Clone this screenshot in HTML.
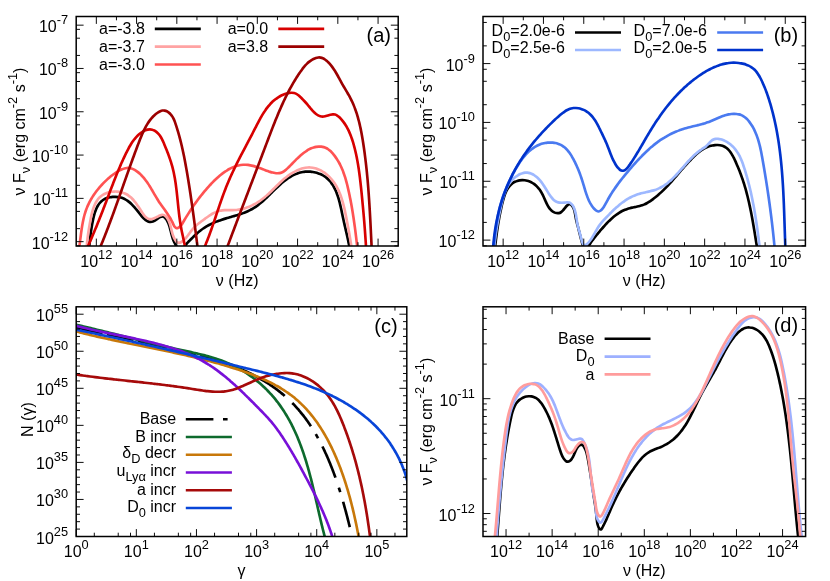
<!DOCTYPE html>
<html><head><meta charset="utf-8"><title>SED parameter study</title>
<style>html,body{margin:0;padding:0;background:#fff}svg{display:block;will-change:transform}</style></head>
<body>
<svg width="830" height="581" viewBox="0 0 830 581" font-family='"Liberation Sans", sans-serif' font-size="16.0" fill="#000">
<rect width="830" height="581" fill="#fff"/>
<g id="panel-a">
<clipPath id="clip-a"><rect x="76.2" y="16.5" width="322" height="229.5"/></clipPath>
<g clip-path="url(#clip-a)" fill="none" stroke-width="2.65" stroke-linejoin="round">
<path d="M88.78 252.35C88.81 251.91 88.91 250.59 88.99 249.72C89.06 248.84 89.13 247.98 89.2 247.13C89.28 246.27 89.35 245.42 89.43 244.58C89.51 243.74 89.59 242.9 89.68 242.07C89.76 241.24 89.85 240.41 89.94 239.59C90.03 238.77 90.12 237.95 90.22 237.13C90.32 236.31 90.42 235.49 90.53 234.68C90.64 233.86 90.75 233.05 90.86 232.23C90.98 231.41 91.1 230.6 91.23 229.78C91.36 228.96 91.49 228.14 91.63 227.31C91.77 226.49 91.91 225.66 92.06 224.83C92.21 224 92.37 223.16 92.54 222.32C92.7 221.48 92.87 220.63 93.05 219.77C93.24 218.92 93.42 218.06 93.63 217.21C93.83 216.35 94.05 215.5 94.28 214.65C94.52 213.81 94.77 212.97 95.04 212.15C95.31 211.32 95.6 210.51 95.92 209.72C96.24 208.93 96.58 208.16 96.96 207.41C97.33 206.67 97.73 205.94 98.16 205.25C98.6 204.56 99.06 203.9 99.56 203.28C100.07 202.65 100.61 202.06 101.19 201.52C101.77 200.98 102.39 200.47 103.05 200.02C103.72 199.56 104.43 199.16 105.18 198.8C105.93 198.45 106.72 198.14 107.54 197.88C108.35 197.62 109.2 197.41 110.06 197.25C110.92 197.09 111.81 196.98 112.69 196.91C113.58 196.85 114.48 196.83 115.36 196.86C116.25 196.89 117.15 196.96 118.01 197.08C118.88 197.21 119.75 197.37 120.58 197.59C121.41 197.8 122.22 198.06 123 198.36C123.78 198.66 124.52 199.01 125.24 199.39C125.97 199.78 126.66 200.2 127.33 200.66C128.01 201.11 128.66 201.6 129.29 202.12C129.93 202.64 130.54 203.18 131.14 203.75C131.74 204.32 132.33 204.92 132.9 205.53C133.48 206.14 134.04 206.78 134.6 207.42C135.16 208.06 135.71 208.73 136.26 209.39C136.81 210.06 137.35 210.74 137.9 211.42C138.44 212.1 138.99 212.79 139.54 213.48C140.09 214.16 140.65 214.86 141.21 215.53C141.78 216.2 142.35 216.87 142.93 217.5C143.51 218.12 144.11 218.73 144.72 219.26C145.32 219.79 145.95 220.29 146.59 220.68C147.23 221.07 147.88 221.41 148.56 221.62C149.24 221.83 149.94 221.96 150.66 221.94C151.38 221.93 152.12 221.8 152.89 221.52C153.67 221.24 154.47 220.76 155.28 220.26C156.09 219.76 156.93 219.08 157.74 218.55C158.56 218.01 159.38 217.4 160.16 217.05C160.94 216.69 161.7 216.39 162.4 216.42C163.1 216.45 163.76 216.81 164.36 217.24C164.96 217.68 165.49 218.4 165.98 219.04C166.47 219.69 166.9 220.39 167.3 221.1C167.69 221.82 168.04 222.56 168.36 223.33C168.68 224.09 168.96 224.89 169.23 225.69C169.5 226.49 169.73 227.32 169.96 228.15C170.19 228.98 170.4 229.83 170.62 230.67C170.83 231.52 171.03 232.37 171.25 233.22C171.46 234.07 171.67 234.92 171.91 235.76C172.15 236.6 172.39 237.44 172.67 238.26C172.94 239.07 173.24 239.88 173.57 240.67C173.91 241.46 174.28 242.21 174.67 242.99C175.06 243.76 175.49 244.52 175.92 245.32C176.35 246.12 176.8 247.01 177.25 247.79C177.7 248.56 178.16 249.41 178.63 249.95C179.1 250.49 179.58 250.95 180.07 251.03C180.56 251.11 181.06 250.84 181.56 250.42C182.07 250.01 182.59 249.26 183.11 248.56C183.64 247.86 184.18 246.97 184.72 246.22C185.27 245.47 185.82 244.74 186.39 244.05C186.95 243.37 187.53 242.74 188.11 242.12C188.69 241.49 189.28 240.91 189.87 240.31C190.46 239.71 191.06 239.13 191.67 238.53C192.27 237.93 192.88 237.32 193.49 236.72C194.11 236.12 194.73 235.51 195.36 234.92C195.99 234.33 196.62 233.74 197.26 233.17C197.91 232.6 198.56 232.05 199.21 231.51C199.87 230.98 200.54 230.46 201.21 229.96C201.89 229.46 202.57 228.97 203.26 228.51C203.95 228.04 204.65 227.59 205.36 227.15C206.06 226.72 206.77 226.29 207.49 225.89C208.21 225.48 208.94 225.09 209.68 224.71C210.41 224.33 211.15 223.97 211.9 223.61C212.65 223.26 213.4 222.92 214.17 222.59C214.93 222.26 215.7 221.94 216.47 221.64C217.25 221.33 218.03 221.03 218.81 220.75C219.6 220.46 220.4 220.18 221.2 219.91C222 219.65 222.8 219.39 223.61 219.13C224.42 218.88 225.23 218.63 226.05 218.38C226.87 218.14 227.69 217.9 228.51 217.66C229.33 217.42 230.15 217.19 230.97 216.95C231.79 216.71 232.61 216.48 233.43 216.24C234.25 216 235.08 215.76 235.89 215.51C236.71 215.27 237.52 215.02 238.33 214.76C239.14 214.5 239.95 214.24 240.75 213.97C241.55 213.7 242.35 213.42 243.14 213.13C243.93 212.84 244.71 212.54 245.48 212.22C246.26 211.91 247.02 211.59 247.78 211.24C248.54 210.9 249.29 210.55 250.02 210.18C250.76 209.8 251.49 209.41 252.2 209.01C252.92 208.6 253.62 208.17 254.31 207.73C255 207.28 255.68 206.82 256.35 206.35C257.03 205.87 257.69 205.38 258.34 204.87C259 204.37 259.65 203.85 260.29 203.32C260.93 202.79 261.56 202.25 262.19 201.7C262.82 201.15 263.44 200.59 264.06 200.02C264.68 199.45 265.29 198.87 265.91 198.29C266.52 197.71 267.13 197.12 267.74 196.52C268.35 195.93 268.95 195.33 269.56 194.73C270.17 194.13 270.78 193.52 271.39 192.92C272 192.31 272.6 191.7 273.22 191.1C273.83 190.49 274.45 189.89 275.07 189.28C275.69 188.68 276.31 188.08 276.94 187.49C277.57 186.89 278.2 186.3 278.84 185.71C279.48 185.13 280.13 184.54 280.79 183.97C281.44 183.4 282.1 182.84 282.77 182.29C283.44 181.74 284.12 181.2 284.8 180.67C285.49 180.14 286.18 179.63 286.88 179.13C287.58 178.64 288.28 178.15 289 177.69C289.71 177.23 290.44 176.79 291.17 176.37C291.9 175.95 292.64 175.54 293.39 175.17C294.14 174.79 294.89 174.44 295.66 174.12C296.42 173.79 297.2 173.49 297.98 173.22C298.76 172.96 299.56 172.71 300.36 172.51C301.16 172.3 301.97 172.12 302.79 171.98C303.61 171.84 304.44 171.73 305.28 171.66C306.12 171.59 306.97 171.56 307.81 171.56C308.66 171.56 309.52 171.59 310.37 171.66C311.22 171.73 312.08 171.84 312.92 171.98C313.77 172.11 314.61 172.28 315.44 172.49C316.27 172.69 317.09 172.93 317.89 173.2C318.7 173.46 319.49 173.76 320.26 174.09C321.03 174.43 321.78 174.79 322.5 175.18C323.23 175.57 323.93 175.99 324.61 176.44C325.28 176.89 325.92 177.38 326.54 177.88C327.16 178.39 327.75 178.92 328.32 179.48C328.89 180.04 329.43 180.63 329.95 181.24C330.47 181.84 330.96 182.47 331.43 183.13C331.91 183.78 332.36 184.45 332.79 185.14C333.22 185.83 333.63 186.54 334.02 187.27C334.42 188 334.79 188.74 335.15 189.5C335.5 190.26 335.84 191.04 336.17 191.82C336.49 192.61 336.8 193.41 337.09 194.22C337.39 195.03 337.67 195.86 337.94 196.69C338.21 197.52 338.47 198.36 338.71 199.2C338.96 200.05 339.2 200.9 339.42 201.76C339.65 202.62 339.87 203.48 340.08 204.35C340.29 205.21 340.49 206.08 340.69 206.95C340.89 207.82 341.08 208.69 341.27 209.55C341.46 210.42 341.64 211.29 341.83 212.15C342.01 213.01 342.19 213.88 342.36 214.73C342.54 215.58 342.72 216.43 342.9 217.28C343.08 218.12 343.26 218.95 343.44 219.78C343.62 220.6 343.8 221.42 343.98 222.23C344.17 223.05 344.35 223.85 344.53 224.66C344.72 225.46 344.9 226.25 345.09 227.05C345.27 227.85 345.46 228.64 345.64 229.43C345.82 230.22 346.01 231 346.19 231.79C346.37 232.58 346.56 233.37 346.74 234.16C346.92 234.95 347.1 235.74 347.27 236.54C347.45 237.33 347.63 238.13 347.8 238.93C347.98 239.73 348.15 240.53 348.32 241.35C348.49 242.16 348.66 242.97 348.82 243.8C348.98 244.62 349.15 245.45 349.3 246.29C349.46 247.14 349.62 247.98 349.77 248.84C349.92 249.7 350.07 250.57 350.21 251.45C350.35 252.34 350.56 253.69 350.63 254.13" stroke="#000000"/>
<path d="M86.42 252.4C86.44 251.94 86.5 250.57 86.54 249.68C86.59 248.79 86.64 247.92 86.7 247.05C86.76 246.19 86.83 245.34 86.9 244.49C86.97 243.65 87.05 242.82 87.13 242C87.21 241.17 87.3 240.35 87.4 239.54C87.49 238.73 87.59 237.92 87.7 237.12C87.8 236.31 87.91 235.51 88.02 234.71C88.14 233.91 88.26 233.11 88.38 232.31C88.5 231.51 88.63 230.71 88.76 229.9C88.89 229.1 89.03 228.29 89.16 227.47C89.3 226.66 89.44 225.84 89.59 225.01C89.73 224.18 89.88 223.34 90.03 222.5C90.18 221.65 90.34 220.79 90.5 219.93C90.66 219.07 90.82 218.2 91 217.33C91.18 216.46 91.36 215.59 91.56 214.72C91.75 213.85 91.96 212.99 92.19 212.13C92.41 211.27 92.65 210.42 92.91 209.58C93.17 208.75 93.45 207.92 93.75 207.11C94.06 206.3 94.38 205.51 94.73 204.74C95.07 203.97 95.45 203.21 95.85 202.49C96.25 201.76 96.68 201.06 97.14 200.39C97.61 199.72 98.1 199.07 98.63 198.47C99.16 197.86 99.72 197.28 100.33 196.75C100.93 196.22 101.57 195.72 102.25 195.27C102.93 194.81 103.65 194.4 104.39 194.03C105.14 193.66 105.92 193.32 106.71 193.04C107.51 192.75 108.34 192.5 109.17 192.3C110 192.09 110.86 191.93 111.72 191.81C112.57 191.69 113.45 191.61 114.31 191.57C115.18 191.54 116.05 191.54 116.91 191.59C117.77 191.64 118.63 191.74 119.47 191.87C120.31 192.01 121.15 192.18 121.95 192.41C122.76 192.63 123.55 192.89 124.31 193.2C125.06 193.51 125.79 193.86 126.5 194.25C127.21 194.64 127.88 195.08 128.54 195.54C129.2 196.01 129.83 196.51 130.45 197.04C131.06 197.57 131.66 198.14 132.23 198.73C132.81 199.32 133.37 199.94 133.92 200.57C134.47 201.21 135 201.88 135.52 202.56C136.04 203.23 136.55 203.94 137.05 204.65C137.56 205.36 138.05 206.09 138.54 206.82C139.03 207.56 139.51 208.31 139.99 209.06C140.47 209.81 140.94 210.57 141.42 211.32C141.9 212.07 142.37 212.84 142.87 213.56C143.36 214.28 143.85 214.99 144.38 215.62C144.9 216.26 145.44 216.86 146.01 217.35C146.59 217.85 147.19 218.29 147.83 218.59C148.48 218.89 149.16 219.11 149.89 219.17C150.63 219.23 151.42 219.14 152.24 218.96C153.06 218.77 153.95 218.42 154.8 218.06C155.65 217.7 156.53 217.21 157.37 216.79C158.2 216.37 159.02 215.87 159.8 215.55C160.59 215.22 161.35 214.89 162.08 214.82C162.8 214.75 163.51 214.84 164.16 215.13C164.82 215.42 165.45 215.99 166 216.55C166.56 217.11 167.05 217.79 167.5 218.47C167.94 219.15 168.32 219.88 168.67 220.63C169.02 221.38 169.31 222.17 169.59 222.98C169.87 223.79 170.11 224.62 170.34 225.47C170.58 226.31 170.78 227.18 171 228.04C171.21 228.91 171.41 229.78 171.63 230.65C171.85 231.52 172.07 232.39 172.32 233.25C172.57 234.1 172.83 234.96 173.15 235.78C173.46 236.61 173.79 237.42 174.18 238.2C174.57 238.97 175.01 239.77 175.5 240.44C175.99 241.1 176.54 241.79 177.12 242.19C177.7 242.59 178.33 242.86 178.97 242.86C179.62 242.87 180.31 242.55 180.96 242.22C181.62 241.89 182.28 241.37 182.9 240.87C183.52 240.36 184.12 239.79 184.71 239.19C185.29 238.6 185.86 237.94 186.42 237.28C186.98 236.62 187.52 235.91 188.06 235.21C188.6 234.5 189.13 233.77 189.67 233.06C190.21 232.34 190.74 231.61 191.28 230.91C191.82 230.2 192.37 229.5 192.92 228.84C193.48 228.17 194.05 227.53 194.63 226.93C195.22 226.33 195.82 225.77 196.43 225.23C197.05 224.69 197.68 224.19 198.32 223.7C198.95 223.2 199.61 222.73 200.26 222.24C200.92 221.75 201.59 221.28 202.26 220.78C202.93 220.29 203.61 219.78 204.29 219.27C204.98 218.77 205.67 218.25 206.37 217.75C207.06 217.25 207.77 216.74 208.48 216.25C209.2 215.77 209.92 215.29 210.65 214.83C211.38 214.38 212.12 213.93 212.86 213.53C213.61 213.12 214.37 212.73 215.13 212.39C215.9 212.04 216.68 211.72 217.47 211.45C218.25 211.19 219.05 210.95 219.86 210.77C220.67 210.59 221.49 210.47 222.32 210.37C223.15 210.28 223.99 210.23 224.83 210.19C225.68 210.16 226.53 210.15 227.38 210.15C228.23 210.15 229.09 210.16 229.95 210.17C230.81 210.17 231.67 210.18 232.52 210.16C233.38 210.14 234.24 210.11 235.09 210.05C235.94 209.98 236.79 209.9 237.63 209.79C238.47 209.67 239.31 209.54 240.15 209.38C240.98 209.22 241.81 209.04 242.63 208.84C243.45 208.64 244.27 208.41 245.08 208.16C245.89 207.92 246.69 207.65 247.48 207.36C248.28 207.08 249.07 206.77 249.85 206.45C250.62 206.12 251.39 205.78 252.16 205.42C252.92 205.05 253.67 204.67 254.41 204.28C255.15 203.88 255.89 203.47 256.61 203.04C257.33 202.62 258.04 202.17 258.74 201.72C259.44 201.26 260.13 200.79 260.8 200.3C261.48 199.82 262.14 199.32 262.79 198.81C263.44 198.3 264.08 197.78 264.72 197.25C265.35 196.72 265.97 196.18 266.59 195.63C267.2 195.08 267.81 194.52 268.41 193.96C269.02 193.39 269.61 192.82 270.21 192.25C270.8 191.67 271.39 191.09 271.98 190.5C272.57 189.92 273.16 189.33 273.75 188.74C274.34 188.16 274.93 187.56 275.52 186.98C276.11 186.39 276.71 185.79 277.31 185.21C277.9 184.62 278.51 184.03 279.12 183.45C279.72 182.87 280.34 182.29 280.96 181.71C281.59 181.14 282.22 180.57 282.86 180.01C283.5 179.45 284.15 178.89 284.81 178.34C285.48 177.8 286.15 177.26 286.84 176.73C287.53 176.21 288.23 175.69 288.95 175.18C289.66 174.68 290.4 174.18 291.14 173.71C291.88 173.23 292.64 172.77 293.41 172.33C294.17 171.9 294.95 171.48 295.73 171.08C296.52 170.69 297.31 170.32 298.11 169.98C298.91 169.64 299.71 169.32 300.52 169.04C301.33 168.76 302.14 168.51 302.96 168.3C303.77 168.09 304.59 167.91 305.41 167.77C306.22 167.63 307.04 167.53 307.85 167.48C308.67 167.42 309.48 167.41 310.29 167.45C311.1 167.48 311.9 167.57 312.7 167.69C313.5 167.82 314.29 167.99 315.07 168.2C315.86 168.41 316.64 168.66 317.4 168.95C318.17 169.23 318.93 169.56 319.68 169.91C320.42 170.27 321.16 170.66 321.88 171.08C322.61 171.5 323.32 171.96 324.01 172.44C324.71 172.92 325.39 173.42 326.05 173.95C326.72 174.48 327.37 175.04 327.99 175.61C328.62 176.18 329.23 176.78 329.83 177.39C330.42 178 330.99 178.64 331.54 179.28C332.08 179.92 332.61 180.58 333.12 181.25C333.62 181.92 334.11 182.61 334.58 183.3C335.04 184 335.49 184.7 335.92 185.42C336.34 186.14 336.75 186.87 337.15 187.61C337.54 188.35 337.92 189.1 338.28 189.86C338.64 190.61 338.98 191.38 339.31 192.16C339.64 192.93 339.96 193.71 340.26 194.5C340.56 195.29 340.85 196.09 341.13 196.89C341.4 197.69 341.67 198.5 341.92 199.32C342.18 200.13 342.42 200.95 342.65 201.77C342.89 202.59 343.11 203.42 343.33 204.25C343.54 205.08 343.75 205.91 343.95 206.74C344.15 207.58 344.35 208.41 344.54 209.25C344.72 210.09 344.91 210.92 345.08 211.76C345.26 212.6 345.43 213.44 345.6 214.27C345.77 215.11 345.94 215.95 346.11 216.78C346.27 217.61 346.43 218.44 346.6 219.27C346.76 220.1 346.92 220.93 347.08 221.75C347.23 222.58 347.39 223.4 347.55 224.22C347.7 225.04 347.86 225.86 348.01 226.68C348.16 227.5 348.32 228.32 348.47 229.13C348.62 229.95 348.76 230.77 348.91 231.59C349.06 232.4 349.2 233.22 349.35 234.04C349.49 234.86 349.63 235.68 349.77 236.5C349.91 237.32 350.05 238.14 350.19 238.96C350.33 239.78 350.46 240.61 350.59 241.43C350.73 242.26 350.86 243.09 350.99 243.92C351.12 244.75 351.25 245.59 351.38 246.43C351.5 247.26 351.63 248.1 351.75 248.95C351.87 249.79 351.99 250.64 352.11 251.49C352.23 252.34 352.41 253.63 352.47 254.06" stroke="#ffa3a3"/>
<path d="M78.44 252.17C78.51 251.78 78.72 250.59 78.85 249.8C78.98 249 79.11 248.19 79.23 247.38C79.35 246.57 79.46 245.75 79.58 244.93C79.69 244.11 79.8 243.28 79.91 242.45C80.01 241.62 80.12 240.78 80.23 239.95C80.33 239.11 80.44 238.27 80.54 237.42C80.65 236.58 80.76 235.73 80.87 234.89C80.97 234.04 81.09 233.19 81.2 232.34C81.31 231.49 81.43 230.64 81.55 229.79C81.68 228.94 81.8 228.09 81.94 227.25C82.07 226.4 82.21 225.55 82.36 224.71C82.5 223.87 82.66 223.02 82.82 222.19C82.98 221.35 83.15 220.51 83.34 219.68C83.52 218.85 83.71 218.02 83.91 217.2C84.11 216.38 84.33 215.56 84.55 214.75C84.78 213.93 85.02 213.13 85.27 212.33C85.52 211.53 85.79 210.74 86.07 209.95C86.35 209.16 86.65 208.39 86.96 207.62C87.27 206.85 87.59 206.08 87.93 205.33C88.27 204.57 88.63 203.82 89 203.08C89.36 202.34 89.75 201.61 90.14 200.88C90.53 200.16 90.94 199.44 91.36 198.72C91.78 198.01 92.22 197.31 92.66 196.61C93.11 195.91 93.56 195.22 94.03 194.53C94.5 193.85 94.98 193.17 95.48 192.5C95.97 191.83 96.47 191.17 96.98 190.51C97.5 189.85 98.02 189.2 98.56 188.56C99.09 187.91 99.64 187.27 100.19 186.64C100.75 186.01 101.31 185.39 101.89 184.77C102.46 184.15 103.04 183.54 103.63 182.93C104.23 182.33 104.83 181.73 105.44 181.13C106.04 180.54 106.66 179.96 107.29 179.38C107.92 178.8 108.55 178.24 109.2 177.68C109.85 177.13 110.51 176.58 111.17 176.05C111.84 175.52 112.52 175 113.21 174.5C113.9 174 114.6 173.51 115.31 173.04C116.02 172.56 116.75 172.11 117.48 171.67C118.22 171.23 118.96 170.81 119.72 170.42C120.48 170.02 121.26 169.63 122.04 169.29C122.82 168.96 123.62 168.64 124.4 168.41C125.19 168.19 125.99 168.02 126.77 167.95C127.56 167.88 128.34 167.9 129.11 167.99C129.88 168.08 130.65 168.25 131.41 168.49C132.17 168.72 132.92 169.02 133.65 169.38C134.39 169.73 135.11 170.15 135.83 170.61C136.54 171.07 137.24 171.58 137.92 172.12C138.6 172.65 139.27 173.24 139.92 173.84C140.57 174.44 141.2 175.08 141.81 175.72C142.42 176.36 143.01 177.03 143.58 177.69C144.15 178.36 144.7 179.04 145.23 179.72C145.76 180.4 146.27 181.09 146.77 181.78C147.26 182.47 147.74 183.17 148.21 183.87C148.68 184.57 149.13 185.28 149.58 185.99C150.02 186.7 150.45 187.41 150.88 188.12C151.31 188.83 151.73 189.55 152.15 190.27C152.56 190.98 152.97 191.7 153.39 192.41C153.8 193.13 154.2 193.84 154.62 194.55C155.03 195.27 155.44 195.98 155.86 196.69C156.27 197.4 156.69 198.1 157.12 198.8C157.55 199.5 157.98 200.2 158.43 200.9C158.88 201.59 159.33 202.28 159.8 202.96C160.26 203.64 160.74 204.32 161.22 205C161.7 205.68 162.19 206.35 162.67 207.03C163.16 207.71 163.66 208.39 164.15 209.07C164.64 209.75 165.14 210.43 165.63 211.12C166.12 211.81 166.6 212.51 167.08 213.21C167.56 213.92 168.04 214.63 168.51 215.35C168.97 216.07 169.43 216.8 169.88 217.55C170.32 218.29 170.76 219.05 171.17 219.82C171.59 220.6 171.99 221.39 172.38 222.19C172.77 222.99 173.12 223.86 173.5 224.62C173.88 225.37 174.23 226.17 174.67 226.73C175.11 227.29 175.57 227.77 176.12 227.97C176.66 228.18 177.32 228.14 177.93 227.95C178.54 227.76 179.18 227.33 179.76 226.81C180.34 226.3 180.89 225.6 181.42 224.89C181.95 224.17 182.45 223.32 182.95 222.51C183.45 221.7 183.94 220.85 184.42 220.04C184.91 219.22 185.38 218.43 185.86 217.64C186.33 216.86 186.8 216.09 187.27 215.34C187.74 214.58 188.2 213.84 188.66 213.11C189.12 212.38 189.58 211.66 190.04 210.95C190.5 210.24 190.96 209.54 191.42 208.85C191.87 208.16 192.33 207.49 192.79 206.81C193.25 206.14 193.71 205.47 194.17 204.81C194.63 204.16 195.09 203.5 195.55 202.86C196.02 202.21 196.49 201.57 196.96 200.93C197.43 200.29 197.91 199.65 198.39 199.02C198.87 198.39 199.35 197.76 199.84 197.13C200.33 196.5 200.83 195.87 201.33 195.24C201.83 194.61 202.34 193.98 202.86 193.35C203.38 192.72 203.9 192.09 204.43 191.45C204.97 190.82 205.51 190.18 206.06 189.54C206.61 188.9 207.17 188.25 207.74 187.61C208.31 186.96 208.88 186.32 209.47 185.68C210.06 185.03 210.65 184.39 211.25 183.75C211.86 183.12 212.47 182.48 213.09 181.85C213.7 181.23 214.33 180.6 214.97 179.99C215.6 179.38 216.24 178.77 216.89 178.18C217.54 177.58 218.2 177 218.86 176.42C219.53 175.85 220.2 175.29 220.88 174.74C221.56 174.2 222.25 173.66 222.94 173.15C223.63 172.64 224.33 172.14 225.04 171.66C225.75 171.18 226.46 170.71 227.18 170.27C227.9 169.83 228.62 169.41 229.36 169.01C230.09 168.62 230.83 168.24 231.57 167.89C232.32 167.54 233.07 167.22 233.82 166.92C234.58 166.62 235.34 166.35 236.11 166.11C236.87 165.87 237.65 165.66 238.42 165.48C239.2 165.3 239.98 165.15 240.77 165.03C241.56 164.91 242.35 164.83 243.15 164.78C243.95 164.74 244.75 164.72 245.56 164.75C246.36 164.78 247.18 164.84 247.99 164.94C248.81 165.04 249.63 165.17 250.45 165.34C251.27 165.5 252.09 165.69 252.92 165.9C253.75 166.12 254.58 166.36 255.4 166.61C256.23 166.87 257.06 167.14 257.89 167.42C258.72 167.71 259.55 168.01 260.38 168.31C261.21 168.61 262.04 168.92 262.86 169.23C263.68 169.54 264.51 169.85 265.33 170.15C266.14 170.46 266.96 170.76 267.77 171.05C268.58 171.33 269.39 171.62 270.19 171.87C270.99 172.13 271.79 172.37 272.58 172.57C273.37 172.77 274.16 172.95 274.94 173.06C275.71 173.18 276.49 173.26 277.25 173.27C278.01 173.27 278.77 173.23 279.52 173.1C280.27 172.97 281.01 172.77 281.74 172.48C282.47 172.18 283.19 171.79 283.9 171.33C284.61 170.88 285.31 170.32 286 169.74C286.69 169.16 287.37 168.51 288.03 167.87C288.69 167.23 289.34 166.55 289.98 165.9C290.62 165.25 291.24 164.6 291.85 163.97C292.46 163.34 293.06 162.72 293.66 162.11C294.25 161.51 294.84 160.91 295.43 160.33C296.01 159.74 296.59 159.17 297.18 158.61C297.77 158.04 298.36 157.49 298.95 156.94C299.55 156.4 300.15 155.86 300.77 155.34C301.38 154.81 302 154.29 302.64 153.78C303.28 153.26 303.94 152.76 304.61 152.26C305.29 151.76 305.98 151.26 306.69 150.8C307.41 150.33 308.14 149.87 308.89 149.45C309.65 149.04 310.42 148.64 311.22 148.31C312.01 147.97 312.83 147.67 313.66 147.43C314.48 147.18 315.33 146.99 316.18 146.85C317.03 146.71 317.89 146.62 318.73 146.6C319.58 146.57 320.43 146.6 321.26 146.69C322.09 146.79 322.91 146.94 323.71 147.15C324.5 147.37 325.28 147.66 326.03 148.01C326.77 148.36 327.48 148.78 328.17 149.25C328.85 149.72 329.51 150.27 330.14 150.83C330.77 151.39 331.37 152.01 331.95 152.64C332.54 153.26 333.09 153.92 333.64 154.58C334.18 155.25 334.7 155.92 335.2 156.6C335.7 157.28 336.18 157.98 336.65 158.68C337.11 159.38 337.56 160.09 337.99 160.81C338.43 161.53 338.84 162.26 339.24 163C339.64 163.73 340.02 164.48 340.39 165.23C340.76 165.98 341.12 166.74 341.46 167.51C341.8 168.27 342.13 169.04 342.45 169.82C342.77 170.6 343.07 171.38 343.36 172.17C343.66 172.96 343.94 173.75 344.21 174.55C344.48 175.35 344.74 176.15 344.99 176.95C345.25 177.76 345.49 178.57 345.73 179.38C345.96 180.19 346.19 181.01 346.41 181.83C346.63 182.65 346.84 183.47 347.05 184.29C347.26 185.11 347.46 185.93 347.65 186.76C347.85 187.58 348.04 188.41 348.23 189.23C348.42 190.06 348.6 190.88 348.78 191.71C348.96 192.53 349.14 193.36 349.31 194.18C349.49 195.01 349.66 195.83 349.83 196.66C349.99 197.48 350.16 198.31 350.32 199.13C350.48 199.96 350.64 200.79 350.8 201.61C350.95 202.44 351.1 203.26 351.26 204.09C351.41 204.91 351.55 205.74 351.7 206.57C351.84 207.39 351.98 208.22 352.12 209.04C352.26 209.87 352.4 210.7 352.54 211.52C352.67 212.35 352.8 213.18 352.93 214.01C353.07 214.83 353.19 215.66 353.32 216.49C353.45 217.32 353.57 218.14 353.69 218.97C353.81 219.8 353.93 220.63 354.05 221.46C354.17 222.29 354.29 223.12 354.4 223.95C354.52 224.78 354.63 225.61 354.74 226.44C354.86 227.27 354.97 228.1 355.07 228.93C355.18 229.76 355.29 230.59 355.4 231.43C355.5 232.26 355.61 233.09 355.71 233.92C355.81 234.76 355.92 235.59 356.02 236.43C356.12 237.26 356.22 238.1 356.32 238.93C356.42 239.77 356.52 240.6 356.62 241.44C356.71 242.28 356.81 243.11 356.91 243.95C357 244.79 357.1 245.63 357.2 246.47C357.29 247.31 357.39 248.15 357.48 248.99C357.57 249.83 357.67 250.67 357.76 251.51C357.86 252.35 358 253.62 358.04 254.04" stroke="#ff5252"/>
<path d="M84.78 253.35C84.95 252.98 85.47 251.86 85.81 251.12C86.15 250.37 86.49 249.62 86.83 248.86C87.17 248.11 87.51 247.35 87.84 246.59C88.18 245.84 88.52 245.07 88.85 244.31C89.19 243.55 89.52 242.78 89.86 242.01C90.19 241.24 90.53 240.47 90.86 239.7C91.19 238.93 91.52 238.15 91.86 237.38C92.19 236.6 92.52 235.82 92.85 235.04C93.17 234.26 93.5 233.48 93.83 232.7C94.16 231.92 94.48 231.14 94.81 230.35C95.13 229.57 95.46 228.78 95.78 227.99C96.11 227.21 96.43 226.42 96.75 225.63C97.07 224.84 97.39 224.05 97.71 223.26C98.03 222.47 98.35 221.68 98.67 220.89C98.98 220.1 99.3 219.31 99.61 218.52C99.93 217.73 100.24 216.94 100.56 216.15C100.87 215.35 101.18 214.56 101.49 213.77C101.8 212.98 102.11 212.19 102.42 211.4C102.73 210.61 103.03 209.82 103.34 209.03C103.64 208.24 103.95 207.46 104.25 206.67C104.56 205.88 104.86 205.09 105.16 204.31C105.46 203.52 105.76 202.74 106.06 201.96C106.36 201.17 106.65 200.39 106.95 199.61C107.24 198.83 107.54 198.05 107.83 197.27C108.13 196.49 108.42 195.71 108.72 194.94C109.01 194.16 109.3 193.38 109.6 192.61C109.89 191.83 110.18 191.06 110.48 190.29C110.77 189.51 111.06 188.74 111.36 187.97C111.65 187.19 111.95 186.42 112.25 185.65C112.54 184.88 112.84 184.11 113.14 183.34C113.44 182.57 113.74 181.8 114.04 181.03C114.34 180.26 114.64 179.49 114.95 178.72C115.25 177.95 115.56 177.18 115.87 176.41C116.18 175.64 116.49 174.87 116.8 174.1C117.11 173.33 117.43 172.56 117.75 171.79C118.07 171.02 118.39 170.25 118.71 169.47C119.04 168.7 119.37 167.93 119.7 167.16C120.03 166.39 120.36 165.62 120.7 164.85C121.04 164.07 121.38 163.3 121.73 162.53C122.08 161.75 122.43 160.98 122.78 160.2C123.14 159.43 123.5 158.65 123.86 157.88C124.22 157.1 124.59 156.32 124.96 155.54C125.34 154.76 125.72 153.98 126.1 153.2C126.48 152.42 126.87 151.64 127.27 150.86C127.67 150.09 128.07 149.31 128.48 148.54C128.9 147.77 129.32 147.01 129.75 146.25C130.18 145.5 130.63 144.75 131.08 144.02C131.54 143.29 132.01 142.56 132.49 141.86C132.98 141.15 133.47 140.46 133.99 139.79C134.5 139.12 135.03 138.46 135.58 137.83C136.13 137.2 136.69 136.59 137.28 136C137.87 135.42 138.47 134.85 139.1 134.32C139.72 133.79 140.37 133.28 141.04 132.81C141.72 132.34 142.41 131.89 143.13 131.48C143.85 131.08 144.59 130.7 145.35 130.39C146.1 130.09 146.87 129.82 147.63 129.65C148.4 129.48 149.18 129.37 149.94 129.38C150.7 129.38 151.46 129.49 152.19 129.68C152.93 129.87 153.65 130.17 154.35 130.54C155.05 130.9 155.73 131.36 156.37 131.86C157.01 132.37 157.64 132.95 158.21 133.57C158.79 134.18 159.33 134.86 159.84 135.57C160.34 136.27 160.79 137.02 161.23 137.78C161.66 138.54 162.06 139.33 162.44 140.13C162.82 140.93 163.18 141.75 163.53 142.56C163.89 143.37 164.23 144.19 164.57 145C164.91 145.81 165.24 146.62 165.57 147.42C165.9 148.22 166.23 149.02 166.55 149.82C166.87 150.62 167.18 151.41 167.49 152.2C167.79 153 168.09 153.79 168.39 154.58C168.68 155.37 168.97 156.16 169.25 156.94C169.53 157.73 169.8 158.52 170.07 159.31C170.34 160.1 170.59 160.89 170.84 161.68C171.1 162.47 171.34 163.26 171.57 164.06C171.81 164.85 172.03 165.64 172.25 166.44C172.47 167.24 172.67 168.04 172.87 168.84C173.07 169.65 173.26 170.45 173.44 171.26C173.63 172.07 173.8 172.88 173.97 173.7C174.14 174.51 174.3 175.33 174.45 176.14C174.6 176.96 174.75 177.78 174.89 178.6C175.03 179.42 175.16 180.25 175.29 181.07C175.42 181.9 175.55 182.73 175.67 183.56C175.79 184.38 175.9 185.22 176.01 186.05C176.12 186.88 176.23 187.71 176.33 188.55C176.43 189.38 176.53 190.22 176.63 191.05C176.73 191.89 176.82 192.73 176.91 193.56C177 194.4 177.09 195.24 177.18 196.08C177.27 196.92 177.36 197.76 177.44 198.6C177.53 199.44 177.61 200.28 177.7 201.12C177.78 201.96 177.87 202.81 177.95 203.65C178.04 204.49 178.12 205.33 178.21 206.17C178.3 207.01 178.38 207.85 178.47 208.69C178.56 209.54 178.66 210.38 178.75 211.22C178.84 212.06 178.94 212.89 179.04 213.73C179.14 214.57 179.24 215.41 179.35 216.25C179.45 217.08 179.56 217.92 179.68 218.75C179.79 219.59 179.91 220.42 180.03 221.25C180.16 222.09 180.29 222.92 180.42 223.75C180.55 224.58 180.69 225.4 180.84 226.23C180.99 227.06 181.14 227.88 181.3 228.7C181.45 229.53 181.62 230.35 181.78 231.17C181.95 231.99 182.12 232.81 182.29 233.63C182.47 234.45 182.64 235.27 182.82 236.09C182.99 236.91 183.17 237.73 183.35 238.55C183.52 239.37 183.7 240.19 183.87 241.01C184.04 241.83 184.22 242.65 184.39 243.48C184.55 244.3 184.72 245.13 184.88 245.95C185.04 246.78 185.2 247.61 185.35 248.44C185.5 249.27 185.65 250.1 185.78 250.94C185.92 251.77 186.11 253.03 186.17 253.45" stroke="#d80000"/>
<path d="M201.75 253.32C201.93 252.94 202.45 251.8 202.8 251.04C203.14 250.28 203.48 249.52 203.82 248.76C204.15 247.99 204.48 247.22 204.8 246.45C205.13 245.68 205.45 244.91 205.77 244.13C206.09 243.36 206.4 242.58 206.71 241.8C207.02 241.02 207.33 240.24 207.63 239.45C207.93 238.67 208.23 237.88 208.53 237.1C208.83 236.31 209.12 235.52 209.42 234.73C209.71 233.94 210 233.14 210.28 232.35C210.57 231.56 210.85 230.76 211.14 229.96C211.42 229.17 211.7 228.37 211.98 227.57C212.26 226.77 212.54 225.97 212.81 225.17C213.09 224.37 213.36 223.57 213.63 222.77C213.91 221.97 214.18 221.16 214.45 220.36C214.72 219.56 214.99 218.75 215.27 217.95C215.54 217.15 215.81 216.34 216.08 215.54C216.35 214.73 216.61 213.93 216.88 213.12C217.15 212.32 217.42 211.51 217.7 210.71C217.97 209.91 218.24 209.1 218.51 208.3C218.78 207.49 219.05 206.69 219.33 205.89C219.6 205.09 219.88 204.28 220.15 203.48C220.43 202.68 220.71 201.88 220.99 201.08C221.27 200.28 221.55 199.49 221.83 198.69C222.11 197.89 222.4 197.1 222.69 196.3C222.98 195.51 223.27 194.71 223.56 193.92C223.85 193.13 224.15 192.34 224.45 191.55C224.74 190.76 225.04 189.98 225.35 189.19C225.65 188.41 225.96 187.62 226.27 186.84C226.59 186.06 226.9 185.28 227.22 184.51C227.54 183.73 227.86 182.96 228.19 182.18C228.52 181.41 228.85 180.64 229.18 179.87C229.51 179.1 229.85 178.34 230.19 177.57C230.53 176.81 230.87 176.04 231.22 175.28C231.57 174.52 231.92 173.76 232.27 173C232.62 172.24 232.98 171.48 233.33 170.73C233.69 169.97 234.05 169.22 234.42 168.46C234.78 167.71 235.14 166.96 235.51 166.21C235.88 165.45 236.25 164.7 236.62 163.95C236.99 163.2 237.37 162.45 237.75 161.71C238.12 160.96 238.5 160.21 238.88 159.46C239.26 158.71 239.64 157.97 240.02 157.22C240.41 156.47 240.79 155.73 241.18 154.98C241.56 154.24 241.95 153.49 242.34 152.74C242.73 152 243.12 151.25 243.51 150.51C243.9 149.76 244.29 149.01 244.68 148.27C245.08 147.52 245.47 146.77 245.86 146.03C246.26 145.28 246.65 144.53 247.05 143.78C247.44 143.03 247.84 142.29 248.23 141.54C248.63 140.79 249.02 140.04 249.42 139.28C249.81 138.53 250.21 137.78 250.6 137.03C251 136.27 251.4 135.52 251.79 134.77C252.19 134.01 252.58 133.25 252.97 132.49C253.37 131.74 253.76 130.98 254.16 130.22C254.55 129.45 254.94 128.69 255.33 127.93C255.72 127.17 256.12 126.4 256.51 125.64C256.9 124.87 257.29 124.11 257.69 123.35C258.09 122.59 258.49 121.82 258.89 121.07C259.29 120.31 259.7 119.56 260.11 118.81C260.53 118.07 260.94 117.32 261.37 116.58C261.79 115.85 262.22 115.12 262.66 114.4C263.1 113.67 263.55 112.96 264.01 112.25C264.47 111.55 264.93 110.85 265.41 110.16C265.89 109.48 266.37 108.8 266.87 108.14C267.37 107.48 267.89 106.82 268.41 106.19C268.94 105.55 269.48 104.93 270.03 104.32C270.59 103.71 271.16 103.11 271.74 102.54C272.33 101.96 272.93 101.4 273.55 100.85C274.17 100.31 274.81 99.78 275.46 99.28C276.12 98.77 276.79 98.28 277.49 97.82C278.19 97.35 278.9 96.9 279.64 96.48C280.38 96.06 281.14 95.65 281.92 95.28C282.7 94.9 283.51 94.54 284.32 94.24C285.13 93.93 285.96 93.64 286.79 93.42C287.61 93.2 288.45 93.02 289.28 92.91C290.1 92.81 290.93 92.75 291.73 92.77C292.54 92.8 293.34 92.89 294.11 93.07C294.88 93.26 295.64 93.52 296.36 93.88C297.07 94.25 297.76 94.75 298.42 95.27C299.08 95.79 299.69 96.43 300.3 97.01C300.91 97.58 301.5 98.15 302.08 98.73C302.65 99.31 303.21 99.88 303.77 100.46C304.33 101.05 304.87 101.64 305.42 102.25C305.97 102.86 306.51 103.48 307.07 104.13C307.62 104.78 308.17 105.46 308.74 106.15C309.3 106.84 309.87 107.56 310.45 108.26C311.04 108.96 311.63 109.68 312.24 110.35C312.84 111.03 313.46 111.7 314.1 112.31C314.74 112.92 315.38 113.51 316.06 114.03C316.73 114.54 317.41 115.01 318.12 115.38C318.83 115.76 319.56 116.07 320.31 116.27C321.07 116.47 321.84 116.57 322.65 116.57C323.45 116.57 324.28 116.42 325.12 116.24C325.96 116.07 326.82 115.78 327.67 115.54C328.53 115.3 329.39 115 330.24 114.8C331.08 114.6 331.92 114.39 332.72 114.35C333.53 114.3 334.32 114.33 335.06 114.52C335.81 114.72 336.52 115.09 337.2 115.52C337.88 115.95 338.52 116.52 339.15 117.09C339.77 117.66 340.36 118.3 340.94 118.93C341.51 119.56 342.06 120.21 342.59 120.87C343.12 121.53 343.63 122.2 344.12 122.89C344.61 123.57 345.08 124.27 345.53 124.98C345.98 125.69 346.41 126.41 346.82 127.14C347.23 127.88 347.63 128.62 348.01 129.37C348.39 130.12 348.75 130.88 349.1 131.65C349.45 132.41 349.79 133.19 350.11 133.97C350.43 134.75 350.74 135.54 351.03 136.34C351.33 137.13 351.61 137.93 351.89 138.73C352.16 139.54 352.42 140.34 352.67 141.16C352.93 141.97 353.17 142.78 353.41 143.6C353.64 144.41 353.87 145.23 354.09 146.05C354.32 146.86 354.53 147.68 354.74 148.5C354.95 149.32 355.15 150.15 355.34 150.97C355.54 151.79 355.73 152.61 355.91 153.44C356.09 154.26 356.27 155.09 356.44 155.91C356.61 156.74 356.78 157.56 356.94 158.39C357.1 159.22 357.25 160.05 357.4 160.88C357.55 161.7 357.7 162.53 357.84 163.36C357.98 164.19 358.12 165.03 358.25 165.86C358.39 166.69 358.51 167.52 358.64 168.35C358.77 169.19 358.89 170.02 359 170.85C359.12 171.69 359.24 172.52 359.35 173.36C359.46 174.19 359.57 175.03 359.67 175.86C359.78 176.7 359.88 177.53 359.98 178.37C360.08 179.21 360.18 180.04 360.28 180.88C360.38 181.72 360.47 182.56 360.56 183.39C360.66 184.23 360.75 185.07 360.84 185.91C360.93 186.75 361.02 187.59 361.11 188.42C361.2 189.26 361.28 190.1 361.37 190.94C361.46 191.78 361.54 192.62 361.63 193.46C361.71 194.3 361.8 195.14 361.88 195.98C361.97 196.82 362.05 197.66 362.13 198.5C362.21 199.34 362.3 200.17 362.38 201.01C362.46 201.85 362.54 202.69 362.62 203.53C362.7 204.38 362.78 205.22 362.86 206.06C362.94 206.9 363.01 207.74 363.09 208.58C363.17 209.42 363.24 210.26 363.32 211.1C363.4 211.94 363.47 212.78 363.54 213.62C363.62 214.46 363.69 215.3 363.76 216.14C363.84 216.98 363.91 217.83 363.98 218.67C364.05 219.51 364.12 220.35 364.19 221.19C364.26 222.03 364.32 222.87 364.39 223.71C364.46 224.56 364.53 225.4 364.59 226.24C364.66 227.08 364.72 227.92 364.79 228.76C364.85 229.6 364.91 230.45 364.98 231.29C365.04 232.13 365.1 232.97 365.16 233.81C365.22 234.65 365.28 235.49 365.34 236.34C365.4 237.18 365.45 238.02 365.51 238.86C365.57 239.7 365.62 240.54 365.68 241.39C365.73 242.23 365.79 243.07 365.84 243.91C365.89 244.75 365.94 245.59 365.99 246.44C366.05 247.28 366.1 248.12 366.14 248.96C366.19 249.8 366.24 250.64 366.29 251.49C366.33 252.33 366.4 253.59 366.43 254.01" stroke="#d80000"/>
<path d="M97.58 253.5C97.75 253.1 98.26 251.91 98.59 251.12C98.93 250.33 99.26 249.54 99.59 248.74C99.92 247.95 100.25 247.16 100.57 246.37C100.9 245.58 101.23 244.79 101.55 244C101.87 243.21 102.19 242.42 102.51 241.63C102.83 240.84 103.15 240.05 103.46 239.26C103.78 238.47 104.09 237.68 104.4 236.89C104.72 236.1 105.03 235.31 105.34 234.52C105.64 233.73 105.95 232.94 106.26 232.15C106.56 231.36 106.87 230.57 107.17 229.78C107.47 229 107.78 228.21 108.08 227.42C108.38 226.63 108.68 225.84 108.97 225.05C109.27 224.26 109.57 223.48 109.86 222.69C110.16 221.9 110.45 221.11 110.75 220.32C111.04 219.53 111.33 218.74 111.62 217.96C111.91 217.17 112.2 216.38 112.49 215.59C112.78 214.8 113.07 214.01 113.36 213.23C113.64 212.44 113.93 211.65 114.22 210.86C114.5 210.07 114.79 209.28 115.07 208.5C115.36 207.71 115.64 206.92 115.92 206.13C116.21 205.34 116.49 204.55 116.77 203.76C117.05 202.97 117.33 202.19 117.61 201.4C117.89 200.61 118.18 199.82 118.46 199.03C118.74 198.24 119.02 197.45 119.3 196.66C119.57 195.87 119.85 195.08 120.13 194.29C120.41 193.5 120.69 192.71 120.97 191.92C121.25 191.13 121.53 190.34 121.81 189.55C122.08 188.76 122.36 187.97 122.64 187.17C122.92 186.38 123.2 185.59 123.48 184.8C123.76 184.01 124.04 183.22 124.32 182.42C124.59 181.63 124.87 180.84 125.15 180.05C125.43 179.26 125.71 178.46 125.99 177.67C126.27 176.88 126.55 176.08 126.83 175.29C127.12 174.49 127.4 173.7 127.68 172.91C127.96 172.11 128.24 171.32 128.53 170.52C128.81 169.73 129.09 168.93 129.38 168.13C129.66 167.34 129.95 166.54 130.23 165.75C130.52 164.95 130.81 164.15 131.09 163.35C131.38 162.56 131.67 161.76 131.96 160.96C132.25 160.16 132.54 159.36 132.83 158.56C133.12 157.77 133.41 156.97 133.71 156.17C134 155.37 134.3 154.57 134.59 153.76C134.89 152.96 135.18 152.16 135.48 151.36C135.78 150.56 136.08 149.76 136.38 148.95C136.68 148.15 136.98 147.35 137.28 146.54C137.59 145.74 137.89 144.93 138.2 144.13C138.51 143.32 138.81 142.52 139.12 141.71C139.43 140.91 139.74 140.1 140.06 139.3C140.38 138.49 140.69 137.69 141.02 136.89C141.35 136.09 141.68 135.3 142.02 134.51C142.36 133.72 142.7 132.93 143.06 132.15C143.41 131.37 143.78 130.6 144.15 129.83C144.53 129.07 144.91 128.31 145.31 127.56C145.71 126.82 146.12 126.08 146.55 125.35C146.98 124.62 147.42 123.91 147.87 123.2C148.33 122.5 148.8 121.81 149.29 121.13C149.78 120.46 150.29 119.8 150.82 119.15C151.35 118.5 151.89 117.87 152.46 117.26C153.03 116.65 153.62 116.05 154.23 115.48C154.85 114.9 155.48 114.33 156.14 113.81C156.8 113.28 157.48 112.76 158.18 112.32C158.87 111.88 159.59 111.47 160.31 111.18C161.03 110.88 161.76 110.65 162.49 110.55C163.21 110.46 163.95 110.48 164.67 110.6C165.39 110.73 166.12 110.99 166.81 111.32C167.5 111.66 168.19 112.1 168.83 112.6C169.47 113.1 170.09 113.69 170.66 114.32C171.23 114.95 171.76 115.65 172.23 116.37C172.71 117.09 173.13 117.86 173.52 118.64C173.91 119.42 174.24 120.24 174.57 121.07C174.9 121.89 175.18 122.74 175.47 123.58C175.76 124.42 176.04 125.26 176.31 126.1C176.58 126.94 176.84 127.78 177.1 128.62C177.36 129.46 177.61 130.29 177.86 131.13C178.11 131.96 178.35 132.8 178.59 133.63C178.83 134.46 179.06 135.29 179.29 136.12C179.51 136.94 179.73 137.77 179.95 138.6C180.17 139.42 180.38 140.25 180.59 141.07C180.8 141.9 181 142.72 181.2 143.54C181.4 144.36 181.6 145.18 181.79 146.01C181.98 146.83 182.17 147.65 182.35 148.47C182.54 149.29 182.72 150.11 182.9 150.92C183.07 151.74 183.25 152.56 183.42 153.38C183.59 154.2 183.76 155.02 183.92 155.84C184.09 156.65 184.25 157.47 184.41 158.29C184.57 159.11 184.73 159.93 184.89 160.75C185.04 161.57 185.2 162.38 185.35 163.2C185.5 164.02 185.65 164.84 185.8 165.67C185.95 166.49 186.09 167.31 186.24 168.13C186.38 168.95 186.53 169.78 186.67 170.6C186.81 171.42 186.96 172.25 187.1 173.08C187.24 173.9 187.38 174.73 187.52 175.56C187.66 176.38 187.79 177.21 187.93 178.04C188.07 178.87 188.2 179.7 188.34 180.53C188.47 181.36 188.61 182.19 188.74 183.03C188.87 183.86 189.01 184.69 189.14 185.53C189.27 186.36 189.4 187.2 189.53 188.03C189.66 188.87 189.79 189.7 189.92 190.54C190.04 191.37 190.17 192.21 190.3 193.05C190.42 193.88 190.55 194.72 190.67 195.56C190.8 196.4 190.92 197.24 191.04 198.08C191.17 198.91 191.29 199.75 191.41 200.59C191.53 201.43 191.65 202.27 191.77 203.11C191.89 203.95 192.01 204.79 192.13 205.63C192.25 206.47 192.37 207.32 192.49 208.16C192.6 209 192.72 209.84 192.84 210.68C192.95 211.52 193.07 212.36 193.18 213.2C193.3 214.04 193.41 214.89 193.53 215.73C193.64 216.57 193.75 217.41 193.86 218.25C193.98 219.09 194.09 219.93 194.2 220.77C194.31 221.62 194.42 222.46 194.53 223.3C194.64 224.14 194.75 224.98 194.86 225.82C194.97 226.66 195.08 227.5 195.19 228.34C195.29 229.18 195.4 230.02 195.51 230.86C195.62 231.7 195.72 232.54 195.83 233.37C195.93 234.21 196.04 235.05 196.15 235.89C196.25 236.73 196.36 237.56 196.46 238.4C196.57 239.24 196.67 240.07 196.77 240.91C196.88 241.74 196.98 242.58 197.08 243.41C197.19 244.25 197.29 245.08 197.39 245.91C197.5 246.75 197.6 247.58 197.7 248.41C197.8 249.24 197.9 250.07 198 250.9C198.11 251.73 198.26 252.98 198.31 253.39" stroke="#9c0000"/>
<path d="M225 253.07C225.15 252.68 225.59 251.49 225.88 250.71C226.18 249.92 226.48 249.13 226.77 248.34C227.07 247.55 227.36 246.76 227.66 245.97C227.96 245.18 228.25 244.39 228.55 243.6C228.85 242.81 229.14 242.02 229.44 241.23C229.74 240.45 230.03 239.66 230.33 238.87C230.63 238.08 230.92 237.29 231.22 236.5C231.52 235.71 231.81 234.92 232.11 234.14C232.41 233.35 232.71 232.56 233 231.77C233.3 230.98 233.6 230.19 233.9 229.41C234.2 228.62 234.49 227.83 234.79 227.04C235.09 226.25 235.39 225.46 235.69 224.68C235.98 223.89 236.28 223.1 236.58 222.31C236.88 221.52 237.18 220.74 237.48 219.95C237.78 219.16 238.07 218.37 238.37 217.58C238.67 216.8 238.97 216.01 239.27 215.22C239.57 214.43 239.87 213.65 240.17 212.86C240.46 212.07 240.76 211.28 241.06 210.5C241.36 209.71 241.66 208.92 241.96 208.13C242.26 207.35 242.56 206.56 242.86 205.77C243.16 204.98 243.46 204.2 243.76 203.41C244.05 202.62 244.35 201.84 244.65 201.05C244.95 200.26 245.25 199.47 245.55 198.69C245.85 197.9 246.15 197.11 246.45 196.33C246.75 195.54 247.05 194.75 247.35 193.96C247.65 193.18 247.95 192.39 248.25 191.6C248.55 190.82 248.85 190.03 249.15 189.24C249.45 188.46 249.75 187.67 250.04 186.88C250.34 186.1 250.64 185.31 250.94 184.52C251.24 183.73 251.54 182.95 251.84 182.16C252.14 181.37 252.44 180.59 252.74 179.8C253.04 179.01 253.34 178.23 253.64 177.44C253.94 176.65 254.24 175.87 254.54 175.08C254.84 174.29 255.14 173.51 255.44 172.72C255.74 171.93 256.03 171.15 256.33 170.36C256.63 169.57 256.93 168.79 257.23 168C257.53 167.21 257.83 166.43 258.13 165.64C258.43 164.85 258.73 164.07 259.03 163.28C259.32 162.49 259.62 161.71 259.92 160.92C260.22 160.13 260.52 159.35 260.82 158.56C261.12 157.77 261.42 156.98 261.71 156.2C262.01 155.41 262.31 154.62 262.61 153.84C262.91 153.05 263.21 152.26 263.5 151.48C263.8 150.69 264.1 149.9 264.4 149.12C264.7 148.33 265 147.54 265.29 146.76C265.59 145.97 265.89 145.18 266.19 144.4C266.48 143.61 266.78 142.82 267.08 142.03C267.38 141.25 267.67 140.46 267.97 139.67C268.27 138.89 268.57 138.1 268.87 137.31C269.17 136.53 269.47 135.74 269.77 134.96C270.07 134.17 270.37 133.38 270.67 132.6C270.97 131.81 271.27 131.03 271.58 130.24C271.88 129.46 272.18 128.68 272.49 127.89C272.79 127.11 273.1 126.33 273.41 125.54C273.72 124.76 274.03 123.98 274.34 123.2C274.65 122.42 274.96 121.63 275.28 120.85C275.59 120.07 275.91 119.3 276.23 118.52C276.54 117.74 276.86 116.96 277.19 116.18C277.51 115.41 277.83 114.63 278.16 113.86C278.48 113.08 278.81 112.31 279.14 111.53C279.48 110.76 279.81 109.99 280.15 109.22C280.48 108.45 280.82 107.68 281.16 106.91C281.5 106.14 281.85 105.37 282.2 104.6C282.54 103.84 282.9 103.07 283.25 102.31C283.6 101.54 283.96 100.78 284.32 100.02C284.68 99.26 285.05 98.5 285.41 97.74C285.78 96.99 286.15 96.23 286.53 95.48C286.9 94.72 287.28 93.97 287.67 93.22C288.05 92.47 288.44 91.72 288.83 90.98C289.22 90.23 289.62 89.49 290.02 88.75C290.42 88.01 290.82 87.27 291.23 86.53C291.64 85.79 292.06 85.06 292.48 84.33C292.89 83.6 293.32 82.87 293.75 82.14C294.18 81.42 294.61 80.7 295.05 79.98C295.49 79.26 295.94 78.54 296.39 77.82C296.84 77.11 297.3 76.4 297.76 75.69C298.22 74.98 298.69 74.28 299.16 73.58C299.64 72.88 300.11 72.18 300.6 71.49C301.09 70.79 301.58 70.1 302.08 69.42C302.59 68.74 303.1 68.06 303.64 67.4C304.17 66.74 304.72 66.09 305.29 65.46C305.86 64.83 306.45 64.21 307.07 63.61C307.69 63.02 308.34 62.44 309.02 61.89C309.7 61.35 310.42 60.81 311.16 60.33C311.9 59.84 312.69 59.38 313.47 58.99C314.26 58.6 315.07 58.25 315.88 58C316.68 57.75 317.5 57.55 318.29 57.48C319.09 57.41 319.88 57.44 320.64 57.57C321.4 57.71 322.14 57.97 322.86 58.29C323.58 58.61 324.28 59.04 324.95 59.5C325.62 59.96 326.28 60.49 326.9 61.04C327.53 61.59 328.14 62.17 328.72 62.77C329.31 63.37 329.87 63.99 330.41 64.63C330.95 65.27 331.48 65.93 331.99 66.6C332.5 67.27 332.99 67.96 333.47 68.66C333.95 69.36 334.41 70.08 334.86 70.8C335.32 71.52 335.76 72.26 336.2 73C336.63 73.74 337.06 74.49 337.48 75.24C337.9 75.99 338.32 76.75 338.73 77.51C339.14 78.26 339.55 79.03 339.96 79.78C340.37 80.54 340.77 81.3 341.18 82.06C341.6 82.81 342.01 83.56 342.42 84.31C342.84 85.05 343.26 85.79 343.69 86.52C344.12 87.25 344.55 87.98 344.98 88.7C345.41 89.42 345.84 90.14 346.27 90.85C346.7 91.57 347.13 92.28 347.55 93C347.98 93.72 348.39 94.44 348.8 95.16C349.21 95.88 349.61 96.61 350 97.34C350.39 98.07 350.76 98.81 351.13 99.55C351.5 100.29 351.85 101.04 352.2 101.8C352.54 102.55 352.88 103.31 353.21 104.07C353.53 104.84 353.85 105.61 354.15 106.38C354.46 107.15 354.76 107.93 355.05 108.71C355.34 109.5 355.62 110.28 355.89 111.07C356.16 111.86 356.42 112.66 356.68 113.45C356.94 114.25 357.18 115.05 357.42 115.86C357.66 116.66 357.9 117.47 358.12 118.28C358.35 119.09 358.57 119.91 358.78 120.72C358.99 121.54 359.2 122.36 359.4 123.18C359.59 124 359.79 124.83 359.97 125.66C360.16 126.48 360.34 127.31 360.52 128.14C360.7 128.97 360.87 129.8 361.03 130.64C361.2 131.47 361.36 132.31 361.52 133.14C361.68 133.98 361.83 134.82 361.98 135.65C362.13 136.49 362.27 137.33 362.41 138.17C362.56 139.01 362.69 139.85 362.83 140.69C362.96 141.53 363.09 142.37 363.22 143.21C363.35 144.06 363.48 144.9 363.6 145.74C363.73 146.58 363.85 147.42 363.97 148.26C364.09 149.1 364.21 149.94 364.32 150.78C364.44 151.61 364.55 152.45 364.67 153.29C364.78 154.13 364.89 154.97 364.99 155.81C365.1 156.65 365.21 157.49 365.31 158.32C365.41 159.16 365.51 160 365.61 160.84C365.71 161.67 365.81 162.51 365.91 163.35C366 164.19 366.1 165.02 366.19 165.86C366.28 166.7 366.37 167.53 366.46 168.37C366.55 169.21 366.64 170.04 366.72 170.88C366.81 171.72 366.89 172.55 366.97 173.39C367.05 174.23 367.13 175.06 367.21 175.9C367.29 176.74 367.37 177.57 367.45 178.41C367.52 179.24 367.6 180.08 367.67 180.92C367.74 181.75 367.81 182.59 367.89 183.43C367.96 184.26 368.02 185.1 368.09 185.93C368.16 186.77 368.23 187.61 368.29 188.44C368.36 189.28 368.42 190.11 368.48 190.95C368.55 191.79 368.61 192.62 368.67 193.46C368.73 194.3 368.79 195.13 368.85 195.97C368.91 196.81 368.96 197.64 369.02 198.48C369.08 199.32 369.13 200.15 369.19 200.99C369.24 201.83 369.29 202.66 369.35 203.5C369.4 204.34 369.45 205.17 369.5 206.01C369.55 206.85 369.6 207.69 369.65 208.53C369.7 209.36 369.75 210.2 369.8 211.04C369.85 211.88 369.9 212.72 369.94 213.55C369.99 214.39 370.04 215.23 370.08 216.07C370.13 216.91 370.17 217.75 370.22 218.59C370.26 219.43 370.31 220.27 370.35 221.11C370.39 221.95 370.44 222.79 370.48 223.63C370.52 224.47 370.56 225.31 370.61 226.15C370.65 226.99 370.69 227.84 370.73 228.68C370.77 229.52 370.82 230.36 370.86 231.2C370.9 232.05 370.94 232.89 370.98 233.73C371.02 234.58 371.06 235.42 371.1 236.26C371.14 237.11 371.18 237.95 371.22 238.8C371.26 239.64 371.31 240.49 371.35 241.33C371.39 242.18 371.43 243.02 371.47 243.87C371.51 244.72 371.55 245.56 371.59 246.41C371.63 247.26 371.67 248.11 371.72 248.96C371.76 249.8 371.8 250.65 371.84 251.5C371.88 252.35 371.95 253.63 371.97 254.05" stroke="#9c0000"/>
</g>
<path d="M96.33 246v-7.4M96.33 16.5v7.4M136.57 246v-7.4M136.57 16.5v7.4M176.82 246v-7.4M176.82 16.5v7.4M217.07 246v-7.4M217.07 16.5v7.4M257.32 246v-7.4M257.32 16.5v7.4M297.57 246v-7.4M297.57 16.5v7.4M337.82 246v-7.4M337.82 16.5v7.4M378.07 246v-7.4M378.07 16.5v7.4M116.45 246v-3.8M116.45 16.5v3.8M156.7 246v-3.8M156.7 16.5v3.8M196.95 246v-3.8M196.95 16.5v3.8M237.2 246v-3.8M237.2 16.5v3.8M277.45 246v-3.8M277.45 16.5v3.8M317.7 246v-3.8M317.7 16.5v3.8M357.95 246v-3.8M357.95 16.5v3.8M76.2 241.67h7.4M398.2 241.67h-7.4M76.2 198.37h7.4M398.2 198.37h-7.4M76.2 155.07h7.4M398.2 155.07h-7.4M76.2 111.76h7.4M398.2 111.76h-7.4M76.2 68.46h7.4M398.2 68.46h-7.4M76.2 25.16h7.4M398.2 25.16h-7.4M76.2 245.87h3.8M398.2 245.87h-3.8M76.2 228.63h3.8M398.2 228.63h-3.8M76.2 211.4h3.8M398.2 211.4h-3.8M76.2 202.56h3.8M398.2 202.56h-3.8M76.2 185.33h3.8M398.2 185.33h-3.8M76.2 168.1h3.8M398.2 168.1h-3.8M76.2 159.26h3.8M398.2 159.26h-3.8M76.2 142.03h3.8M398.2 142.03h-3.8M76.2 124.8h3.8M398.2 124.8h-3.8M76.2 115.96h3.8M398.2 115.96h-3.8M76.2 98.73h3.8M398.2 98.73h-3.8M76.2 81.5h3.8M398.2 81.5h-3.8M76.2 72.66h3.8M398.2 72.66h-3.8M76.2 55.43h3.8M398.2 55.43h-3.8M76.2 38.2h3.8M398.2 38.2h-3.8M76.2 29.36h3.8M398.2 29.36h-3.8" stroke="#000" stroke-width="0.95" fill="none"/>
<rect x="76.2" y="16.5" width="322" height="229.5" fill="none" stroke="#000" stroke-width="1.5"/>
<text x="96.33" y="266.7" text-anchor="middle">10<tspan dy="-8" font-size="12.8">12</tspan></text>
<text x="136.57" y="266.7" text-anchor="middle">10<tspan dy="-8" font-size="12.8">14</tspan></text>
<text x="176.82" y="266.7" text-anchor="middle">10<tspan dy="-8" font-size="12.8">16</tspan></text>
<text x="217.07" y="266.7" text-anchor="middle">10<tspan dy="-8" font-size="12.8">18</tspan></text>
<text x="257.32" y="266.7" text-anchor="middle">10<tspan dy="-8" font-size="12.8">20</tspan></text>
<text x="297.57" y="266.7" text-anchor="middle">10<tspan dy="-8" font-size="12.8">22</tspan></text>
<text x="337.82" y="266.7" text-anchor="middle">10<tspan dy="-8" font-size="12.8">24</tspan></text>
<text x="378.07" y="266.7" text-anchor="middle">10<tspan dy="-8" font-size="12.8">26</tspan></text>
<text x="68.1" y="248.67" text-anchor="end">10<tspan dy="-8" font-size="12.8">-12</tspan></text>
<text x="68.1" y="205.37" text-anchor="end">10<tspan dy="-8" font-size="12.8">-11</tspan></text>
<text x="68.1" y="162.07" text-anchor="end">10<tspan dy="-8" font-size="12.8">-10</tspan></text>
<text x="68.1" y="118.76" text-anchor="end">10<tspan dy="-8" font-size="12.8">-9</tspan></text>
<text x="68.1" y="75.46" text-anchor="end">10<tspan dy="-8" font-size="12.8">-8</tspan></text>
<text x="68.1" y="32.16" text-anchor="end">10<tspan dy="-8" font-size="12.8">-7</tspan></text>
</g>
<g id="panel-b">
<clipPath id="clip-b"><rect x="483" y="16.5" width="322.4" height="229.5"/></clipPath>
<g clip-path="url(#clip-b)" fill="none" stroke-width="2.65" stroke-linejoin="round">
<path d="M494.15 255.12C494.2 254.68 494.36 253.34 494.45 252.46C494.55 251.58 494.65 250.7 494.75 249.84C494.85 248.97 494.95 248.11 495.05 247.26C495.15 246.4 495.24 245.55 495.34 244.71C495.44 243.87 495.54 243.03 495.64 242.2C495.74 241.37 495.84 240.54 495.94 239.71C496.05 238.89 496.15 238.07 496.26 237.25C496.36 236.43 496.47 235.62 496.57 234.81C496.68 233.99 496.79 233.18 496.9 232.38C497.02 231.57 497.13 230.76 497.25 229.95C497.36 229.15 497.48 228.34 497.61 227.54C497.73 226.73 497.85 225.93 497.98 225.12C498.11 224.32 498.24 223.51 498.37 222.7C498.51 221.9 498.65 221.09 498.79 220.28C498.93 219.47 499.08 218.65 499.23 217.84C499.38 217.02 499.53 216.2 499.69 215.38C499.85 214.56 500.02 213.73 500.18 212.9C500.35 212.07 500.53 211.24 500.71 210.4C500.88 209.56 501.07 208.71 501.26 207.86C501.45 207.01 501.64 206.15 501.84 205.29C502.05 204.43 502.25 203.56 502.47 202.69C502.69 201.82 502.91 200.95 503.15 200.08C503.39 199.21 503.63 198.35 503.9 197.5C504.17 196.65 504.45 195.8 504.75 194.98C505.05 194.15 505.37 193.33 505.71 192.55C506.06 191.76 506.42 190.99 506.81 190.24C507.2 189.5 507.61 188.78 508.06 188.1C508.51 187.42 508.98 186.77 509.48 186.15C509.99 185.54 510.52 184.96 511.1 184.43C511.67 183.9 512.28 183.41 512.93 182.97C513.57 182.53 514.26 182.14 514.98 181.8C515.71 181.47 516.48 181.18 517.26 180.95C518.04 180.72 518.86 180.54 519.69 180.41C520.51 180.29 521.36 180.21 522.2 180.19C523.04 180.18 523.9 180.21 524.74 180.3C525.57 180.39 526.41 180.53 527.23 180.73C528.04 180.92 528.84 181.18 529.61 181.48C530.38 181.78 531.13 182.14 531.85 182.54C532.58 182.94 533.28 183.39 533.96 183.88C534.64 184.36 535.29 184.9 535.92 185.47C536.55 186.04 537.15 186.65 537.73 187.29C538.31 187.93 538.86 188.61 539.38 189.31C539.91 190.01 540.4 190.75 540.87 191.5C541.34 192.25 541.78 193.04 542.2 193.84C542.62 194.63 543.01 195.45 543.39 196.27C543.78 197.08 544.14 197.92 544.51 198.74C544.87 199.56 545.23 200.39 545.59 201.19C545.96 201.99 546.32 202.8 546.7 203.57C547.08 204.34 547.46 205.1 547.87 205.81C548.28 206.53 548.7 207.23 549.16 207.87C549.62 208.52 550.1 209.13 550.62 209.68C551.14 210.24 551.69 210.75 552.29 211.2C552.9 211.64 553.54 212.04 554.24 212.35C554.93 212.66 555.69 212.93 556.44 213.05C557.19 213.18 557.99 213.23 558.75 213.09C559.51 212.96 560.27 212.69 560.98 212.25C561.69 211.8 562.36 211.12 563.01 210.44C563.65 209.76 564.26 208.89 564.86 208.15C565.46 207.4 566.03 206.58 566.61 205.97C567.19 205.36 567.75 204.77 568.33 204.5C568.91 204.22 569.51 204.14 570.1 204.32C570.68 204.51 571.32 205.04 571.85 205.61C572.38 206.18 572.87 206.96 573.27 207.73C573.67 208.5 573.97 209.36 574.24 210.22C574.52 211.09 574.71 212.01 574.9 212.92C575.09 213.83 575.23 214.77 575.38 215.67C575.54 216.56 575.68 217.46 575.85 218.31C576.01 219.17 576.19 219.98 576.38 220.79C576.56 221.59 576.76 222.37 576.96 223.14C577.16 223.92 577.36 224.68 577.57 225.45C577.77 226.21 577.98 226.98 578.19 227.76C578.39 228.54 578.6 229.33 578.8 230.14C579 230.94 579.2 231.76 579.41 232.58C579.61 233.41 579.82 234.25 580.03 235.09C580.24 235.93 580.45 236.78 580.67 237.63C580.89 238.48 581.12 239.34 581.35 240.2C581.59 241.06 581.83 241.92 582.09 242.78C582.35 243.64 582.61 244.51 582.89 245.36C583.18 246.21 583.47 247.14 583.78 247.89C584.09 248.65 584.41 249.46 584.73 249.91C585.05 250.36 585.38 250.67 585.72 250.62C586.05 250.57 586.38 250.12 586.73 249.6C587.09 249.08 587.45 248.25 587.85 247.5C588.26 246.76 588.7 245.9 589.17 245.12C589.63 244.33 590.15 243.56 590.66 242.8C591.18 242.04 591.73 241.3 592.26 240.57C592.8 239.85 593.35 239.14 593.88 238.45C594.42 237.76 594.95 237.09 595.47 236.43C596 235.77 596.52 235.13 597.04 234.49C597.56 233.85 598.07 233.22 598.59 232.6C599.11 231.97 599.63 231.36 600.16 230.73C600.69 230.11 601.22 229.49 601.76 228.87C602.3 228.24 602.85 227.61 603.41 226.99C603.96 226.36 604.52 225.73 605.09 225.11C605.66 224.49 606.24 223.87 606.83 223.26C607.41 222.64 608.01 222.03 608.61 221.43C609.21 220.83 609.83 220.24 610.45 219.66C611.07 219.08 611.7 218.5 612.34 217.94C612.98 217.39 613.63 216.84 614.29 216.31C614.95 215.78 615.62 215.26 616.3 214.76C616.98 214.26 617.67 213.78 618.37 213.32C619.07 212.86 619.78 212.41 620.5 211.99C621.23 211.58 621.96 211.18 622.71 210.81C623.46 210.43 624.21 210.08 624.98 209.76C625.75 209.44 626.54 209.15 627.33 208.89C628.13 208.62 628.94 208.39 629.76 208.18C630.57 207.97 631.4 207.78 632.23 207.6C633.07 207.42 633.91 207.26 634.74 207.09C635.58 206.92 636.42 206.76 637.25 206.58C638.08 206.4 638.91 206.21 639.73 206C640.55 205.78 641.36 205.55 642.15 205.28C642.95 205.01 643.73 204.7 644.5 204.36C645.26 204.02 646.01 203.64 646.75 203.23C647.49 202.83 648.21 202.39 648.92 201.94C649.63 201.49 650.33 201.02 651.02 200.54C651.72 200.06 652.4 199.57 653.07 199.07C653.75 198.57 654.41 198.06 655.07 197.54C655.72 197.02 656.37 196.49 657.01 195.96C657.66 195.42 658.29 194.87 658.91 194.32C659.54 193.77 660.16 193.21 660.77 192.64C661.39 192.07 662 191.49 662.6 190.91C663.2 190.33 663.79 189.74 664.38 189.14C664.98 188.55 665.56 187.95 666.14 187.34C666.72 186.74 667.3 186.12 667.87 185.51C668.45 184.89 669.02 184.27 669.58 183.65C670.15 183.03 670.71 182.4 671.27 181.77C671.83 181.14 672.39 180.51 672.95 179.87C673.5 179.23 674.05 178.6 674.61 177.96C675.16 177.32 675.71 176.68 676.26 176.03C676.81 175.39 677.36 174.75 677.91 174.11C678.46 173.46 679.01 172.82 679.56 172.18C680.11 171.54 680.66 170.89 681.21 170.25C681.76 169.61 682.31 168.97 682.87 168.33C683.42 167.7 683.98 167.06 684.54 166.43C685.1 165.8 685.66 165.16 686.22 164.54C686.79 163.91 687.35 163.29 687.92 162.67C688.49 162.05 689.07 161.43 689.65 160.82C690.22 160.21 690.81 159.61 691.39 159C691.98 158.4 692.57 157.81 693.17 157.22C693.77 156.63 694.37 156.05 694.98 155.47C695.59 154.9 696.21 154.33 696.83 153.78C697.46 153.23 698.1 152.69 698.75 152.17C699.4 151.65 700.06 151.14 700.74 150.65C701.42 150.17 702.11 149.7 702.82 149.27C703.54 148.83 704.26 148.41 705.02 148.03C705.77 147.64 706.54 147.29 707.33 146.96C708.13 146.64 708.95 146.35 709.79 146.1C710.63 145.85 711.5 145.63 712.36 145.46C713.22 145.29 714.11 145.15 714.98 145.07C715.85 144.99 716.72 144.96 717.58 144.98C718.43 145 719.28 145.07 720.09 145.21C720.91 145.34 721.71 145.53 722.47 145.78C723.22 146.04 723.95 146.36 724.64 146.74C725.32 147.11 725.97 147.56 726.59 148.05C727.21 148.53 727.8 149.08 728.36 149.66C728.92 150.24 729.45 150.87 729.96 151.53C730.47 152.19 730.95 152.89 731.41 153.61C731.88 154.32 732.31 155.08 732.74 155.84C733.16 156.6 733.57 157.39 733.96 158.18C734.35 158.98 734.73 159.79 735.1 160.59C735.47 161.39 735.82 162.2 736.17 163C736.52 163.8 736.87 164.6 737.2 165.39C737.54 166.18 737.87 166.96 738.2 167.75C738.52 168.53 738.84 169.3 739.15 170.08C739.46 170.86 739.77 171.63 740.07 172.41C740.37 173.19 740.66 173.96 740.95 174.74C741.24 175.52 741.52 176.3 741.79 177.08C742.07 177.86 742.34 178.65 742.61 179.43C742.88 180.22 743.14 181.01 743.39 181.8C743.65 182.59 743.9 183.39 744.15 184.18C744.4 184.98 744.64 185.78 744.87 186.58C745.11 187.38 745.34 188.18 745.57 188.99C745.8 189.79 746.02 190.6 746.24 191.41C746.46 192.21 746.68 193.02 746.89 193.83C747.1 194.65 747.31 195.46 747.51 196.27C747.72 197.09 747.92 197.91 748.11 198.72C748.31 199.54 748.5 200.36 748.69 201.18C748.88 202 749.06 202.82 749.25 203.65C749.43 204.47 749.61 205.29 749.79 206.12C749.96 206.94 750.14 207.77 750.31 208.6C750.48 209.42 750.65 210.25 750.81 211.08C750.98 211.91 751.14 212.74 751.3 213.57C751.46 214.4 751.62 215.23 751.77 216.06C751.93 216.89 752.08 217.72 752.24 218.55C752.39 219.39 752.54 220.22 752.69 221.05C752.83 221.88 752.98 222.72 753.12 223.55C753.27 224.38 753.41 225.22 753.55 226.05C753.7 226.88 753.84 227.72 753.97 228.55C754.11 229.39 754.25 230.22 754.39 231.05C754.53 231.88 754.66 232.72 754.8 233.55C754.93 234.38 755.07 235.21 755.2 236.05C755.34 236.88 755.47 237.71 755.6 238.54C755.73 239.37 755.87 240.2 756 241.03C756.13 241.86 756.26 242.69 756.4 243.51C756.53 244.34 756.66 245.17 756.79 245.99C756.93 246.82 757.06 247.64 757.19 248.47C757.33 249.29 757.46 250.11 757.6 250.94C757.73 251.76 757.93 252.99 758 253.4" stroke="#000000"/>
<path d="M493.34 255.03C493.38 254.61 493.5 253.33 493.58 252.48C493.66 251.64 493.74 250.79 493.83 249.95C493.92 249.11 494.01 248.27 494.1 247.43C494.19 246.59 494.29 245.75 494.38 244.92C494.48 244.08 494.58 243.25 494.68 242.42C494.78 241.59 494.89 240.76 495 239.93C495.1 239.1 495.21 238.27 495.33 237.44C495.44 236.62 495.56 235.79 495.68 234.97C495.79 234.14 495.92 233.32 496.04 232.5C496.17 231.67 496.29 230.85 496.42 230.03C496.55 229.21 496.69 228.39 496.82 227.57C496.96 226.74 497.1 225.92 497.24 225.1C497.38 224.28 497.52 223.46 497.67 222.64C497.82 221.82 497.97 221.01 498.12 220.19C498.28 219.37 498.43 218.55 498.59 217.73C498.75 216.91 498.91 216.08 499.08 215.26C499.24 214.44 499.41 213.62 499.59 212.8C499.76 211.98 499.93 211.15 500.11 210.33C500.29 209.51 500.47 208.68 500.65 207.86C500.84 207.03 501.03 206.2 501.22 205.38C501.41 204.55 501.6 203.72 501.8 202.89C502 202.06 502.2 201.23 502.42 200.41C502.63 199.58 502.85 198.76 503.08 197.94C503.32 197.12 503.56 196.31 503.81 195.5C504.07 194.7 504.34 193.89 504.62 193.1C504.91 192.31 505.2 191.53 505.52 190.75C505.84 189.98 506.18 189.22 506.53 188.47C506.89 187.72 507.27 186.98 507.67 186.26C508.07 185.53 508.5 184.82 508.95 184.13C509.4 183.44 509.87 182.77 510.38 182.11C510.88 181.45 511.42 180.81 511.98 180.19C512.55 179.58 513.14 178.98 513.77 178.4C514.4 177.83 515.06 177.27 515.75 176.75C516.44 176.23 517.17 175.73 517.91 175.28C518.65 174.84 519.42 174.42 520.2 174.07C520.98 173.72 521.78 173.41 522.58 173.18C523.38 172.95 524.19 172.78 524.99 172.69C525.8 172.6 526.61 172.58 527.4 172.65C528.2 172.73 529 172.89 529.77 173.12C530.55 173.34 531.32 173.65 532.07 174.01C532.82 174.37 533.56 174.8 534.27 175.27C534.98 175.73 535.68 176.26 536.34 176.81C537.01 177.35 537.66 177.95 538.27 178.55C538.89 179.16 539.47 179.79 540.03 180.43C540.58 181.07 541.1 181.72 541.6 182.38C542.1 183.04 542.57 183.72 543.03 184.39C543.5 185.07 543.93 185.76 544.37 186.46C544.81 187.15 545.23 187.85 545.66 188.56C546.09 189.26 546.52 189.98 546.95 190.69C547.39 191.41 547.83 192.13 548.29 192.85C548.75 193.57 549.21 194.3 549.71 195.02C550.21 195.74 550.73 196.49 551.28 197.18C551.82 197.88 552.4 198.59 553.01 199.21C553.62 199.82 554.26 200.41 554.94 200.88C555.63 201.35 556.35 201.72 557.1 202.01C557.85 202.29 558.65 202.47 559.45 202.59C560.26 202.72 561.1 202.75 561.93 202.76C562.77 202.76 563.63 202.69 564.48 202.63C565.32 202.57 566.2 202.4 566.99 202.39C567.79 202.39 568.59 202.37 569.27 202.58C569.96 202.79 570.57 203.2 571.12 203.66C571.67 204.13 572.14 204.74 572.57 205.37C573.01 206 573.38 206.69 573.73 207.42C574.07 208.15 574.37 208.93 574.64 209.73C574.91 210.54 575.13 211.38 575.35 212.24C575.56 213.09 575.74 213.98 575.91 214.87C576.08 215.75 576.23 216.66 576.37 217.55C576.52 218.44 576.65 219.35 576.79 220.22C576.93 221.1 577.06 221.97 577.21 222.81C577.36 223.65 577.51 224.47 577.68 225.25C577.85 226.04 578.04 226.78 578.24 227.54C578.43 228.29 578.64 229.01 578.86 229.77C579.07 230.53 579.3 231.28 579.52 232.09C579.75 232.9 579.98 233.73 580.21 234.63C580.44 235.52 580.66 236.51 580.9 237.47C581.14 238.43 581.38 239.47 581.65 240.38C581.92 241.29 582.2 242.21 582.52 242.92C582.85 243.64 583.2 244.3 583.6 244.68C584.01 245.06 584.47 245.27 584.97 245.21C585.47 245.16 586.07 244.75 586.61 244.35C587.16 243.95 587.73 243.38 588.26 242.83C588.79 242.27 589.29 241.66 589.79 241.02C590.28 240.38 590.76 239.7 591.23 238.99C591.7 238.29 592.15 237.55 592.61 236.8C593.06 236.05 593.5 235.28 593.95 234.5C594.39 233.73 594.83 232.93 595.27 232.15C595.72 231.37 596.16 230.58 596.61 229.81C597.07 229.04 597.52 228.27 598 227.53C598.47 226.79 598.95 226.07 599.44 225.37C599.93 224.68 600.44 224.01 600.96 223.36C601.48 222.71 602.01 222.08 602.55 221.46C603.09 220.84 603.64 220.24 604.19 219.64C604.75 219.04 605.31 218.46 605.87 217.86C606.44 217.27 607.01 216.68 607.58 216.09C608.16 215.49 608.74 214.9 609.32 214.31C609.9 213.71 610.49 213.12 611.08 212.53C611.68 211.94 612.27 211.35 612.88 210.77C613.48 210.19 614.09 209.61 614.7 209.04C615.32 208.47 615.94 207.9 616.57 207.34C617.2 206.78 617.83 206.22 618.47 205.68C619.11 205.14 619.76 204.6 620.41 204.08C621.07 203.56 621.73 203.04 622.4 202.54C623.07 202.04 623.75 201.55 624.44 201.08C625.12 200.6 625.82 200.14 626.52 199.69C627.22 199.25 627.93 198.81 628.66 198.4C629.38 197.99 630.11 197.59 630.85 197.21C631.59 196.83 632.33 196.47 633.09 196.13C633.85 195.8 634.62 195.48 635.4 195.18C636.18 194.88 636.97 194.61 637.77 194.35C638.57 194.09 639.38 193.86 640.19 193.64C641 193.41 641.83 193.21 642.65 193.01C643.47 192.81 644.3 192.62 645.13 192.43C645.96 192.23 646.79 192.05 647.61 191.86C648.44 191.67 649.26 191.48 650.08 191.28C650.9 191.08 651.71 190.87 652.52 190.65C653.32 190.43 654.12 190.19 654.91 189.94C655.69 189.68 656.47 189.41 657.23 189.11C657.99 188.81 658.74 188.49 659.48 188.14C660.21 187.8 660.93 187.42 661.64 187.03C662.35 186.63 663.05 186.22 663.74 185.78C664.42 185.34 665.09 184.88 665.76 184.41C666.42 183.93 667.08 183.44 667.72 182.93C668.37 182.41 669 181.89 669.63 181.34C670.26 180.8 670.88 180.24 671.49 179.67C672.1 179.11 672.71 178.52 673.31 177.93C673.91 177.34 674.5 176.73 675.09 176.12C675.68 175.51 676.26 174.89 676.84 174.26C677.42 173.63 678 173 678.57 172.36C679.14 171.72 679.71 171.07 680.28 170.43C680.85 169.78 681.42 169.13 681.98 168.48C682.55 167.83 683.12 167.17 683.68 166.52C684.25 165.87 684.81 165.22 685.38 164.58C685.95 163.93 686.52 163.28 687.09 162.65C687.66 162.01 688.23 161.37 688.81 160.75C689.39 160.12 689.97 159.5 690.56 158.89C691.14 158.27 691.73 157.67 692.33 157.08C692.93 156.49 693.53 155.9 694.13 155.34C694.74 154.77 695.36 154.21 695.98 153.67C696.6 153.13 697.23 152.6 697.87 152.09C698.51 151.58 699.16 151.09 699.82 150.61C700.48 150.14 701.15 149.69 701.82 149.25C702.5 148.8 703.19 148.39 703.86 147.92C704.54 147.46 705.21 147 705.86 146.45C706.5 145.9 707.12 145.27 707.74 144.64C708.35 144 708.93 143.28 709.55 142.64C710.16 142.01 710.76 141.34 711.42 140.82C712.07 140.3 712.75 139.84 713.46 139.52C714.18 139.2 714.94 139 715.72 138.88C716.49 138.76 717.3 138.75 718.11 138.81C718.92 138.87 719.75 139.02 720.57 139.22C721.38 139.42 722.21 139.7 723.01 140C723.81 140.31 724.6 140.68 725.37 141.07C726.13 141.46 726.87 141.89 727.59 142.34C728.31 142.8 729 143.29 729.68 143.8C730.35 144.32 731 144.87 731.62 145.43C732.25 146 732.85 146.6 733.43 147.21C734.01 147.83 734.57 148.47 735.1 149.12C735.63 149.78 736.14 150.46 736.63 151.15C737.11 151.84 737.58 152.54 738.01 153.26C738.45 153.98 738.87 154.71 739.26 155.45C739.65 156.19 740.02 156.94 740.38 157.7C740.73 158.45 741.06 159.22 741.38 159.99C741.7 160.76 742 161.54 742.3 162.33C742.59 163.11 742.87 163.9 743.15 164.69C743.42 165.48 743.68 166.28 743.94 167.08C744.2 167.87 744.46 168.67 744.71 169.47C744.96 170.27 745.21 171.07 745.45 171.88C745.7 172.68 745.94 173.48 746.17 174.28C746.41 175.09 746.64 175.89 746.87 176.7C747.1 177.51 747.32 178.31 747.54 179.12C747.76 179.93 747.98 180.74 748.19 181.55C748.41 182.36 748.62 183.17 748.82 183.98C749.03 184.8 749.23 185.61 749.43 186.42C749.63 187.24 749.83 188.05 750.02 188.87C750.22 189.68 750.41 190.5 750.6 191.32C750.78 192.13 750.97 192.95 751.15 193.77C751.33 194.59 751.51 195.41 751.68 196.23C751.86 197.05 752.03 197.87 752.2 198.69C752.37 199.51 752.53 200.34 752.7 201.16C752.86 201.98 753.02 202.81 753.18 203.63C753.34 204.45 753.49 205.28 753.65 206.1C753.8 206.93 753.95 207.75 754.1 208.58C754.25 209.41 754.39 210.23 754.54 211.06C754.68 211.89 754.82 212.72 754.96 213.54C755.1 214.37 755.24 215.2 755.37 216.03C755.51 216.86 755.64 217.69 755.77 218.52C755.9 219.35 756.03 220.18 756.16 221.01C756.28 221.84 756.41 222.67 756.53 223.5C756.65 224.33 756.78 225.16 756.9 225.99C757.01 226.82 757.13 227.65 757.25 228.48C757.37 229.31 757.48 230.15 757.59 230.98C757.71 231.81 757.82 232.64 757.93 233.47C758.04 234.3 758.15 235.14 758.26 235.97C758.36 236.8 758.47 237.63 758.58 238.46C758.68 239.29 758.78 240.13 758.89 240.96C758.99 241.79 759.09 242.62 759.19 243.45C759.29 244.28 759.39 245.12 759.49 245.95C759.59 246.78 759.69 247.61 759.79 248.44C759.89 249.27 759.98 250.1 760.08 250.93C760.17 251.76 760.32 253.01 760.36 253.42" stroke="#9db8ff"/>
<path d="M492.6 254.92C492.66 254.52 492.81 253.31 492.91 252.5C493.01 251.69 493.11 250.88 493.21 250.06C493.31 249.24 493.41 248.42 493.51 247.6C493.61 246.78 493.7 245.95 493.8 245.12C493.9 244.29 494 243.46 494.09 242.63C494.19 241.8 494.29 240.96 494.39 240.13C494.49 239.29 494.59 238.45 494.69 237.61C494.79 236.78 494.89 235.94 495 235.09C495.1 234.25 495.21 233.41 495.31 232.57C495.42 231.73 495.53 230.89 495.65 230.04C495.76 229.2 495.88 228.36 496 227.52C496.12 226.68 496.24 225.84 496.36 225C496.49 224.16 496.62 223.32 496.75 222.48C496.89 221.64 497.03 220.81 497.17 219.97C497.31 219.14 497.46 218.3 497.61 217.47C497.77 216.64 497.92 215.81 498.09 214.98C498.25 214.16 498.42 213.33 498.59 212.51C498.77 211.69 498.95 210.87 499.13 210.06C499.32 209.24 499.51 208.43 499.71 207.63C499.91 206.82 500.12 206.01 500.34 205.21C500.55 204.41 500.77 203.62 501 202.83C501.23 202.03 501.47 201.25 501.71 200.46C501.95 199.68 502.21 198.9 502.46 198.12C502.72 197.34 502.99 196.56 503.26 195.79C503.53 195.02 503.81 194.25 504.1 193.48C504.38 192.71 504.68 191.95 504.98 191.18C505.28 190.42 505.59 189.66 505.9 188.9C506.21 188.14 506.53 187.38 506.86 186.62C507.19 185.86 507.52 185.1 507.87 184.35C508.21 183.59 508.55 182.83 508.91 182.08C509.26 181.32 509.62 180.56 509.99 179.81C510.36 179.05 510.73 178.3 511.11 177.54C511.49 176.78 511.88 176.02 512.27 175.27C512.66 174.51 513.06 173.75 513.47 172.99C513.87 172.23 514.28 171.47 514.7 170.71C515.12 169.95 515.55 169.2 515.98 168.45C516.42 167.7 516.86 166.95 517.31 166.21C517.76 165.47 518.22 164.73 518.69 164C519.16 163.27 519.63 162.55 520.12 161.84C520.61 161.13 521.1 160.43 521.61 159.74C522.11 159.05 522.63 158.37 523.15 157.71C523.68 157.05 524.22 156.39 524.77 155.76C525.31 155.12 525.87 154.5 526.44 153.89C527.01 153.29 527.6 152.7 528.19 152.13C528.78 151.56 529.39 151.01 530.01 150.48C530.63 149.96 531.26 149.45 531.91 148.96C532.55 148.47 533.21 148.01 533.88 147.57C534.56 147.13 535.24 146.72 535.94 146.33C536.64 145.94 537.36 145.58 538.09 145.24C538.82 144.91 539.56 144.6 540.32 144.32C541.08 144.05 541.86 143.8 542.65 143.58C543.44 143.37 544.25 143.18 545.07 143.04C545.9 142.89 546.74 142.77 547.6 142.69C548.45 142.61 549.32 142.56 550.19 142.56C551.06 142.55 551.94 142.59 552.81 142.67C553.68 142.74 554.55 142.86 555.4 143.03C556.25 143.2 557.09 143.41 557.9 143.67C558.71 143.94 559.51 144.25 560.26 144.61C561.02 144.97 561.75 145.39 562.45 145.84C563.15 146.3 563.82 146.8 564.47 147.33C565.11 147.86 565.72 148.43 566.31 149.02C566.89 149.61 567.45 150.23 567.98 150.87C568.51 151.5 569.02 152.16 569.5 152.84C569.99 153.51 570.45 154.2 570.9 154.9C571.34 155.6 571.77 156.32 572.18 157.04C572.59 157.75 572.99 158.48 573.38 159.21C573.77 159.94 574.14 160.67 574.51 161.4C574.88 162.13 575.24 162.86 575.59 163.59C575.94 164.33 576.28 165.06 576.62 165.8C576.95 166.54 577.28 167.29 577.6 168.03C577.92 168.78 578.23 169.53 578.54 170.29C578.84 171.04 579.14 171.8 579.44 172.57C579.73 173.33 580.02 174.1 580.3 174.88C580.58 175.66 580.86 176.44 581.13 177.23C581.4 178.02 581.67 178.82 581.93 179.62C582.19 180.43 582.45 181.24 582.71 182.06C582.96 182.88 583.21 183.71 583.46 184.55C583.71 185.38 583.96 186.23 584.21 187.07C584.46 187.91 584.71 188.76 584.97 189.61C585.23 190.45 585.48 191.3 585.75 192.14C586.02 192.98 586.29 193.81 586.58 194.64C586.86 195.46 587.16 196.28 587.46 197.09C587.77 197.89 588.09 198.69 588.42 199.46C588.76 200.24 589.11 201 589.48 201.74C589.85 202.48 590.23 203.21 590.64 203.91C591.05 204.6 591.48 205.28 591.93 205.93C592.39 206.58 592.86 207.21 593.37 207.8C593.87 208.39 594.4 208.96 594.96 209.48C595.52 210 596.11 210.61 596.73 210.94C597.35 211.27 598.03 211.54 598.69 211.46C599.36 211.38 600.09 210.94 600.73 210.48C601.37 210.02 602 209.34 602.55 208.69C603.11 208.04 603.6 207.3 604.07 206.56C604.54 205.81 604.96 205.01 605.39 204.23C605.82 203.44 606.22 202.63 606.64 201.85C607.06 201.06 607.48 200.28 607.9 199.51C608.33 198.74 608.76 197.99 609.19 197.24C609.63 196.49 610.07 195.75 610.51 195.02C610.96 194.29 611.41 193.57 611.86 192.86C612.31 192.14 612.77 191.43 613.23 190.74C613.69 190.04 614.16 189.34 614.63 188.66C615.1 187.97 615.57 187.29 616.05 186.62C616.53 185.94 617.01 185.27 617.5 184.61C617.99 183.94 618.48 183.29 618.97 182.63C619.47 181.97 619.96 181.32 620.47 180.67C620.97 180.03 621.47 179.38 621.98 178.74C622.49 178.1 623.01 177.46 623.52 176.82C624.04 176.18 624.56 175.54 625.08 174.91C625.6 174.27 626.13 173.64 626.66 173C627.19 172.37 627.73 171.74 628.26 171.1C628.8 170.47 629.34 169.83 629.88 169.2C630.42 168.56 630.97 167.93 631.52 167.29C632.07 166.66 632.62 166.02 633.18 165.39C633.74 164.76 634.3 164.13 634.86 163.5C635.42 162.87 635.99 162.24 636.56 161.61C637.13 160.99 637.71 160.36 638.29 159.74C638.87 159.12 639.45 158.51 640.04 157.89C640.62 157.28 641.21 156.67 641.81 156.06C642.41 155.45 643 154.85 643.61 154.25C644.21 153.66 644.82 153.06 645.43 152.48C646.04 151.89 646.66 151.31 647.28 150.73C647.9 150.15 648.53 149.58 649.16 149.02C649.79 148.45 650.42 147.9 651.06 147.35C651.7 146.8 652.34 146.25 652.99 145.72C653.64 145.18 654.3 144.65 654.96 144.13C655.61 143.61 656.28 143.1 656.95 142.6C657.62 142.1 658.29 141.6 658.97 141.12C659.65 140.64 660.33 140.16 661.02 139.7C661.71 139.23 662.41 138.78 663.11 138.33C663.81 137.89 664.52 137.46 665.23 137.04C665.94 136.61 666.66 136.2 667.38 135.8C668.1 135.4 668.83 135.02 669.56 134.64C670.3 134.26 671.04 133.89 671.78 133.54C672.53 133.18 673.27 132.84 674.03 132.5C674.78 132.17 675.54 131.85 676.31 131.53C677.08 131.22 677.85 130.91 678.62 130.62C679.4 130.33 680.18 130.04 680.96 129.77C681.75 129.5 682.54 129.23 683.33 128.98C684.13 128.72 684.92 128.48 685.73 128.25C686.53 128.01 687.34 127.79 688.15 127.57C688.97 127.35 689.78 127.14 690.6 126.93C691.42 126.73 692.24 126.53 693.07 126.33C693.89 126.13 694.71 125.93 695.54 125.74C696.36 125.54 697.18 125.34 698 125.14C698.82 124.93 699.65 124.73 700.46 124.52C701.28 124.3 702.09 124.08 702.9 123.85C703.71 123.62 704.52 123.39 705.32 123.14C706.12 122.88 706.91 122.62 707.7 122.34C708.49 122.06 709.27 121.77 710.04 121.46C710.82 121.15 711.58 120.83 712.35 120.5C713.11 120.17 713.87 119.83 714.63 119.49C715.39 119.16 716.15 118.81 716.91 118.48C717.67 118.14 718.43 117.81 719.19 117.48C719.96 117.16 720.73 116.84 721.5 116.54C722.28 116.25 723.06 115.96 723.85 115.69C724.64 115.43 725.43 115.18 726.25 114.96C727.06 114.75 727.88 114.55 728.71 114.39C729.55 114.23 730.4 114.09 731.26 114C732.12 113.91 733 113.85 733.86 113.84C734.73 113.83 735.61 113.86 736.46 113.95C737.31 114.03 738.16 114.16 738.98 114.36C739.8 114.56 740.6 114.81 741.36 115.12C742.12 115.44 742.84 115.83 743.54 116.26C744.23 116.69 744.89 117.19 745.52 117.72C746.16 118.25 746.76 118.83 747.34 119.43C747.92 120.04 748.46 120.69 748.99 121.35C749.52 122.01 750.02 122.7 750.5 123.4C750.98 124.09 751.44 124.81 751.88 125.52C752.32 126.24 752.74 126.97 753.14 127.7C753.55 128.43 753.93 129.17 754.3 129.92C754.66 130.67 755.01 131.42 755.35 132.18C755.68 132.94 756 133.71 756.3 134.48C756.61 135.25 756.9 136.03 757.17 136.81C757.45 137.59 757.71 138.38 757.97 139.18C758.22 139.97 758.46 140.77 758.69 141.57C758.92 142.37 759.14 143.17 759.35 143.98C759.56 144.79 759.76 145.6 759.95 146.42C760.14 147.23 760.33 148.05 760.51 148.87C760.69 149.69 760.86 150.52 761.03 151.34C761.19 152.16 761.35 152.99 761.51 153.82C761.67 154.64 761.83 155.47 761.98 156.3C762.13 157.13 762.28 157.96 762.43 158.79C762.57 159.62 762.72 160.45 762.87 161.28C763.01 162.1 763.16 162.93 763.3 163.76C763.45 164.59 763.59 165.42 763.73 166.25C763.87 167.08 764.02 167.9 764.16 168.73C764.3 169.56 764.44 170.39 764.57 171.22C764.71 172.05 764.85 172.87 764.99 173.7C765.12 174.53 765.26 175.36 765.39 176.18C765.53 177.01 765.66 177.84 765.8 178.67C765.93 179.5 766.06 180.32 766.19 181.15C766.32 181.98 766.45 182.81 766.58 183.63C766.71 184.46 766.84 185.29 766.97 186.12C767.09 186.94 767.22 187.77 767.34 188.6C767.47 189.43 767.59 190.25 767.72 191.08C767.84 191.91 767.96 192.74 768.08 193.56C768.21 194.39 768.33 195.22 768.45 196.05C768.57 196.88 768.68 197.7 768.8 198.53C768.92 199.36 769.04 200.19 769.15 201.02C769.27 201.84 769.38 202.67 769.5 203.5C769.61 204.33 769.72 205.16 769.83 205.99C769.95 206.81 770.06 207.64 770.17 208.47C770.28 209.3 770.38 210.13 770.49 210.96C770.6 211.79 770.71 212.62 770.81 213.45C770.92 214.28 771.02 215.11 771.13 215.94C771.23 216.77 771.34 217.6 771.44 218.43C771.54 219.26 771.64 220.09 771.74 220.92C771.84 221.75 771.94 222.58 772.04 223.41C772.14 224.24 772.23 225.07 772.33 225.9C772.43 226.74 772.52 227.57 772.62 228.4C772.71 229.23 772.8 230.06 772.9 230.9C772.99 231.73 773.08 232.56 773.17 233.4C773.26 234.23 773.35 235.06 773.44 235.9C773.53 236.73 773.61 237.56 773.7 238.4C773.79 239.23 773.87 240.07 773.96 240.9C774.04 241.74 774.12 242.57 774.21 243.41C774.29 244.25 774.37 245.08 774.45 245.92C774.53 246.76 774.61 247.59 774.69 248.43C774.77 249.27 774.84 250.1 774.92 250.94C775 251.78 775.11 253.04 775.14 253.46" stroke="#4a7af0"/>
<path d="M492.78 255.06C492.79 254.64 492.84 253.38 492.88 252.54C492.92 251.69 492.96 250.85 493.01 250.01C493.05 249.17 493.11 248.33 493.16 247.49C493.22 246.65 493.28 245.81 493.35 244.97C493.42 244.13 493.49 243.3 493.56 242.46C493.64 241.62 493.72 240.78 493.81 239.95C493.9 239.11 493.99 238.28 494.08 237.44C494.18 236.61 494.28 235.77 494.39 234.94C494.49 234.11 494.61 233.27 494.72 232.44C494.84 231.61 494.96 230.78 495.09 229.95C495.21 229.12 495.34 228.29 495.48 227.46C495.62 226.64 495.76 225.81 495.9 224.99C496.05 224.16 496.2 223.34 496.36 222.51C496.52 221.69 496.68 220.87 496.85 220.05C497.01 219.23 497.19 218.41 497.36 217.59C497.54 216.77 497.72 215.96 497.91 215.14C498.1 214.33 498.29 213.51 498.49 212.7C498.69 211.89 498.89 211.08 499.1 210.27C499.31 209.46 499.52 208.65 499.74 207.85C499.96 207.04 500.19 206.24 500.42 205.44C500.65 204.64 500.88 203.83 501.12 203.04C501.37 202.24 501.61 201.44 501.86 200.65C502.11 199.85 502.37 199.06 502.63 198.27C502.9 197.48 503.16 196.69 503.44 195.9C503.71 195.11 503.99 194.33 504.27 193.54C504.56 192.76 504.85 191.98 505.14 191.2C505.44 190.42 505.74 189.65 506.04 188.87C506.35 188.1 506.66 187.33 506.98 186.56C507.3 185.79 507.62 185.02 507.95 184.25C508.28 183.49 508.61 182.73 508.95 181.97C509.29 181.21 509.63 180.45 509.98 179.69C510.33 178.94 510.69 178.19 511.05 177.44C511.42 176.69 511.78 175.94 512.16 175.2C512.53 174.45 512.91 173.71 513.29 172.97C513.68 172.23 514.07 171.5 514.47 170.76C514.86 170.03 515.26 169.3 515.67 168.57C516.08 167.84 516.49 167.12 516.91 166.4C517.33 165.67 517.76 164.96 518.18 164.24C518.61 163.52 519.05 162.81 519.49 162.1C519.93 161.39 520.38 160.68 520.83 159.98C521.28 159.27 521.73 158.57 522.2 157.87C522.66 157.17 523.12 156.48 523.59 155.78C524.07 155.09 524.54 154.4 525.02 153.71C525.5 153.03 525.99 152.34 526.48 151.66C526.97 150.98 527.47 150.3 527.97 149.63C528.47 148.95 528.97 148.28 529.48 147.61C529.99 146.94 530.5 146.28 531.02 145.62C531.54 144.95 532.06 144.29 532.59 143.64C533.11 142.98 533.65 142.33 534.18 141.67C534.72 141.02 535.26 140.38 535.8 139.73C536.34 139.09 536.89 138.45 537.44 137.81C537.99 137.17 538.55 136.53 539.11 135.9C539.67 135.27 540.23 134.64 540.8 134.01C541.36 133.39 541.93 132.76 542.51 132.14C543.08 131.52 543.66 130.91 544.24 130.29C544.82 129.68 545.41 129.07 546 128.46C546.58 127.86 547.18 127.25 547.77 126.65C548.37 126.05 548.96 125.45 549.57 124.86C550.17 124.26 550.77 123.67 551.38 123.09C551.99 122.5 552.6 121.91 553.21 121.33C553.83 120.75 554.44 120.17 555.06 119.6C555.68 119.02 556.3 118.45 556.93 117.88C557.55 117.31 558.18 116.74 558.81 116.19C559.44 115.63 560.08 115.07 560.72 114.53C561.36 113.99 562.01 113.46 562.66 112.96C563.32 112.46 563.98 111.98 564.66 111.53C565.34 111.08 566.02 110.65 566.72 110.27C567.43 109.89 568.14 109.54 568.87 109.24C569.6 108.94 570.35 108.68 571.12 108.48C571.88 108.29 572.67 108.13 573.47 108.05C574.28 107.96 575.11 107.94 575.96 107.98C576.8 108.02 577.68 108.13 578.55 108.29C579.41 108.45 580.29 108.67 581.14 108.94C581.99 109.21 582.85 109.53 583.65 109.89C584.46 110.25 585.24 110.66 585.98 111.11C586.72 111.55 587.42 112.03 588.09 112.55C588.77 113.06 589.4 113.61 590.01 114.18C590.63 114.76 591.2 115.37 591.76 115.99C592.32 116.62 592.85 117.28 593.36 117.95C593.86 118.62 594.35 119.32 594.82 120.02C595.28 120.73 595.73 121.46 596.16 122.19C596.6 122.92 597.01 123.67 597.42 124.42C597.82 125.17 598.21 125.93 598.6 126.69C598.98 127.44 599.35 128.21 599.72 128.96C600.09 129.72 600.46 130.48 600.82 131.23C601.18 131.97 601.54 132.72 601.9 133.45C602.25 134.19 602.61 134.92 602.96 135.65C603.31 136.39 603.66 137.11 604.01 137.85C604.35 138.58 604.69 139.31 605.03 140.05C605.36 140.79 605.7 141.53 606.02 142.29C606.35 143.04 606.67 143.8 606.99 144.57C607.31 145.35 607.62 146.13 607.93 146.93C608.24 147.72 608.54 148.52 608.85 149.33C609.15 150.14 609.46 150.95 609.77 151.77C610.08 152.58 610.4 153.4 610.72 154.22C611.05 155.03 611.38 155.85 611.72 156.66C612.06 157.47 612.41 158.27 612.78 159.07C613.15 159.87 613.53 160.66 613.93 161.44C614.33 162.21 614.74 162.98 615.18 163.73C615.62 164.48 616.08 165.23 616.56 165.94C617.04 166.65 617.55 167.37 618.08 167.98C618.6 168.58 619.15 169.17 619.71 169.59C620.27 170.02 620.86 170.36 621.44 170.54C622.03 170.73 622.63 170.78 623.22 170.7C623.81 170.62 624.4 170.39 624.97 170.05C625.55 169.7 626.11 169.19 626.67 168.64C627.22 168.08 627.76 167.39 628.29 166.71C628.82 166.02 629.34 165.26 629.85 164.53C630.36 163.8 630.87 163.05 631.36 162.31C631.86 161.57 632.34 160.84 632.82 160.1C633.3 159.36 633.78 158.63 634.24 157.89C634.71 157.16 635.17 156.43 635.62 155.69C636.08 154.96 636.53 154.23 636.97 153.5C637.42 152.77 637.85 152.04 638.29 151.31C638.73 150.58 639.16 149.85 639.59 149.12C640.01 148.39 640.44 147.67 640.86 146.94C641.28 146.22 641.7 145.49 642.12 144.77C642.54 144.04 642.96 143.32 643.38 142.6C643.79 141.88 644.21 141.16 644.62 140.44C645.04 139.72 645.46 139 645.87 138.28C646.29 137.56 646.71 136.85 647.13 136.13C647.55 135.41 647.97 134.7 648.39 133.99C648.81 133.27 649.24 132.56 649.67 131.85C650.1 131.14 650.53 130.43 650.96 129.72C651.4 129.01 651.84 128.3 652.28 127.6C652.72 126.89 653.17 126.18 653.61 125.48C654.06 124.78 654.51 124.08 654.97 123.38C655.42 122.68 655.88 121.98 656.34 121.29C656.81 120.59 657.27 119.9 657.74 119.21C658.21 118.51 658.68 117.83 659.16 117.14C659.64 116.45 660.12 115.77 660.6 115.09C661.09 114.4 661.57 113.73 662.07 113.05C662.56 112.37 663.05 111.7 663.55 111.03C664.05 110.36 664.56 109.69 665.06 109.03C665.57 108.36 666.08 107.7 666.6 107.04C667.12 106.38 667.64 105.73 668.16 105.08C668.69 104.43 669.22 103.78 669.75 103.13C670.28 102.49 670.82 101.85 671.36 101.21C671.9 100.58 672.45 99.94 673 99.32C673.55 98.69 674.11 98.06 674.67 97.44C675.23 96.82 675.79 96.21 676.36 95.59C676.93 94.98 677.51 94.37 678.09 93.77C678.67 93.17 679.25 92.57 679.84 91.98C680.43 91.38 681.02 90.79 681.62 90.21C682.22 89.63 682.83 89.05 683.43 88.47C684.04 87.9 684.66 87.33 685.28 86.77C685.9 86.2 686.52 85.65 687.15 85.09C687.78 84.54 688.42 83.99 689.06 83.45C689.7 82.91 690.34 82.38 691 81.85C691.65 81.32 692.3 80.79 692.97 80.27C693.63 79.76 694.3 79.24 694.97 78.74C695.65 78.23 696.32 77.73 697.01 77.24C697.7 76.75 698.39 76.26 699.08 75.78C699.78 75.3 700.48 74.83 701.19 74.36C701.9 73.89 702.61 73.43 703.33 72.98C704.05 72.53 704.78 72.09 705.51 71.66C706.24 71.23 706.97 70.81 707.72 70.4C708.46 69.99 709.2 69.59 709.95 69.21C710.7 68.82 711.46 68.45 712.22 68.09C712.98 67.73 713.74 67.38 714.51 67.05C715.28 66.73 716.06 66.41 716.83 66.11C717.61 65.81 718.39 65.53 719.18 65.27C719.96 65 720.75 64.75 721.55 64.53C722.34 64.3 723.14 64.09 723.94 63.9C724.74 63.71 725.54 63.54 726.35 63.4C727.16 63.25 727.97 63.12 728.79 63.02C729.6 62.92 730.42 62.84 731.24 62.78C732.06 62.72 732.88 62.69 733.7 62.68C734.53 62.68 735.36 62.69 736.19 62.74C737.02 62.78 737.85 62.85 738.69 62.95C739.52 63.05 740.36 63.18 741.2 63.33C742.04 63.49 742.88 63.67 743.71 63.89C744.54 64.11 745.37 64.36 746.18 64.64C746.99 64.92 747.79 65.24 748.56 65.59C749.33 65.95 750.08 66.33 750.79 66.76C751.5 67.19 752.19 67.66 752.83 68.17C753.48 68.68 754.08 69.23 754.66 69.81C755.24 70.39 755.78 71.01 756.3 71.65C756.82 72.29 757.31 72.96 757.78 73.65C758.25 74.33 758.69 75.05 759.12 75.77C759.55 76.5 759.95 77.25 760.35 78C760.75 78.75 761.12 79.51 761.5 80.28C761.87 81.04 762.23 81.81 762.58 82.58C762.93 83.36 763.28 84.13 763.61 84.91C763.95 85.69 764.27 86.47 764.59 87.25C764.91 88.03 765.23 88.81 765.53 89.6C765.84 90.39 766.13 91.18 766.42 91.97C766.72 92.76 767 93.55 767.28 94.35C767.56 95.14 767.83 95.94 768.09 96.74C768.36 97.53 768.62 98.33 768.87 99.14C769.13 99.94 769.38 100.74 769.62 101.54C769.87 102.34 770.11 103.15 770.35 103.95C770.58 104.76 770.81 105.56 771.04 106.37C771.27 107.18 771.49 107.99 771.71 108.79C771.93 109.6 772.15 110.41 772.36 111.22C772.57 112.03 772.78 112.84 772.98 113.65C773.18 114.47 773.38 115.28 773.58 116.09C773.77 116.9 773.97 117.72 774.15 118.53C774.34 119.35 774.53 120.16 774.71 120.98C774.89 121.79 775.07 122.61 775.24 123.43C775.41 124.24 775.58 125.06 775.75 125.88C775.92 126.7 776.08 127.52 776.24 128.34C776.4 129.16 776.56 129.98 776.71 130.8C776.86 131.62 777.01 132.44 777.16 133.26C777.3 134.09 777.45 134.91 777.59 135.73C777.73 136.56 777.87 137.38 778 138.2C778.13 139.03 778.27 139.85 778.39 140.68C778.52 141.5 778.65 142.33 778.77 143.16C778.89 143.98 779.01 144.81 779.13 145.64C779.24 146.47 779.36 147.29 779.47 148.12C779.58 148.95 779.69 149.78 779.79 150.61C779.9 151.44 780 152.27 780.1 153.1C780.21 153.93 780.3 154.76 780.4 155.59C780.5 156.42 780.59 157.25 780.68 158.09C780.77 158.92 780.86 159.75 780.95 160.58C781.03 161.42 781.12 162.25 781.2 163.08C781.28 163.92 781.36 164.75 781.44 165.58C781.52 166.42 781.59 167.25 781.67 168.09C781.74 168.92 781.81 169.75 781.88 170.59C781.95 171.43 782.02 172.26 782.08 173.1C782.15 173.93 782.21 174.77 782.28 175.6C782.34 176.44 782.4 177.28 782.46 178.11C782.52 178.95 782.57 179.79 782.63 180.62C782.69 181.46 782.74 182.3 782.79 183.14C782.85 183.97 782.9 184.81 782.95 185.65C783 186.49 783.04 187.32 783.09 188.16C783.14 189 783.18 189.84 783.23 190.68C783.27 191.51 783.32 192.35 783.36 193.19C783.4 194.03 783.44 194.87 783.48 195.71C783.52 196.54 783.56 197.38 783.6 198.22C783.64 199.06 783.67 199.9 783.71 200.74C783.75 201.58 783.78 202.41 783.82 203.25C783.85 204.09 783.88 204.93 783.92 205.77C783.95 206.61 783.98 207.45 784.01 208.28C784.05 209.12 784.08 209.96 784.11 210.8C784.14 211.64 784.17 212.48 784.2 213.32C784.23 214.15 784.26 214.99 784.28 215.83C784.31 216.67 784.34 217.51 784.37 218.34C784.4 219.18 784.42 220.02 784.45 220.86C784.48 221.69 784.51 222.53 784.53 223.37C784.56 224.21 784.59 225.04 784.61 225.88C784.64 226.72 784.67 227.55 784.7 228.39C784.72 229.23 784.75 230.06 784.78 230.9C784.8 231.74 784.83 232.57 784.86 233.41C784.89 234.24 784.92 235.08 784.94 235.91C784.97 236.75 785 237.58 785.03 238.42C785.06 239.25 785.09 240.09 785.12 240.92C785.15 241.75 785.18 242.59 785.21 243.42C785.24 244.25 785.27 245.09 785.3 245.92C785.34 246.75 785.37 247.58 785.4 248.42C785.44 249.25 785.47 250.08 785.5 250.91C785.54 251.74 785.59 252.99 785.61 253.4" stroke="#0033cc"/>
</g>
<path d="M503.15 246v-7.4M503.15 16.5v7.4M543.45 246v-7.4M543.45 16.5v7.4M583.75 246v-7.4M583.75 16.5v7.4M624.05 246v-7.4M624.05 16.5v7.4M664.35 246v-7.4M664.35 16.5v7.4M704.65 246v-7.4M704.65 16.5v7.4M744.95 246v-7.4M744.95 16.5v7.4M785.25 246v-7.4M785.25 16.5v7.4M523.3 246v-3.8M523.3 16.5v3.8M563.6 246v-3.8M563.6 16.5v3.8M603.9 246v-3.8M603.9 16.5v3.8M644.2 246v-3.8M644.2 16.5v3.8M684.5 246v-3.8M684.5 16.5v3.8M724.8 246v-3.8M724.8 16.5v3.8M765.1 246v-3.8M765.1 16.5v3.8M483 240.12h7.4M805.4 240.12h-7.4M483 181.27h7.4M805.4 181.27h-7.4M483 122.42h7.4M805.4 122.42h-7.4M483 63.58h7.4M805.4 63.58h-7.4M483 245.82h3.8M805.4 245.82h-3.8M483 222.4h3.8M805.4 222.4h-3.8M483 198.98h3.8M805.4 198.98h-3.8M483 186.97h3.8M805.4 186.97h-3.8M483 163.55h3.8M805.4 163.55h-3.8M483 140.14h3.8M805.4 140.14h-3.8M483 128.13h3.8M805.4 128.13h-3.8M483 104.71h3.8M805.4 104.71h-3.8M483 81.29h3.8M805.4 81.29h-3.8M483 69.28h3.8M805.4 69.28h-3.8M483 45.86h3.8M805.4 45.86h-3.8M483 22.45h3.8M805.4 22.45h-3.8" stroke="#000" stroke-width="0.95" fill="none"/>
<rect x="483" y="16.5" width="322.4" height="229.5" fill="none" stroke="#000" stroke-width="1.5"/>
<text x="503.15" y="266.7" text-anchor="middle">10<tspan dy="-8" font-size="12.8">12</tspan></text>
<text x="543.45" y="266.7" text-anchor="middle">10<tspan dy="-8" font-size="12.8">14</tspan></text>
<text x="583.75" y="266.7" text-anchor="middle">10<tspan dy="-8" font-size="12.8">16</tspan></text>
<text x="624.05" y="266.7" text-anchor="middle">10<tspan dy="-8" font-size="12.8">18</tspan></text>
<text x="664.35" y="266.7" text-anchor="middle">10<tspan dy="-8" font-size="12.8">20</tspan></text>
<text x="704.65" y="266.7" text-anchor="middle">10<tspan dy="-8" font-size="12.8">22</tspan></text>
<text x="744.95" y="266.7" text-anchor="middle">10<tspan dy="-8" font-size="12.8">24</tspan></text>
<text x="785.25" y="266.7" text-anchor="middle">10<tspan dy="-8" font-size="12.8">26</tspan></text>
<text x="474.9" y="247.12" text-anchor="end">10<tspan dy="-8" font-size="12.8">-12</tspan></text>
<text x="474.9" y="188.27" text-anchor="end">10<tspan dy="-8" font-size="12.8">-11</tspan></text>
<text x="474.9" y="129.42" text-anchor="end">10<tspan dy="-8" font-size="12.8">-10</tspan></text>
<text x="474.9" y="70.58" text-anchor="end">10<tspan dy="-8" font-size="12.8">-9</tspan></text>
</g>
<g id="panel-c">
<clipPath id="clip-c"><rect x="76.2" y="306.8" width="330.6" height="229.7"/></clipPath>
<g clip-path="url(#clip-c)" fill="none" stroke-width="2.65" stroke-linejoin="round">
<path d="M70.02 326.4C70.34 326.48 71.32 326.71 71.97 326.87C72.62 327.03 73.27 327.18 73.92 327.34C74.57 327.49 75.22 327.65 75.87 327.8C76.52 327.95 77.17 328.11 77.82 328.26C78.47 328.41 79.12 328.57 79.77 328.72C80.43 328.87 81.08 329.02 81.73 329.17C82.38 329.32 83.03 329.48 83.68 329.63C84.33 329.78 84.98 329.93 85.64 330.07C86.29 330.22 86.94 330.37 87.59 330.52C88.24 330.67 88.89 330.82 89.54 330.97C90.2 331.11 90.85 331.26 91.5 331.41C92.15 331.55 92.8 331.7 93.46 331.85C94.11 331.99 94.76 332.14 95.41 332.28C96.06 332.43 96.72 332.58 97.37 332.72C98.02 332.86 98.67 333.01 99.33 333.15C99.98 333.3 100.76 333.47 101.28 333.59C101.8 333.7 102.26 333.8 102.46 333.84M106.76 334.79C107.09 334.86 108.07 335.07 108.72 335.21C109.37 335.35 110.03 335.49 110.68 335.64C111.33 335.78 111.99 335.92 112.64 336.06C113.29 336.2 113.94 336.34 114.6 336.48C115.25 336.62 115.9 336.76 116.56 336.9C117.21 337.04 117.86 337.18 118.51 337.32C119.17 337.46 119.82 337.6 120.47 337.74C121.13 337.88 121.78 338.02 122.43 338.16C123.09 338.3 123.74 338.44 124.39 338.58C125.04 338.72 125.7 338.86 126.35 339C127 339.14 127.66 339.28 128.31 339.42C128.96 339.55 129.62 339.69 130.27 339.83C130.92 339.97 131.7 340.14 132.23 340.25C132.75 340.36 133.21 340.46 133.4 340.5M137.71 341.42C138.04 341.49 139.02 341.7 139.67 341.84C140.32 341.97 140.97 342.11 141.63 342.25C142.28 342.39 142.93 342.53 143.58 342.67C144.24 342.81 144.89 342.95 145.54 343.09C146.19 343.23 146.85 343.37 147.5 343.51C148.15 343.65 148.8 343.79 149.46 343.93C150.11 344.07 150.76 344.21 151.41 344.35C152.07 344.49 152.72 344.64 153.37 344.78C154.02 344.92 154.67 345.06 155.33 345.2C155.98 345.34 156.63 345.48 157.28 345.62C157.93 345.77 158.58 345.91 159.24 346.05C159.89 346.19 160.54 346.34 161.19 346.48C161.84 346.62 162.49 346.76 163.14 346.91C163.8 347.05 164.51 347.21 165.1 347.34C165.68 347.47 166.4 347.63 166.66 347.69M171.35 348.73C171.67 348.8 172.65 349.02 173.3 349.17C173.95 349.32 174.6 349.46 175.25 349.61C175.9 349.76 176.55 349.91 177.2 350.06C177.85 350.2 178.5 350.35 179.15 350.5C179.8 350.65 180.45 350.8 181.1 350.95C181.75 351.1 182.4 351.25 183.04 351.4C183.69 351.55 184.34 351.71 184.99 351.86C185.64 352.01 186.29 352.16 186.94 352.32C187.59 352.47 188.23 352.63 188.88 352.78C189.53 352.94 190.18 353.09 190.82 353.25C191.47 353.41 192.12 353.57 192.77 353.73C193.41 353.89 194.19 354.08 194.71 354.21C195.22 354.34 195.68 354.45 195.87 354.5M200.13 355.6C200.45 355.68 201.42 355.93 202.06 356.1C202.7 356.28 203.35 356.45 203.99 356.62C204.63 356.8 205.28 356.97 205.92 357.15C206.56 357.33 207.2 357.51 207.84 357.69C208.48 357.87 209.13 358.05 209.77 358.23C210.41 358.42 211.05 358.6 211.69 358.79C212.33 358.98 212.96 359.17 213.6 359.36C214.24 359.55 214.88 359.75 215.52 359.94C216.15 360.14 216.79 360.33 217.43 360.53C218.06 360.73 218.7 360.94 219.33 361.14C219.97 361.34 220.6 361.55 221.24 361.76C221.87 361.97 222.51 362.18 223.14 362.39C223.77 362.6 224.4 362.82 225.03 363.03C225.67 363.25 226.3 363.47 226.93 363.69C227.56 363.92 228.18 364.14 228.81 364.37C229.44 364.6 230.07 364.83 230.7 365.06C231.32 365.29 231.95 365.53 232.57 365.77C233.2 366.01 233.82 366.25 234.45 366.49C235.07 366.73 235.69 366.98 236.31 367.23C236.93 367.48 237.55 367.73 238.17 367.99C238.79 368.24 239.41 368.5 240.03 368.76C240.64 369.02 241.26 369.28 241.87 369.55C242.49 369.82 243.1 370.09 243.71 370.36C244.33 370.63 244.94 370.91 245.55 371.19C246.15 371.47 246.76 371.75 247.37 372.03C247.98 372.32 248.58 372.61 249.18 372.9C249.79 373.19 250.39 373.49 250.99 373.79C251.59 374.08 252.19 374.39 252.79 374.69C253.38 374.99 253.98 375.3 254.57 375.61C255.17 375.93 255.76 376.24 256.35 376.56C256.94 376.88 257.53 377.2 258.12 377.52C258.7 377.84 259.29 378.17 259.87 378.5C260.45 378.83 261.03 379.17 261.61 379.51C262.19 379.84 262.77 380.18 263.34 380.53C263.91 380.87 264.49 381.22 265.06 381.57C265.62 381.92 266.19 382.28 266.76 382.63C267.32 382.99 267.89 383.35 268.45 383.72C269.01 384.08 269.56 384.45 270.12 384.82C270.67 385.19 271.23 385.56 271.78 385.94C272.33 386.32 272.88 386.7 273.42 387.08C273.97 387.47 274.51 387.86 275.05 388.25C275.59 388.64 276.12 389.03 276.66 389.43C277.19 389.83 277.72 390.23 278.25 390.63C278.78 391.04 279.31 391.45 279.83 391.86C280.35 392.27 280.87 392.69 281.39 393.1C281.9 393.52 282.41 393.94 282.92 394.37C283.43 394.8 284.14 395.4 284.44 395.66C284.75 395.92 284.7 395.87 284.75 395.92M292.3 402.97C292.53 403.21 293.23 403.91 293.69 404.39C294.15 404.87 294.6 405.35 295.05 405.83C295.5 406.32 295.95 406.8 296.39 407.29C296.84 407.79 297.28 408.28 297.72 408.78C298.15 409.27 298.59 409.77 299.02 410.28C299.45 410.78 299.87 411.29 300.3 411.8C300.72 412.31 301.14 412.82 301.55 413.34C301.97 413.85 302.38 414.37 302.79 414.89C303.2 415.41 303.61 415.94 304.01 416.47C304.41 416.99 304.81 417.52 305.21 418.06C305.6 418.59 306 419.12 306.39 419.66C306.78 420.2 307.16 420.74 307.55 421.28C307.93 421.83 308.31 422.37 308.69 422.92C309.06 423.47 309.44 424.02 309.81 424.57C310.18 425.13 310.73 425.96 310.91 426.24M315.75 434.08C315.91 434.37 316.42 435.24 316.75 435.82C317.08 436.41 317.51 437.17 317.73 437.58C317.96 437.98 318.06 438.16 318.12 438.28M322.41 446.49C322.56 446.79 323.01 447.69 323.3 448.29C323.6 448.9 323.89 449.5 324.17 450.11C324.46 450.72 324.75 451.33 325.03 451.94C325.32 452.55 325.6 453.16 325.87 453.77C326.15 454.38 326.43 454.99 326.7 455.61C326.98 456.22 327.25 456.84 327.52 457.45C327.79 458.07 328.05 458.69 328.32 459.3C328.58 459.92 328.84 460.54 329.1 461.16C329.36 461.78 329.62 462.4 329.87 463.02C330.13 463.64 330.38 464.26 330.63 464.89C330.88 465.51 331.13 466.13 331.38 466.75C331.62 467.38 331.87 468 332.11 468.63C332.35 469.25 332.59 469.88 332.83 470.51C333.07 471.13 333.31 471.76 333.54 472.39C333.77 473.02 334.01 473.65 334.24 474.28C334.47 474.9 334.72 475.6 334.92 476.16C335.12 476.73 335.37 477.43 335.46 477.68M338.8 487.57C338.9 487.89 339.21 488.84 339.41 489.48C339.61 490.12 339.87 490.95 340.01 491.39C340.15 491.84 340.21 492.03 340.25 492.16M343.11 501.76C343.2 502.08 343.47 503.05 343.65 503.69C343.83 504.33 344.01 504.97 344.19 505.61C344.37 506.26 344.55 506.9 344.73 507.54C344.9 508.18 345.08 508.83 345.25 509.47C345.43 510.11 345.6 510.75 345.77 511.4C345.95 512.04 346.12 512.68 346.29 513.33C346.46 513.97 346.63 514.61 346.8 515.26C346.96 515.9 347.13 516.54 347.3 517.19C347.46 517.83 347.63 518.48 347.79 519.12C347.96 519.76 348.12 520.41 348.29 521.05C348.45 521.69 348.61 522.34 348.77 522.98C348.94 523.62 349.1 524.27 349.26 524.91C349.42 525.55 349.64 526.45 349.74 526.84C349.83 527.23 349.81 527.16 349.83 527.23" stroke="#000000"/>
<path d="M69.97 323.3C70.38 323.39 71.62 323.67 72.44 323.86C73.26 324.05 74.08 324.23 74.91 324.42C75.73 324.61 76.55 324.8 77.37 324.99C78.19 325.18 79.01 325.37 79.83 325.56C80.65 325.76 81.47 325.95 82.29 326.14C83.11 326.33 83.93 326.53 84.74 326.72C85.56 326.92 86.38 327.11 87.2 327.31C88.01 327.5 88.83 327.7 89.65 327.89C90.46 328.09 91.28 328.29 92.1 328.48C92.91 328.68 93.73 328.88 94.54 329.08C95.36 329.28 96.18 329.48 96.99 329.67C97.81 329.87 98.62 330.07 99.43 330.27C100.25 330.47 101.06 330.67 101.88 330.87C102.69 331.07 103.5 331.28 104.32 331.48C105.13 331.68 105.95 331.88 106.76 332.08C107.57 332.28 108.39 332.49 109.2 332.69C110.01 332.89 110.82 333.09 111.64 333.3C112.45 333.5 113.26 333.7 114.07 333.9C114.89 334.11 115.7 334.31 116.51 334.51C117.32 334.72 118.14 334.92 118.95 335.12C119.76 335.32 120.57 335.53 121.38 335.73C122.2 335.93 123.01 336.14 123.82 336.34C124.63 336.54 125.45 336.75 126.26 336.95C127.07 337.15 127.88 337.36 128.69 337.56C129.51 337.76 130.32 337.96 131.13 338.17C131.94 338.37 132.76 338.57 133.57 338.77C134.38 338.97 135.19 339.18 136.01 339.38C136.82 339.58 137.63 339.78 138.44 339.98C139.26 340.18 140.07 340.38 140.88 340.58C141.7 340.78 142.51 340.98 143.32 341.18C144.14 341.38 144.95 341.58 145.77 341.78C146.58 341.98 147.39 342.18 148.21 342.38C149.02 342.57 149.84 342.77 150.65 342.97C151.47 343.17 152.28 343.36 153.1 343.56C153.91 343.75 154.73 343.95 155.55 344.14C156.36 344.34 157.18 344.53 158 344.73C158.81 344.92 159.63 345.11 160.45 345.31C161.27 345.5 162.08 345.69 162.9 345.88C163.72 346.07 164.54 346.26 165.36 346.45C166.18 346.64 167 346.83 167.82 347.02C168.63 347.2 169.46 347.39 170.28 347.58C171.1 347.76 171.92 347.95 172.74 348.13C173.56 348.32 174.38 348.5 175.21 348.68C176.03 348.87 176.85 349.05 177.67 349.23C178.5 349.41 179.32 349.59 180.15 349.77C180.97 349.95 181.8 350.13 182.62 350.3C183.45 350.48 184.27 350.66 185.1 350.84C185.92 351.02 186.75 351.2 187.57 351.37C188.4 351.55 189.22 351.73 190.05 351.91C190.87 352.1 191.7 352.28 192.52 352.46C193.35 352.65 194.17 352.83 194.99 353.02C195.81 353.21 196.63 353.4 197.46 353.59C198.28 353.78 199.1 353.98 199.91 354.18C200.73 354.37 201.55 354.57 202.37 354.78C203.18 354.98 204 355.19 204.81 355.4C205.62 355.62 206.44 355.83 207.25 356.05C208.06 356.27 208.86 356.5 209.67 356.73C210.48 356.96 211.28 357.19 212.08 357.43C212.89 357.67 213.69 357.91 214.49 358.16C215.28 358.42 216.08 358.67 216.87 358.93C217.67 359.2 218.46 359.47 219.25 359.74C220.03 360.02 220.82 360.3 221.6 360.59C222.38 360.88 223.16 361.18 223.94 361.48C224.72 361.79 225.49 362.1 226.26 362.42C227.03 362.74 227.8 363.07 228.56 363.4C229.33 363.74 230.09 364.08 230.84 364.44C231.6 364.79 232.35 365.15 233.1 365.52C233.85 365.89 234.6 366.27 235.34 366.65C236.08 367.03 236.82 367.43 237.56 367.83C238.29 368.23 239.02 368.63 239.75 369.05C240.47 369.46 241.2 369.89 241.91 370.32C242.63 370.75 243.35 371.18 244.06 371.63C244.76 372.07 245.47 372.53 246.17 372.98C246.87 373.44 247.57 373.91 248.26 374.38C248.95 374.86 249.64 375.34 250.32 375.82C251 376.31 251.68 376.8 252.35 377.3C253.02 377.8 253.69 378.31 254.35 378.82C255.02 379.34 255.67 379.86 256.33 380.38C256.98 380.91 257.63 381.44 258.27 381.98C258.91 382.52 259.55 383.07 260.18 383.62C260.81 384.17 261.43 384.73 262.05 385.29C262.67 385.85 263.29 386.42 263.9 387C264.51 387.57 265.11 388.16 265.71 388.74C266.3 389.33 266.9 389.92 267.48 390.52C268.07 391.12 268.65 391.72 269.22 392.33C269.79 392.94 270.36 393.56 270.92 394.18C271.48 394.8 272.04 395.42 272.59 396.05C273.13 396.68 273.68 397.32 274.21 397.96C274.75 398.6 275.28 399.24 275.8 399.9C276.32 400.55 276.84 401.2 277.35 401.86C277.85 402.52 278.36 403.19 278.85 403.86C279.35 404.53 279.84 405.2 280.32 405.88C280.8 406.56 281.28 407.24 281.75 407.93C282.22 408.62 282.68 409.31 283.14 410C283.6 410.7 284.05 411.4 284.49 412.1C284.94 412.81 285.38 413.51 285.81 414.23C286.24 414.94 286.67 415.65 287.09 416.37C287.52 417.09 287.93 417.82 288.34 418.54C288.75 419.27 289.16 420 289.56 420.73C289.95 421.47 290.35 422.21 290.74 422.95C291.13 423.69 291.51 424.43 291.89 425.18C292.26 425.92 292.64 426.67 293 427.43C293.37 428.18 293.73 428.94 294.09 429.7C294.45 430.45 294.8 431.22 295.15 431.98C295.49 432.74 295.84 433.51 296.17 434.28C296.51 435.05 296.85 435.82 297.17 436.6C297.5 437.37 297.83 438.15 298.15 438.93C298.47 439.71 298.78 440.49 299.09 441.27C299.4 442.06 299.71 442.84 300.01 443.63C300.31 444.42 300.61 445.21 300.91 446C301.2 446.79 301.49 447.59 301.78 448.38C302.06 449.18 302.34 449.97 302.62 450.77C302.9 451.57 303.18 452.37 303.45 453.17C303.72 453.97 303.98 454.77 304.25 455.58C304.51 456.38 304.77 457.19 305.03 457.99C305.29 458.8 305.54 459.61 305.79 460.42C306.04 461.22 306.29 462.03 306.53 462.84C306.77 463.65 307.02 464.46 307.25 465.28C307.49 466.09 307.73 466.9 307.96 467.71C308.19 468.52 308.42 469.34 308.64 470.15C308.87 470.96 309.09 471.78 309.31 472.59C309.54 473.41 309.75 474.22 309.97 475.04C310.19 475.85 310.4 476.66 310.61 477.48C310.82 478.29 311.03 479.11 311.24 479.92C311.44 480.74 311.65 481.55 311.85 482.36C312.05 483.18 312.25 483.99 312.45 484.81C312.65 485.62 312.85 486.43 313.04 487.25C313.24 488.06 313.43 488.87 313.62 489.69C313.82 490.5 314.01 491.31 314.2 492.13C314.39 492.94 314.58 493.75 314.76 494.57C314.95 495.38 315.14 496.19 315.33 497.01C315.51 497.82 315.7 498.63 315.88 499.45C316.07 500.26 316.25 501.07 316.44 501.89C316.62 502.7 316.81 503.51 316.99 504.33C317.18 505.14 317.36 505.95 317.54 506.77C317.73 507.58 317.91 508.39 318.1 509.21C318.28 510.02 318.47 510.83 318.65 511.65C318.84 512.46 319.02 513.27 319.21 514.09C319.4 514.9 319.59 515.71 319.78 516.53C319.96 517.34 320.15 518.16 320.35 518.97C320.54 519.78 320.73 520.6 320.92 521.41C321.12 522.23 321.31 523.04 321.51 523.86C321.7 524.67 321.9 525.49 322.1 526.3C322.3 527.12 322.5 527.93 322.71 528.75C322.91 529.56 323.12 530.38 323.32 531.19C323.53 532.01 323.74 532.82 323.96 533.64C324.17 534.46 324.38 535.27 324.6 536.09C324.82 536.91 325.04 537.72 325.26 538.54C325.49 539.36 325.71 540.17 325.94 540.99C326.17 541.81 326.52 543.03 326.64 543.44" stroke="#0d6a2d"/>
<path d="M69.99 329.85C70.41 329.96 71.64 330.29 72.46 330.51C73.29 330.73 74.11 330.95 74.93 331.16C75.76 331.38 76.58 331.59 77.4 331.8C78.23 332.02 79.05 332.23 79.87 332.43C80.7 332.64 81.52 332.85 82.34 333.06C83.16 333.26 83.99 333.46 84.81 333.67C85.63 333.87 86.46 334.07 87.28 334.27C88.1 334.47 88.93 334.66 89.75 334.86C90.57 335.06 91.39 335.25 92.22 335.45C93.04 335.64 93.86 335.83 94.69 336.02C95.51 336.21 96.33 336.4 97.15 336.59C97.98 336.78 98.8 336.97 99.62 337.15C100.44 337.34 101.27 337.52 102.09 337.71C102.91 337.89 103.73 338.07 104.56 338.26C105.38 338.44 106.2 338.62 107.02 338.8C107.85 338.98 108.67 339.16 109.49 339.33C110.31 339.51 111.13 339.69 111.96 339.87C112.78 340.04 113.6 340.22 114.42 340.39C115.24 340.57 116.07 340.74 116.89 340.91C117.71 341.09 118.53 341.26 119.35 341.43C120.18 341.6 121 341.77 121.82 341.95C122.64 342.12 123.46 342.29 124.28 342.46C125.11 342.63 125.93 342.8 126.75 342.96C127.57 343.13 128.39 343.3 129.21 343.47C130.03 343.64 130.86 343.81 131.68 343.97C132.5 344.14 133.32 344.31 134.14 344.47C134.96 344.64 135.78 344.81 136.6 344.97C137.42 345.14 138.24 345.31 139.07 345.47C139.89 345.64 140.71 345.81 141.53 345.97C142.35 346.14 143.17 346.3 143.99 346.47C144.81 346.64 145.63 346.8 146.45 346.97C147.27 347.14 148.09 347.3 148.91 347.47C149.73 347.64 150.55 347.8 151.37 347.97C152.19 348.14 153.01 348.3 153.83 348.47C154.65 348.64 155.47 348.81 156.29 348.98C157.11 349.14 157.93 349.31 158.75 349.48C159.57 349.65 160.39 349.82 161.21 349.99C162.03 350.16 162.85 350.33 163.67 350.5C164.49 350.67 165.3 350.85 166.12 351.02C166.94 351.19 167.76 351.36 168.58 351.54C169.4 351.71 170.22 351.89 171.04 352.06C171.86 352.24 172.67 352.41 173.49 352.59C174.31 352.77 175.13 352.94 175.95 353.12C176.77 353.3 177.58 353.48 178.4 353.66C179.22 353.84 180.04 354.02 180.86 354.21C181.67 354.39 182.49 354.57 183.31 354.76C184.13 354.94 184.94 355.13 185.76 355.31C186.58 355.5 187.4 355.69 188.21 355.88C189.03 356.07 189.85 356.26 190.67 356.45C191.48 356.64 192.3 356.83 193.12 357.03C193.93 357.22 194.75 357.42 195.57 357.61C196.38 357.81 197.2 358.01 198.02 358.21C198.83 358.41 199.65 358.61 200.46 358.82C201.28 359.02 202.1 359.22 202.91 359.43C203.73 359.64 204.54 359.84 205.36 360.05C206.18 360.26 206.99 360.48 207.81 360.69C208.62 360.9 209.44 361.12 210.25 361.33C211.07 361.55 211.88 361.77 212.7 361.99C213.51 362.21 214.33 362.43 215.14 362.66C215.96 362.88 216.77 363.11 217.59 363.34C218.4 363.56 219.21 363.79 220.03 364.03C220.84 364.26 221.66 364.49 222.47 364.73C223.28 364.97 224.1 365.21 224.91 365.45C225.73 365.69 226.54 365.93 227.35 366.18C228.17 366.42 228.98 366.67 229.79 366.92C230.6 367.17 231.42 367.42 232.23 367.68C233.04 367.93 233.86 368.19 234.67 368.45C235.48 368.71 236.29 368.97 237.1 369.24C237.92 369.5 238.73 369.77 239.54 370.04C240.35 370.31 241.16 370.59 241.97 370.86C242.78 371.14 243.59 371.42 244.39 371.7C245.2 371.99 246.01 372.27 246.81 372.56C247.62 372.85 248.42 373.14 249.22 373.44C250.02 373.74 250.82 374.04 251.62 374.34C252.42 374.65 253.22 374.96 254.01 375.27C254.81 375.58 255.6 375.9 256.39 376.22C257.18 376.54 257.97 376.86 258.75 377.19C259.54 377.52 260.32 377.85 261.1 378.19C261.88 378.53 262.66 378.87 263.43 379.22C264.2 379.56 264.98 379.91 265.74 380.27C266.51 380.63 267.28 380.99 268.04 381.36C268.8 381.72 269.56 382.09 270.31 382.47C271.06 382.85 271.82 383.23 272.56 383.62C273.31 384.01 274.05 384.4 274.79 384.8C275.53 385.2 276.26 385.6 276.99 386.01C277.72 386.42 278.45 386.84 279.17 387.26C279.89 387.68 280.6 388.11 281.32 388.55C282.03 388.98 282.73 389.42 283.43 389.87C284.14 390.32 284.83 390.77 285.52 391.23C286.21 391.69 286.9 392.16 287.58 392.63C288.26 393.11 288.93 393.59 289.6 394.07C290.27 394.56 290.93 395.06 291.59 395.56C292.25 396.06 292.9 396.57 293.54 397.08C294.19 397.6 294.83 398.12 295.46 398.65C296.09 399.18 296.71 399.72 297.33 400.27C297.95 400.81 298.57 401.36 299.17 401.92C299.78 402.48 300.38 403.05 300.98 403.62C301.57 404.19 302.16 404.77 302.74 405.36C303.33 405.94 303.9 406.53 304.47 407.13C305.04 407.73 305.61 408.33 306.17 408.94C306.73 409.56 307.28 410.17 307.83 410.79C308.38 411.42 308.92 412.05 309.46 412.68C309.99 413.31 310.52 413.95 311.05 414.6C311.57 415.24 312.09 415.89 312.61 416.55C313.12 417.21 313.63 417.87 314.13 418.53C314.63 419.2 315.13 419.87 315.62 420.55C316.12 421.23 316.6 421.91 317.08 422.59C317.57 423.28 318.04 423.97 318.51 424.66C318.98 425.36 319.45 426.06 319.91 426.76C320.37 427.47 320.83 428.18 321.28 428.89C321.73 429.6 322.17 430.32 322.61 431.04C323.06 431.76 323.49 432.48 323.92 433.21C324.35 433.94 324.78 434.67 325.2 435.41C325.62 436.14 326.04 436.88 326.45 437.62C326.86 438.37 327.26 439.11 327.67 439.86C328.07 440.61 328.47 441.36 328.86 442.12C329.25 442.87 329.64 443.63 330.02 444.39C330.41 445.15 330.79 445.91 331.16 446.68C331.53 447.45 331.9 448.21 332.27 448.99C332.64 449.76 333 450.53 333.35 451.31C333.71 452.08 334.06 452.86 334.41 453.64C334.76 454.42 335.11 455.2 335.45 455.98C335.79 456.77 336.12 457.55 336.45 458.34C336.79 459.12 337.11 459.91 337.44 460.7C337.76 461.49 338.08 462.28 338.4 463.07C338.71 463.87 339.03 464.66 339.34 465.45C339.64 466.25 339.95 467.04 340.25 467.84C340.55 468.64 340.85 469.43 341.14 470.23C341.43 471.03 341.72 471.83 342.01 472.63C342.3 473.42 342.58 474.22 342.86 475.02C343.14 475.82 343.41 476.62 343.68 477.42C343.96 478.22 344.22 479.03 344.49 479.83C344.75 480.63 345.02 481.43 345.28 482.23C345.53 483.03 345.79 483.84 346.04 484.64C346.29 485.44 346.54 486.25 346.79 487.05C347.03 487.86 347.28 488.66 347.52 489.47C347.76 490.27 347.99 491.08 348.23 491.88C348.46 492.69 348.69 493.5 348.92 494.3C349.15 495.11 349.37 495.92 349.6 496.73C349.82 497.54 350.04 498.34 350.26 499.15C350.47 499.96 350.69 500.77 350.9 501.58C351.11 502.39 351.32 503.2 351.53 504.02C351.73 504.83 351.94 505.64 352.14 506.45C352.34 507.26 352.54 508.08 352.74 508.89C352.93 509.7 353.13 510.52 353.32 511.33C353.51 512.14 353.7 512.96 353.89 513.77C354.08 514.59 354.26 515.41 354.45 516.22C354.63 517.04 354.81 517.86 354.99 518.67C355.17 519.49 355.35 520.31 355.53 521.13C355.7 521.95 355.88 522.76 356.05 523.58C356.22 524.4 356.39 525.22 356.56 526.04C356.73 526.86 356.89 527.69 357.06 528.51C357.22 529.33 357.39 530.15 357.55 530.97C357.71 531.8 357.87 532.62 358.03 533.44C358.19 534.27 358.34 535.09 358.5 535.92C358.65 536.74 358.81 537.57 358.96 538.39C359.11 539.22 359.27 540.05 359.42 540.87C359.57 541.7 359.79 542.94 359.86 543.36" stroke="#c8780a"/>
<path d="M70.06 324.14C70.46 324.25 71.67 324.6 72.48 324.83C73.28 325.05 74.09 325.27 74.9 325.49C75.71 325.71 76.52 325.93 77.33 326.15C78.14 326.36 78.96 326.57 79.77 326.78C80.58 326.99 81.39 327.19 82.21 327.39C83.02 327.6 83.84 327.8 84.65 327.99C85.47 328.19 86.28 328.39 87.1 328.58C87.92 328.77 88.74 328.97 89.55 329.15C90.37 329.34 91.19 329.53 92.01 329.72C92.83 329.9 93.65 330.08 94.47 330.26C95.29 330.45 96.11 330.63 96.93 330.8C97.75 330.98 98.58 331.16 99.4 331.33C100.22 331.51 101.04 331.68 101.87 331.86C102.69 332.03 103.51 332.2 104.34 332.37C105.16 332.54 105.98 332.71 106.81 332.88C107.63 333.05 108.46 333.22 109.28 333.39C110.11 333.56 110.93 333.72 111.76 333.89C112.58 334.06 113.41 334.22 114.23 334.39C115.06 334.56 115.88 334.72 116.71 334.89C117.53 335.05 118.36 335.22 119.18 335.38C120.01 335.55 120.83 335.72 121.66 335.88C122.48 336.05 123.31 336.21 124.13 336.38C124.96 336.55 125.78 336.72 126.61 336.88C127.43 337.05 128.26 337.22 129.08 337.39C129.91 337.56 130.73 337.73 131.56 337.9C132.38 338.07 133.2 338.25 134.03 338.42C134.85 338.59 135.67 338.77 136.5 338.95C137.32 339.12 138.14 339.3 138.96 339.48C139.79 339.66 140.61 339.84 141.43 340.02C142.25 340.2 143.07 340.39 143.89 340.57C144.71 340.76 145.53 340.95 146.35 341.14C147.17 341.33 147.99 341.52 148.81 341.72C149.62 341.91 150.44 342.11 151.26 342.31C152.08 342.51 152.89 342.71 153.71 342.91C154.52 343.12 155.34 343.32 156.15 343.53C156.96 343.74 157.78 343.96 158.59 344.17C159.4 344.39 160.21 344.61 161.02 344.83C161.83 345.05 162.64 345.27 163.45 345.5C164.26 345.73 165.07 345.96 165.88 346.2C166.68 346.43 167.49 346.67 168.3 346.92C169.1 347.16 169.9 347.4 170.71 347.65C171.51 347.9 172.31 348.16 173.11 348.42C173.91 348.68 174.71 348.94 175.51 349.21C176.31 349.47 177.1 349.74 177.9 350.02C178.69 350.3 179.48 350.58 180.27 350.86C181.06 351.15 181.85 351.44 182.63 351.74C183.42 352.03 184.2 352.34 184.98 352.64C185.76 352.95 186.54 353.26 187.31 353.58C188.09 353.9 188.86 354.23 189.63 354.56C190.4 354.89 191.17 355.22 191.93 355.57C192.69 355.91 193.45 356.26 194.21 356.62C194.96 356.97 195.71 357.34 196.46 357.71C197.21 358.08 197.96 358.45 198.7 358.84C199.44 359.22 200.17 359.62 200.91 360.01C201.64 360.41 202.37 360.82 203.09 361.23C203.82 361.65 204.54 362.07 205.25 362.49C205.97 362.92 206.68 363.35 207.39 363.79C208.1 364.23 208.8 364.68 209.51 365.13C210.21 365.59 210.9 366.05 211.6 366.51C212.29 366.98 212.98 367.45 213.67 367.92C214.36 368.4 215.04 368.88 215.72 369.37C216.4 369.86 217.08 370.35 217.75 370.85C218.43 371.35 219.1 371.85 219.76 372.36C220.43 372.87 221.1 373.38 221.76 373.9C222.42 374.42 223.08 374.94 223.73 375.47C224.39 376 225.04 376.53 225.69 377.06C226.34 377.6 226.99 378.14 227.63 378.68C228.28 379.23 228.92 379.77 229.56 380.32C230.2 380.88 230.84 381.43 231.47 381.99C232.11 382.55 232.74 383.11 233.37 383.67C234 384.23 234.62 384.8 235.25 385.37C235.87 385.94 236.5 386.51 237.12 387.09C237.74 387.67 238.36 388.24 238.98 388.82C239.59 389.4 240.21 389.99 240.82 390.57C241.43 391.15 242.05 391.74 242.66 392.33C243.26 392.92 243.87 393.51 244.48 394.1C245.09 394.69 245.69 395.28 246.29 395.88C246.9 396.47 247.5 397.06 248.1 397.66C248.7 398.26 249.3 398.85 249.89 399.45C250.49 400.05 251.09 400.65 251.68 401.25C252.28 401.84 252.87 402.44 253.47 403.04C254.06 403.64 254.65 404.24 255.24 404.84C255.83 405.44 256.42 406.04 257.01 406.64C257.6 407.24 258.19 407.83 258.78 408.43C259.36 409.03 259.95 409.63 260.54 410.22C261.12 410.82 261.71 411.41 262.29 412.01C262.87 412.61 263.45 413.2 264.03 413.8C264.61 414.4 265.19 415 265.76 415.61C266.33 416.21 266.9 416.82 267.46 417.43C268.02 418.04 268.58 418.66 269.13 419.28C269.68 419.9 270.22 420.52 270.76 421.16C271.3 421.79 271.83 422.43 272.36 423.07C272.88 423.72 273.4 424.37 273.91 425.02C274.42 425.68 274.93 426.34 275.43 427C275.93 427.67 276.43 428.34 276.92 429.01C277.41 429.69 277.9 430.36 278.38 431.05C278.86 431.73 279.34 432.41 279.82 433.1C280.29 433.79 280.76 434.48 281.23 435.17C281.7 435.87 282.17 436.56 282.63 437.26C283.09 437.96 283.55 438.66 284.01 439.37C284.46 440.07 284.92 440.77 285.37 441.48C285.82 442.19 286.27 442.9 286.71 443.61C287.16 444.32 287.6 445.03 288.04 445.75C288.48 446.46 288.92 447.18 289.36 447.9C289.79 448.62 290.23 449.34 290.66 450.06C291.09 450.78 291.52 451.51 291.95 452.23C292.37 452.96 292.8 453.68 293.22 454.41C293.65 455.14 294.07 455.87 294.49 456.6C294.91 457.33 295.32 458.06 295.74 458.79C296.16 459.53 296.57 460.26 296.98 461C297.4 461.73 297.81 462.47 298.22 463.2C298.63 463.94 299.04 464.68 299.44 465.41C299.85 466.15 300.26 466.89 300.66 467.63C301.06 468.37 301.47 469.11 301.87 469.85C302.27 470.59 302.67 471.33 303.07 472.07C303.47 472.81 303.87 473.56 304.27 474.3C304.67 475.04 305.07 475.78 305.46 476.52C305.86 477.27 306.26 478.01 306.65 478.75C307.05 479.49 307.44 480.24 307.83 480.98C308.23 481.72 308.62 482.47 309.01 483.21C309.4 483.95 309.79 484.7 310.18 485.44C310.57 486.19 310.95 486.93 311.34 487.68C311.72 488.42 312.11 489.17 312.49 489.92C312.87 490.66 313.25 491.41 313.63 492.16C314.01 492.91 314.38 493.66 314.76 494.41C315.13 495.16 315.5 495.91 315.87 496.66C316.25 497.41 316.61 498.17 316.98 498.92C317.34 499.67 317.71 500.43 318.07 501.18C318.43 501.94 318.79 502.7 319.14 503.45C319.5 504.21 319.85 504.97 320.2 505.73C320.56 506.49 320.9 507.25 321.25 508.02C321.59 508.78 321.94 509.54 322.27 510.31C322.61 511.07 322.95 511.84 323.28 512.61C323.61 513.38 323.94 514.15 324.27 514.92C324.6 515.69 324.92 516.47 325.24 517.24C325.56 518.02 325.87 518.79 326.19 519.57C326.5 520.35 326.81 521.13 327.11 521.91C327.42 522.69 327.72 523.48 328.01 524.26C328.31 525.05 328.6 525.84 328.89 526.63C329.18 527.42 329.47 528.21 329.75 529C330.03 529.8 330.3 530.59 330.57 531.39C330.85 532.19 331.11 532.99 331.38 533.79C331.64 534.59 331.9 535.4 332.15 536.21C332.4 537.01 332.65 537.82 332.9 538.63C333.14 539.45 333.38 540.26 333.61 541.08C333.85 541.89 334.19 543.12 334.3 543.53" stroke="#7810d8"/>
<path d="M69.95 373.57C70.38 373.64 71.64 373.84 72.48 373.97C73.32 374.1 74.16 374.23 75 374.35C75.84 374.48 76.68 374.61 77.51 374.73C78.35 374.85 79.19 374.98 80.03 375.1C80.86 375.22 81.7 375.34 82.54 375.45C83.37 375.57 84.21 375.69 85.05 375.8C85.88 375.92 86.72 376.03 87.55 376.14C88.39 376.25 89.22 376.36 90.05 376.47C90.89 376.58 91.72 376.69 92.55 376.8C93.39 376.9 94.22 377.01 95.05 377.11C95.89 377.22 96.72 377.32 97.55 377.43C98.38 377.53 99.21 377.63 100.04 377.73C100.88 377.83 101.71 377.93 102.54 378.03C103.37 378.13 104.2 378.23 105.03 378.32C105.86 378.42 106.69 378.52 107.52 378.61C108.35 378.71 109.18 378.8 110.01 378.9C110.84 378.99 111.67 379.09 112.49 379.18C113.32 379.27 114.15 379.37 114.98 379.46C115.81 379.55 116.64 379.64 117.47 379.73C118.3 379.83 119.12 379.92 119.95 380.01C120.78 380.1 121.61 380.19 122.44 380.28C123.26 380.37 124.09 380.46 124.92 380.55C125.75 380.64 126.58 380.73 127.4 380.82C128.23 380.91 129.06 381 129.89 381.09C130.72 381.17 131.54 381.26 132.37 381.35C133.2 381.44 134.03 381.53 134.85 381.62C135.68 381.71 136.51 381.8 137.34 381.89C138.17 381.98 138.99 382.07 139.82 382.16C140.65 382.25 141.48 382.34 142.31 382.43C143.14 382.53 143.96 382.62 144.79 382.71C145.62 382.8 146.45 382.89 147.28 382.99C148.11 383.08 148.94 383.17 149.77 383.27C150.6 383.36 151.43 383.46 152.26 383.55C153.09 383.65 153.92 383.74 154.75 383.84C155.58 383.94 156.41 384.03 157.24 384.13C158.07 384.23 158.9 384.33 159.73 384.43C160.56 384.53 161.39 384.63 162.22 384.73C163.06 384.83 163.89 384.94 164.72 385.04C165.55 385.15 166.39 385.25 167.22 385.36C168.05 385.46 168.89 385.57 169.72 385.68C170.55 385.79 171.39 385.9 172.22 386.01C173.06 386.12 173.89 386.23 174.73 386.35C175.56 386.46 176.4 386.58 177.24 386.69C178.07 386.81 178.91 386.93 179.75 387.05C180.58 387.17 181.42 387.29 182.26 387.41C183.1 387.53 183.94 387.66 184.78 387.78C185.62 387.91 186.46 388.04 187.3 388.16C188.14 388.29 188.98 388.43 189.82 388.56C190.66 388.69 191.5 388.83 192.35 388.96C193.19 389.1 194.03 389.24 194.87 389.37C195.72 389.51 196.56 389.64 197.4 389.78C198.25 389.91 199.09 390.04 199.93 390.17C200.78 390.3 201.62 390.42 202.46 390.54C203.3 390.66 204.15 390.77 204.99 390.88C205.83 390.99 206.67 391.09 207.51 391.18C208.34 391.27 209.18 391.35 210.02 391.43C210.85 391.5 211.69 391.57 212.52 391.62C213.36 391.67 214.19 391.71 215.02 391.74C215.85 391.77 216.68 391.78 217.5 391.78C218.33 391.78 219.15 391.77 219.97 391.74C220.8 391.71 221.62 391.66 222.43 391.6C223.25 391.54 224.06 391.46 224.87 391.36C225.69 391.26 226.49 391.14 227.3 391C228.11 390.86 228.91 390.7 229.71 390.51C230.51 390.33 231.3 390.13 232.09 389.91C232.89 389.69 233.68 389.45 234.46 389.2C235.25 388.95 236.03 388.68 236.81 388.39C237.6 388.11 238.37 387.82 239.15 387.51C239.92 387.21 240.7 386.89 241.47 386.57C242.24 386.25 243 385.91 243.77 385.58C244.53 385.24 245.29 384.9 246.05 384.55C246.81 384.21 247.57 383.86 248.33 383.51C249.09 383.16 249.85 382.81 250.61 382.46C251.37 382.12 252.12 381.77 252.89 381.42C253.65 381.08 254.41 380.74 255.17 380.4C255.94 380.07 256.71 379.74 257.48 379.42C258.25 379.1 259.03 378.78 259.81 378.48C260.59 378.18 261.37 377.89 262.16 377.61C262.95 377.33 263.75 377.06 264.54 376.8C265.34 376.55 266.15 376.3 266.96 376.07C267.77 375.84 268.58 375.62 269.4 375.41C270.22 375.2 271.04 375 271.87 374.81C272.7 374.63 273.53 374.45 274.36 374.29C275.2 374.13 276.03 373.98 276.87 373.84C277.71 373.71 278.56 373.59 279.4 373.48C280.25 373.37 281.09 373.28 281.94 373.21C282.78 373.14 283.63 373.09 284.47 373.06C285.31 373.02 286.15 373.01 286.99 373.02C287.83 373.04 288.67 373.07 289.5 373.13C290.33 373.19 291.16 373.27 291.99 373.38C292.81 373.49 293.63 373.62 294.44 373.77C295.26 373.93 296.07 374.11 296.87 374.31C297.68 374.51 298.48 374.73 299.27 374.97C300.06 375.21 300.85 375.48 301.63 375.76C302.41 376.04 303.18 376.35 303.95 376.67C304.71 376.99 305.47 377.33 306.22 377.69C306.97 378.05 307.72 378.43 308.45 378.83C309.19 379.22 309.91 379.64 310.63 380.07C311.35 380.5 312.06 380.94 312.76 381.41C313.46 381.87 314.15 382.35 314.83 382.84C315.51 383.33 316.18 383.84 316.84 384.36C317.5 384.88 318.15 385.41 318.79 385.96C319.42 386.51 320.05 387.07 320.67 387.64C321.28 388.21 321.89 388.8 322.48 389.39C323.07 389.99 323.65 390.6 324.22 391.21C324.78 391.83 325.34 392.46 325.88 393.09C326.42 393.73 326.95 394.37 327.47 395.03C327.98 395.68 328.49 396.35 328.98 397.02C329.48 397.69 329.96 398.37 330.43 399.05C330.9 399.74 331.36 400.44 331.81 401.14C332.26 401.84 332.7 402.55 333.13 403.27C333.56 403.98 333.98 404.7 334.39 405.43C334.81 406.16 335.21 406.89 335.6 407.63C336 408.37 336.39 409.12 336.77 409.86C337.15 410.61 337.52 411.37 337.88 412.13C338.25 412.88 338.61 413.65 338.96 414.41C339.31 415.18 339.65 415.95 340 416.72C340.34 417.49 340.67 418.27 341 419.04C341.33 419.82 341.65 420.6 341.97 421.38C342.29 422.17 342.61 422.95 342.92 423.73C343.23 424.52 343.54 425.31 343.85 426.09C344.15 426.88 344.46 427.67 344.75 428.46C345.05 429.24 345.35 430.03 345.64 430.82C345.94 431.61 346.23 432.4 346.51 433.19C346.8 433.99 347.09 434.78 347.37 435.57C347.65 436.36 347.93 437.16 348.2 437.95C348.48 438.74 348.75 439.54 349.02 440.33C349.29 441.13 349.56 441.92 349.82 442.72C350.09 443.52 350.35 444.32 350.61 445.11C350.87 445.91 351.12 446.71 351.38 447.51C351.63 448.31 351.88 449.11 352.13 449.91C352.38 450.71 352.62 451.51 352.86 452.31C353.11 453.11 353.35 453.92 353.58 454.72C353.82 455.52 354.05 456.33 354.29 457.13C354.52 457.93 354.75 458.74 354.98 459.54C355.2 460.35 355.43 461.16 355.65 461.96C355.87 462.77 356.09 463.58 356.31 464.38C356.52 465.19 356.74 466 356.95 466.81C357.16 467.62 357.37 468.43 357.58 469.24C357.79 470.05 357.99 470.86 358.19 471.67C358.4 472.48 358.6 473.29 358.79 474.11C358.99 474.92 359.19 475.73 359.38 476.54C359.57 477.36 359.77 478.17 359.95 478.99C360.14 479.8 360.33 480.62 360.51 481.43C360.7 482.25 360.88 483.06 361.06 483.88C361.24 484.7 361.42 485.51 361.6 486.33C361.77 487.15 361.94 487.97 362.12 488.79C362.29 489.6 362.46 490.42 362.63 491.24C362.79 492.06 362.96 492.88 363.12 493.7C363.29 494.52 363.45 495.35 363.61 496.17C363.77 496.99 363.92 497.81 364.08 498.63C364.24 499.46 364.39 500.28 364.54 501.1C364.69 501.93 364.84 502.75 364.99 503.57C365.14 504.4 365.29 505.22 365.43 506.05C365.57 506.87 365.72 507.7 365.86 508.53C366 509.35 366.14 510.18 366.28 511.01C366.41 511.83 366.55 512.66 366.68 513.49C366.82 514.32 366.95 515.14 367.08 515.97C367.21 516.8 367.34 517.63 367.47 518.46C367.6 519.29 367.72 520.12 367.85 520.95C367.97 521.78 368.09 522.61 368.21 523.44C368.34 524.27 368.46 525.1 368.57 525.94C368.69 526.77 368.81 527.6 368.92 528.43C369.04 529.27 369.15 530.1 369.26 530.93C369.38 531.76 369.49 532.6 369.6 533.43C369.71 534.27 369.82 535.1 369.92 535.94C370.03 536.77 370.13 537.61 370.24 538.44C370.34 539.28 370.45 540.11 370.55 540.95C370.65 541.78 370.8 543.04 370.85 543.46" stroke="#a60a0a"/>
<path d="M69.95 328.34C70.37 328.42 71.61 328.68 72.44 328.85C73.27 329.03 74.1 329.2 74.92 329.37C75.75 329.54 76.58 329.72 77.41 329.89C78.23 330.06 79.06 330.24 79.89 330.41C80.72 330.58 81.54 330.76 82.37 330.93C83.2 331.1 84.03 331.28 84.85 331.45C85.68 331.63 86.5 331.8 87.33 331.97C88.16 332.15 88.98 332.32 89.81 332.5C90.63 332.67 91.46 332.85 92.29 333.02C93.11 333.2 93.94 333.37 94.76 333.55C95.59 333.72 96.41 333.9 97.24 334.08C98.06 334.25 98.89 334.43 99.71 334.6C100.54 334.78 101.36 334.96 102.18 335.13C103.01 335.31 103.83 335.49 104.66 335.66C105.48 335.84 106.3 336.02 107.13 336.2C107.95 336.37 108.77 336.55 109.6 336.73C110.42 336.91 111.24 337.08 112.07 337.26C112.89 337.44 113.71 337.62 114.54 337.8C115.36 337.97 116.18 338.15 117 338.33C117.83 338.51 118.65 338.69 119.47 338.87C120.29 339.05 121.11 339.23 121.94 339.41C122.76 339.59 123.58 339.77 124.4 339.95C125.22 340.13 126.05 340.31 126.87 340.49C127.69 340.67 128.51 340.85 129.33 341.03C130.15 341.21 130.97 341.39 131.79 341.57C132.61 341.75 133.44 341.93 134.26 342.12C135.08 342.3 135.9 342.48 136.72 342.66C137.54 342.84 138.36 343.02 139.18 343.21C140 343.39 140.82 343.57 141.64 343.75C142.46 343.94 143.28 344.12 144.1 344.3C144.92 344.49 145.74 344.67 146.56 344.85C147.38 345.04 148.2 345.22 149.02 345.4C149.84 345.59 150.66 345.77 151.48 345.96C152.3 346.14 153.12 346.33 153.94 346.51C154.75 346.69 155.57 346.88 156.39 347.06C157.21 347.25 158.03 347.43 158.85 347.62C159.67 347.81 160.49 347.99 161.31 348.18C162.13 348.36 162.94 348.55 163.76 348.74C164.58 348.92 165.4 349.11 166.22 349.3C167.04 349.48 167.86 349.67 168.67 349.86C169.49 350.04 170.31 350.23 171.13 350.42C171.95 350.61 172.77 350.79 173.59 350.98C174.4 351.17 175.22 351.36 176.04 351.55C176.86 351.73 177.68 351.92 178.49 352.11C179.31 352.3 180.13 352.49 180.95 352.68C181.77 352.87 182.58 353.06 183.4 353.25C184.22 353.44 185.04 353.63 185.86 353.82C186.67 354.01 187.49 354.2 188.31 354.39C189.13 354.58 189.95 354.77 190.76 354.96C191.58 355.15 192.4 355.34 193.22 355.53C194.03 355.72 194.85 355.91 195.67 356.11C196.49 356.3 197.31 356.49 198.12 356.68C198.94 356.87 199.76 357.07 200.58 357.26C201.39 357.45 202.21 357.64 203.03 357.84C203.85 358.03 204.66 358.22 205.48 358.42C206.3 358.61 207.12 358.8 207.94 359C208.75 359.19 209.57 359.39 210.39 359.58C211.21 359.78 212.02 359.97 212.84 360.16C213.66 360.36 214.48 360.55 215.29 360.75C216.11 360.94 216.93 361.14 217.75 361.34C218.57 361.53 219.38 361.73 220.2 361.92C221.02 362.12 221.84 362.32 222.66 362.51C223.47 362.71 224.29 362.91 225.11 363.1C225.93 363.3 226.75 363.5 227.56 363.69C228.38 363.89 229.2 364.09 230.02 364.29C230.84 364.49 231.65 364.68 232.47 364.88C233.29 365.08 234.11 365.28 234.93 365.48C235.75 365.68 236.56 365.88 237.38 366.07C238.2 366.27 239.02 366.47 239.84 366.67C240.66 366.87 241.47 367.07 242.29 367.27C243.11 367.47 243.93 367.67 244.75 367.87C245.57 368.07 246.39 368.28 247.21 368.48C248.02 368.68 248.84 368.88 249.66 369.08C250.48 369.28 251.3 369.48 252.12 369.69C252.94 369.89 253.76 370.09 254.58 370.29C255.4 370.5 256.22 370.7 257.04 370.9C257.85 371.11 258.67 371.31 259.49 371.51C260.31 371.72 261.13 371.92 261.95 372.13C262.77 372.34 263.59 372.54 264.41 372.75C265.22 372.96 266.04 373.17 266.86 373.38C267.68 373.59 268.5 373.8 269.31 374.01C270.13 374.22 270.95 374.43 271.77 374.65C272.58 374.86 273.4 375.08 274.21 375.3C275.03 375.52 275.84 375.73 276.66 375.95C277.47 376.18 278.29 376.4 279.1 376.62C279.92 376.85 280.73 377.07 281.54 377.3C282.35 377.53 283.17 377.76 283.98 377.99C284.79 378.22 285.6 378.45 286.41 378.69C287.22 378.93 288.03 379.16 288.84 379.4C289.64 379.65 290.45 379.89 291.26 380.13C292.06 380.38 292.87 380.63 293.67 380.88C294.48 381.13 295.28 381.38 296.09 381.64C296.89 381.89 297.69 382.15 298.49 382.41C299.29 382.68 300.09 382.94 300.89 383.21C301.69 383.47 302.49 383.75 303.28 384.02C304.08 384.29 304.87 384.57 305.67 384.85C306.46 385.13 307.25 385.41 308.05 385.7C308.84 385.99 309.63 386.28 310.42 386.57C311.2 386.87 311.99 387.17 312.78 387.47C313.56 387.77 314.35 388.08 315.13 388.38C315.91 388.69 316.7 389.01 317.48 389.32C318.26 389.64 319.04 389.96 319.81 390.29C320.59 390.61 321.36 390.94 322.14 391.28C322.91 391.61 323.68 391.95 324.45 392.29C325.22 392.64 325.99 392.98 326.76 393.34C327.53 393.69 328.29 394.04 329.06 394.41C329.82 394.77 330.58 395.13 331.34 395.5C332.1 395.87 332.85 396.25 333.61 396.63C334.36 397.01 335.11 397.39 335.86 397.78C336.61 398.17 337.36 398.56 338.1 398.96C338.85 399.36 339.59 399.76 340.33 400.17C341.07 400.58 341.8 400.99 342.54 401.41C343.27 401.82 344 402.25 344.73 402.67C345.45 403.1 346.18 403.53 346.9 403.97C347.62 404.41 348.34 404.85 349.05 405.29C349.76 405.74 350.47 406.19 351.18 406.65C351.89 407.11 352.59 407.57 353.29 408.03C353.99 408.5 354.68 408.97 355.37 409.45C356.06 409.92 356.75 410.41 357.43 410.89C358.12 411.38 358.8 411.87 359.47 412.37C360.15 412.86 360.82 413.37 361.48 413.87C362.15 414.38 362.81 414.89 363.47 415.41C364.12 415.93 364.77 416.45 365.42 416.98C366.07 417.51 366.71 418.04 367.35 418.58C367.99 419.12 368.62 419.66 369.25 420.21C369.87 420.76 370.5 421.31 371.11 421.87C371.73 422.43 372.34 423 372.95 423.57C373.56 424.14 374.16 424.71 374.75 425.29C375.35 425.88 375.94 426.46 376.52 427.05C377.1 427.65 377.68 428.24 378.25 428.85C378.83 429.45 379.39 430.06 379.95 430.67C380.51 431.29 381.07 431.91 381.61 432.53C382.16 433.16 382.7 433.79 383.24 434.42C383.77 435.06 384.3 435.7 384.82 436.35C385.35 437 385.86 437.65 386.37 438.31C386.88 438.97 387.38 439.63 387.88 440.3C388.37 440.97 388.86 441.65 389.34 442.33C389.82 443.01 390.3 443.7 390.76 444.39C391.23 445.08 391.69 445.77 392.15 446.48C392.6 447.18 393.05 447.89 393.48 448.6C393.92 449.31 394.36 450.03 394.78 450.75C395.2 451.47 395.62 452.2 396.03 452.93C396.44 453.66 396.84 454.4 397.24 455.14C397.63 455.88 398.02 456.63 398.4 457.38C398.78 458.13 399.15 458.89 399.51 459.65C399.88 460.41 400.23 461.18 400.58 461.95C400.93 462.72 401.27 463.5 401.6 464.28C401.94 465.06 402.26 465.84 402.58 466.63C402.89 467.42 403.2 468.21 403.5 469.01C403.8 469.81 404.09 470.61 404.37 471.42C404.66 472.22 404.93 473.03 405.2 473.85C405.47 474.66 405.72 475.48 405.97 476.31C406.22 477.13 406.46 477.96 406.7 478.79C406.93 479.62 407.15 480.46 407.37 481.3C407.58 482.14 407.79 482.98 407.98 483.83C408.18 484.68 408.37 485.53 408.55 486.39C408.73 487.24 408.9 488.1 409.06 488.97C409.22 489.83 409.44 491.14 409.51 491.57" stroke="#0845d8"/>
</g>
<path d="M76.2 536.5v-7.4M76.2 306.8v7.4M136.33 536.5v-7.4M136.33 306.8v7.4M196.46 536.5v-7.4M196.46 306.8v7.4M256.59 536.5v-7.4M256.59 306.8v7.4M316.72 536.5v-7.4M316.72 306.8v7.4M376.85 536.5v-7.4M376.85 306.8v7.4M94.3 536.5v-3.8M94.3 306.8v3.8M118.23 536.5v-3.8M118.23 306.8v3.8M130.5 536.5v-3.8M130.5 306.8v3.8M154.43 536.5v-3.8M154.43 306.8v3.8M178.36 536.5v-3.8M178.36 306.8v3.8M190.63 536.5v-3.8M190.63 306.8v3.8M214.56 536.5v-3.8M214.56 306.8v3.8M238.49 536.5v-3.8M238.49 306.8v3.8M250.77 536.5v-3.8M250.77 306.8v3.8M274.69 536.5v-3.8M274.69 306.8v3.8M298.62 536.5v-3.8M298.62 306.8v3.8M310.9 536.5v-3.8M310.9 306.8v3.8M334.83 536.5v-3.8M334.83 306.8v3.8M358.75 536.5v-3.8M358.75 306.8v3.8M371.03 536.5v-3.8M371.03 306.8v3.8M394.96 536.5v-3.8M394.96 306.8v3.8M76.2 536.5h7.4M406.8 536.5h-7.4M76.2 499.45h7.4M406.8 499.45h-7.4M76.2 462.4h7.4M406.8 462.4h-7.4M76.2 425.35h7.4M406.8 425.35h-7.4M76.2 388.31h7.4M406.8 388.31h-7.4M76.2 351.26h7.4M406.8 351.26h-7.4M76.2 314.21h7.4M406.8 314.21h-7.4M76.2 529.09h3.8M406.8 529.09h-3.8M76.2 521.68h3.8M406.8 521.68h-3.8M76.2 514.27h3.8M406.8 514.27h-3.8M76.2 506.86h3.8M406.8 506.86h-3.8M76.2 492.04h3.8M406.8 492.04h-3.8M76.2 484.63h3.8M406.8 484.63h-3.8M76.2 477.22h3.8M406.8 477.22h-3.8M76.2 469.81h3.8M406.8 469.81h-3.8M76.2 454.99h3.8M406.8 454.99h-3.8M76.2 447.58h3.8M406.8 447.58h-3.8M76.2 440.17h3.8M406.8 440.17h-3.8M76.2 432.76h3.8M406.8 432.76h-3.8M76.2 417.95h3.8M406.8 417.95h-3.8M76.2 410.54h3.8M406.8 410.54h-3.8M76.2 403.13h3.8M406.8 403.13h-3.8M76.2 395.72h3.8M406.8 395.72h-3.8M76.2 380.9h3.8M406.8 380.9h-3.8M76.2 373.49h3.8M406.8 373.49h-3.8M76.2 366.08h3.8M406.8 366.08h-3.8M76.2 358.67h3.8M406.8 358.67h-3.8M76.2 343.85h3.8M406.8 343.85h-3.8M76.2 336.44h3.8M406.8 336.44h-3.8M76.2 329.03h3.8M406.8 329.03h-3.8M76.2 321.62h3.8M406.8 321.62h-3.8" stroke="#000" stroke-width="0.95" fill="none"/>
<rect x="76.2" y="306.8" width="330.6" height="229.7" fill="none" stroke="#000" stroke-width="1.5"/>
<text x="76.2" y="557.2" text-anchor="middle">10<tspan dy="-8" font-size="12.8">0</tspan></text>
<text x="136.33" y="557.2" text-anchor="middle">10<tspan dy="-8" font-size="12.8">1</tspan></text>
<text x="196.46" y="557.2" text-anchor="middle">10<tspan dy="-8" font-size="12.8">2</tspan></text>
<text x="256.59" y="557.2" text-anchor="middle">10<tspan dy="-8" font-size="12.8">3</tspan></text>
<text x="316.72" y="557.2" text-anchor="middle">10<tspan dy="-8" font-size="12.8">4</tspan></text>
<text x="376.85" y="557.2" text-anchor="middle">10<tspan dy="-8" font-size="12.8">5</tspan></text>
<text x="68.1" y="543.5" text-anchor="end">10<tspan dy="-8" font-size="12.8">25</tspan></text>
<text x="68.1" y="506.45" text-anchor="end">10<tspan dy="-8" font-size="12.8">30</tspan></text>
<text x="68.1" y="469.4" text-anchor="end">10<tspan dy="-8" font-size="12.8">35</tspan></text>
<text x="68.1" y="432.35" text-anchor="end">10<tspan dy="-8" font-size="12.8">40</tspan></text>
<text x="68.1" y="395.31" text-anchor="end">10<tspan dy="-8" font-size="12.8">45</tspan></text>
<text x="68.1" y="358.26" text-anchor="end">10<tspan dy="-8" font-size="12.8">50</tspan></text>
<text x="68.1" y="321.21" text-anchor="end">10<tspan dy="-8" font-size="12.8">55</tspan></text>
</g>
<g id="panel-d">
<clipPath id="clip-d"><rect x="483" y="306.8" width="322.6" height="229.7"/></clipPath>
<g clip-path="url(#clip-d)" fill="none" stroke-width="2.65" stroke-linejoin="round">
<path d="M496.37 546.98C496.4 546.57 496.5 545.34 496.57 544.52C496.64 543.7 496.71 542.88 496.78 542.06C496.84 541.24 496.91 540.42 496.98 539.59C497.04 538.77 497.11 537.94 497.18 537.11C497.24 536.29 497.31 535.46 497.37 534.63C497.44 533.8 497.5 532.97 497.57 532.14C497.63 531.31 497.69 530.48 497.76 529.65C497.82 528.82 497.89 527.99 497.95 527.15C498.01 526.32 498.08 525.48 498.14 524.65C498.2 523.81 498.27 522.98 498.33 522.14C498.39 521.31 498.46 520.47 498.52 519.63C498.58 518.8 498.65 517.96 498.71 517.12C498.77 516.28 498.84 515.44 498.9 514.6C498.97 513.77 499.03 512.93 499.09 512.09C499.16 511.25 499.22 510.41 499.29 509.57C499.35 508.73 499.42 507.89 499.48 507.05C499.55 506.21 499.61 505.37 499.68 504.53C499.75 503.68 499.81 502.84 499.88 502C499.95 501.16 500.02 500.32 500.08 499.48C500.15 498.64 500.22 497.8 500.29 496.96C500.36 496.12 500.43 495.28 500.5 494.44C500.57 493.6 500.64 492.76 500.71 491.92C500.79 491.08 500.86 490.24 500.93 489.41C501.01 488.57 501.08 487.73 501.16 486.89C501.23 486.05 501.31 485.22 501.38 484.38C501.46 483.54 501.54 482.71 501.62 481.87C501.7 481.04 501.78 480.2 501.86 479.37C501.94 478.53 502.02 477.7 502.11 476.87C502.19 476.04 502.27 475.2 502.36 474.37C502.44 473.54 502.53 472.71 502.62 471.88C502.71 471.05 502.8 470.23 502.89 469.4C502.98 468.57 503.07 467.75 503.16 466.92C503.25 466.09 503.35 465.27 503.45 464.45C503.54 463.62 503.64 462.8 503.74 461.98C503.84 461.16 503.94 460.34 504.04 459.52C504.14 458.71 504.24 457.89 504.35 457.07C504.45 456.26 504.56 455.45 504.67 454.63C504.78 453.82 504.89 453.01 505 452.2C505.11 451.38 505.22 450.57 505.34 449.76C505.45 448.95 505.57 448.14 505.69 447.33C505.81 446.52 505.93 445.71 506.06 444.9C506.18 444.09 506.31 443.28 506.44 442.46C506.56 441.65 506.69 440.83 506.83 440.02C506.96 439.2 507.1 438.39 507.23 437.57C507.37 436.75 507.51 435.93 507.66 435.1C507.8 434.28 507.94 433.45 508.09 432.62C508.24 431.79 508.39 430.96 508.55 430.13C508.7 429.29 508.86 428.46 509.02 427.62C509.18 426.77 509.34 425.93 509.51 425.08C509.67 424.23 509.84 423.38 510.02 422.52C510.19 421.66 510.36 420.8 510.54 419.93C510.72 419.07 510.9 418.2 511.1 417.33C511.29 416.46 511.49 415.59 511.71 414.74C511.92 413.88 512.15 413.02 512.4 412.19C512.65 411.35 512.91 410.52 513.2 409.71C513.48 408.91 513.79 408.11 514.13 407.35C514.47 406.58 514.83 405.84 515.22 405.13C515.62 404.41 516.04 403.72 516.51 403.08C516.97 402.43 517.47 401.81 518.01 401.23C518.55 400.66 519.13 400.12 519.76 399.63C520.38 399.14 521.06 398.68 521.77 398.29C522.48 397.9 523.24 397.55 524.01 397.26C524.79 396.97 525.6 396.74 526.41 396.57C527.21 396.4 528.05 396.29 528.86 396.25C529.68 396.21 530.5 396.24 531.3 396.34C532.09 396.45 532.88 396.62 533.63 396.88C534.38 397.13 535.1 397.47 535.78 397.88C536.47 398.28 537.13 398.76 537.75 399.29C538.38 399.82 538.98 400.42 539.55 401.05C540.13 401.68 540.68 402.36 541.2 403.07C541.73 403.77 542.23 404.51 542.72 405.27C543.2 406.02 543.67 406.8 544.11 407.57C544.56 408.35 544.99 409.13 545.41 409.91C545.83 410.69 546.23 411.46 546.62 412.24C547 413.01 547.38 413.79 547.74 414.56C548.1 415.33 548.45 416.1 548.79 416.87C549.13 417.64 549.46 418.41 549.78 419.17C550.1 419.94 550.4 420.71 550.7 421.48C551 422.24 551.29 423.01 551.58 423.78C551.86 424.55 552.14 425.31 552.41 426.08C552.68 426.85 552.94 427.62 553.2 428.39C553.46 429.16 553.71 429.94 553.97 430.71C554.22 431.48 554.46 432.26 554.71 433.03C554.95 433.81 555.19 434.59 555.44 435.37C555.68 436.15 555.92 436.94 556.16 437.72C556.4 438.51 556.64 439.3 556.88 440.09C557.12 440.88 557.36 441.68 557.61 442.48C557.85 443.28 558.1 444.08 558.35 444.89C558.6 445.69 558.86 446.5 559.12 447.32C559.38 448.13 559.64 448.95 559.91 449.78C560.18 450.6 560.45 451.43 560.75 452.26C561.05 453.08 561.35 453.91 561.69 454.71C562.04 455.52 562.4 456.32 562.82 457.08C563.24 457.84 563.7 458.61 564.21 459.27C564.73 459.93 565.31 460.64 565.91 461.04C566.52 461.44 567.18 461.72 567.84 461.69C568.49 461.66 569.2 461.29 569.83 460.86C570.45 460.42 571.06 459.76 571.59 459.1C572.11 458.44 572.55 457.68 572.97 456.91C573.39 456.14 573.75 455.3 574.12 454.47C574.49 453.64 574.82 452.77 575.18 451.94C575.55 451.11 575.9 450.26 576.31 449.48C576.73 448.7 577.16 447.93 577.67 447.25C578.18 446.58 578.78 445.87 579.38 445.44C579.99 445.01 580.68 444.63 581.29 444.65C581.89 444.68 582.47 445.11 582.99 445.59C583.5 446.07 583.97 446.84 584.38 447.54C584.79 448.23 585.15 448.98 585.47 449.74C585.79 450.5 586.07 451.29 586.32 452.1C586.57 452.9 586.78 453.74 586.98 454.57C587.18 455.4 587.36 456.26 587.53 457.1C587.7 457.95 587.86 458.8 588.02 459.65C588.18 460.5 588.33 461.34 588.48 462.19C588.63 463.03 588.78 463.87 588.92 464.71C589.07 465.55 589.21 466.39 589.35 467.23C589.49 468.07 589.62 468.9 589.76 469.74C589.89 470.57 590.02 471.4 590.15 472.23C590.28 473.06 590.41 473.89 590.53 474.72C590.66 475.54 590.78 476.37 590.9 477.19C591.03 478.01 591.15 478.84 591.27 479.66C591.39 480.48 591.51 481.29 591.63 482.11C591.75 482.93 591.87 483.74 591.99 484.56C592.11 485.37 592.23 486.19 592.34 487C592.46 487.81 592.58 488.62 592.7 489.43C592.82 490.23 592.94 491.04 593.07 491.85C593.19 492.65 593.31 493.46 593.43 494.26C593.56 495.06 593.68 495.86 593.81 496.67C593.94 497.47 594.07 498.27 594.19 499.07C594.32 499.87 594.45 500.67 594.58 501.48C594.71 502.29 594.84 503.1 594.96 503.92C595.09 504.73 595.21 505.56 595.33 506.39C595.45 507.22 595.57 508.07 595.68 508.92C595.79 509.77 595.9 510.64 596 511.52C596.1 512.4 596.2 513.29 596.29 514.2C596.38 515.11 596.45 516.04 596.54 516.97C596.63 517.9 596.71 518.84 596.82 519.76C596.93 520.67 597.04 521.59 597.19 522.46C597.35 523.34 597.52 524.2 597.74 525C597.97 525.8 598.23 526.59 598.54 527.27C598.86 527.94 599.25 528.71 599.65 529.08C600.04 529.44 600.49 529.63 600.91 529.43C601.33 529.24 601.75 528.51 602.15 527.9C602.56 527.28 602.96 526.47 603.35 525.74C603.73 525.01 604.11 524.27 604.48 523.52C604.85 522.77 605.21 522.01 605.57 521.25C605.92 520.49 606.27 519.71 606.61 518.94C606.96 518.17 607.3 517.39 607.64 516.6C607.97 515.82 608.31 515.04 608.64 514.25C608.97 513.46 609.3 512.68 609.64 511.89C609.97 511.1 610.3 510.32 610.64 509.53C610.97 508.75 611.31 507.97 611.65 507.19C611.99 506.42 612.34 505.65 612.69 504.88C613.04 504.11 613.39 503.34 613.75 502.58C614.11 501.82 614.47 501.07 614.83 500.31C615.2 499.56 615.57 498.81 615.94 498.07C616.32 497.32 616.69 496.58 617.08 495.84C617.46 495.1 617.84 494.36 618.23 493.63C618.62 492.9 619.02 492.17 619.41 491.44C619.81 490.71 620.21 489.99 620.62 489.26C621.02 488.54 621.43 487.82 621.85 487.1C622.26 486.39 622.68 485.67 623.1 484.96C623.52 484.24 623.95 483.53 624.37 482.82C624.8 482.12 625.24 481.41 625.67 480.7C626.11 480 626.55 479.29 627 478.59C627.44 477.89 627.89 477.19 628.35 476.49C628.8 475.79 629.26 475.09 629.72 474.39C630.18 473.69 630.64 473 631.11 472.3C631.58 471.61 632.05 470.91 632.53 470.22C633.01 469.52 633.49 468.83 633.97 468.14C634.46 467.44 634.94 466.75 635.44 466.06C635.93 465.37 636.43 464.68 636.94 464C637.44 463.32 637.96 462.64 638.48 461.98C639.01 461.31 639.54 460.65 640.08 460.02C640.63 459.38 641.19 458.75 641.76 458.14C642.33 457.53 642.91 456.94 643.52 456.37C644.12 455.8 644.74 455.25 645.38 454.73C646.01 454.21 646.67 453.72 647.34 453.25C648.02 452.78 648.72 452.35 649.44 451.94C650.16 451.53 650.9 451.16 651.65 450.8C652.4 450.44 653.17 450.1 653.95 449.77C654.72 449.44 655.51 449.13 656.3 448.82C657.09 448.5 657.89 448.2 658.68 447.88C659.47 447.57 660.26 447.25 661.04 446.92C661.82 446.58 662.6 446.24 663.37 445.87C664.13 445.5 664.88 445.12 665.62 444.71C666.36 444.3 667.09 443.87 667.8 443.42C668.51 442.97 669.21 442.51 669.9 442.02C670.59 441.54 671.26 441.04 671.92 440.52C672.57 440 673.22 439.47 673.85 438.92C674.48 438.38 675.09 437.82 675.69 437.24C676.29 436.67 676.87 436.09 677.44 435.49C678.01 434.89 678.57 434.28 679.11 433.67C679.65 433.05 680.18 432.42 680.69 431.78C681.21 431.14 681.71 430.49 682.2 429.84C682.69 429.18 683.17 428.51 683.63 427.84C684.1 427.16 684.56 426.48 685.01 425.79C685.46 425.1 685.89 424.4 686.32 423.69C686.75 422.99 687.18 422.28 687.59 421.56C688.01 420.84 688.41 420.12 688.81 419.39C689.21 418.66 689.61 417.93 690 417.19C690.39 416.45 690.77 415.71 691.15 414.96C691.53 414.21 691.91 413.46 692.28 412.71C692.66 411.96 693.03 411.2 693.39 410.44C693.76 409.68 694.13 408.92 694.49 408.16C694.86 407.4 695.22 406.64 695.59 405.87C695.95 405.11 696.32 404.34 696.68 403.58C697.05 402.81 697.41 402.05 697.78 401.28C698.15 400.52 698.53 399.76 698.9 399C699.28 398.23 699.65 397.47 700.04 396.72C700.42 395.96 700.81 395.2 701.2 394.45C701.59 393.7 701.99 392.95 702.39 392.2C702.8 391.46 703.2 390.71 703.61 389.97C704.02 389.23 704.44 388.49 704.85 387.76C705.27 387.02 705.69 386.29 706.11 385.55C706.53 384.82 706.95 384.09 707.37 383.36C707.79 382.63 708.22 381.91 708.64 381.18C709.06 380.46 709.48 379.73 709.9 379.01C710.33 378.29 710.75 377.57 711.16 376.85C711.58 376.13 712 375.41 712.41 374.69C712.82 373.97 713.23 373.26 713.64 372.54C714.04 371.82 714.44 371.11 714.84 370.39C715.24 369.68 715.63 368.96 716.01 368.25C716.4 367.53 716.78 366.82 717.16 366.1C717.53 365.39 717.9 364.67 718.27 363.95C718.64 363.24 719.01 362.52 719.38 361.8C719.75 361.09 720.11 360.37 720.48 359.65C720.85 358.93 721.22 358.21 721.59 357.49C721.96 356.77 722.34 356.05 722.72 355.32C723.1 354.6 723.48 353.87 723.87 353.14C724.26 352.42 724.66 351.69 725.07 350.95C725.47 350.22 725.88 349.49 726.31 348.75C726.73 348.01 727.17 347.27 727.61 346.53C728.06 345.79 728.51 345.04 728.98 344.3C729.45 343.55 729.94 342.79 730.44 342.04C730.93 341.29 731.45 340.53 731.97 339.79C732.5 339.05 733.04 338.31 733.6 337.59C734.15 336.87 734.72 336.16 735.3 335.48C735.88 334.8 736.48 334.14 737.09 333.52C737.7 332.9 738.32 332.3 738.96 331.75C739.6 331.2 740.25 330.68 740.91 330.22C741.57 329.76 742.25 329.33 742.94 328.98C743.63 328.62 744.33 328.31 745.05 328.07C745.77 327.83 746.49 327.65 747.24 327.55C747.98 327.45 748.73 327.41 749.5 327.46C750.26 327.5 751.04 327.63 751.81 327.81C752.59 328 753.37 328.26 754.13 328.56C754.9 328.87 755.66 329.25 756.4 329.66C757.13 330.07 757.86 330.54 758.54 331.04C759.23 331.53 759.89 332.08 760.52 332.64C761.14 333.21 761.73 333.81 762.29 334.44C762.85 335.06 763.38 335.72 763.88 336.39C764.38 337.07 764.85 337.77 765.31 338.48C765.76 339.19 766.18 339.93 766.59 340.68C767 341.42 767.39 342.19 767.76 342.96C768.13 343.73 768.48 344.52 768.82 345.3C769.17 346.09 769.49 346.88 769.81 347.68C770.13 348.47 770.44 349.27 770.74 350.07C771.04 350.86 771.33 351.66 771.61 352.46C771.9 353.26 772.17 354.05 772.44 354.85C772.71 355.65 772.97 356.45 773.23 357.25C773.48 358.05 773.73 358.85 773.97 359.65C774.22 360.46 774.45 361.26 774.69 362.06C774.92 362.86 775.14 363.67 775.36 364.47C775.59 365.27 775.8 366.08 776.01 366.88C776.23 367.69 776.43 368.49 776.64 369.3C776.84 370.1 777.04 370.91 777.24 371.72C777.44 372.53 777.63 373.33 777.82 374.14C778.02 374.95 778.21 375.76 778.39 376.57C778.58 377.38 778.77 378.19 778.95 379C779.13 379.81 779.31 380.63 779.49 381.44C779.67 382.25 779.84 383.06 780.01 383.88C780.19 384.69 780.36 385.5 780.53 386.32C780.69 387.13 780.86 387.95 781.02 388.76C781.19 389.58 781.35 390.4 781.51 391.21C781.67 392.03 781.83 392.85 781.98 393.66C782.14 394.48 782.29 395.3 782.44 396.12C782.59 396.94 782.74 397.76 782.89 398.58C783.04 399.4 783.18 400.22 783.33 401.04C783.47 401.86 783.61 402.68 783.75 403.5C783.89 404.32 784.03 405.15 784.17 405.97C784.3 406.79 784.44 407.61 784.57 408.44C784.7 409.26 784.83 410.08 784.96 410.91C785.09 411.73 785.22 412.56 785.34 413.38C785.47 414.21 785.59 415.03 785.72 415.86C785.84 416.69 785.96 417.51 786.08 418.34C786.2 419.16 786.31 419.99 786.43 420.82C786.55 421.65 786.66 422.47 786.77 423.3C786.89 424.13 787 424.96 787.11 425.79C787.22 426.62 787.33 427.44 787.44 428.27C787.54 429.1 787.65 429.93 787.76 430.76C787.86 431.59 787.96 432.42 788.07 433.25C788.17 434.08 788.27 434.91 788.37 435.75C788.47 436.58 788.57 437.41 788.67 438.24C788.76 439.07 788.86 439.9 788.96 440.73C789.05 441.57 789.15 442.4 789.24 443.23C789.33 444.06 789.43 444.9 789.52 445.73C789.61 446.56 789.7 447.39 789.79 448.23C789.88 449.06 789.97 449.89 790.05 450.73C790.14 451.56 790.23 452.39 790.31 453.23C790.4 454.06 790.49 454.9 790.57 455.73C790.65 456.56 790.74 457.4 790.82 458.23C790.9 459.07 790.99 459.9 791.07 460.74C791.15 461.57 791.23 462.41 791.31 463.24C791.39 464.08 791.47 464.91 791.55 465.75C791.63 466.58 791.71 467.42 791.79 468.25C791.86 469.09 791.94 469.92 792.02 470.76C792.1 471.59 792.17 472.43 792.25 473.26C792.32 474.1 792.4 474.93 792.48 475.77C792.55 476.6 792.63 477.44 792.7 478.27C792.78 479.11 792.85 479.95 792.92 480.78C793 481.62 793.07 482.45 793.15 483.29C793.22 484.12 793.29 484.96 793.37 485.79C793.44 486.63 793.52 487.46 793.59 488.3C793.66 489.13 793.74 489.97 793.81 490.8C793.88 491.64 793.95 492.47 794.03 493.31C794.1 494.14 794.17 494.98 794.25 495.81C794.32 496.65 794.39 497.48 794.47 498.32C794.54 499.15 794.62 499.99 794.69 500.82C794.76 501.65 794.84 502.49 794.91 503.32C794.99 504.16 795.06 504.99 795.13 505.82C795.21 506.66 795.28 507.49 795.36 508.32C795.44 509.16 795.51 509.99 795.59 510.82C795.66 511.66 795.74 512.49 795.82 513.32C795.89 514.15 795.97 514.99 796.05 515.82C796.13 516.65 796.2 517.48 796.28 518.31C796.36 519.15 796.44 519.98 796.52 520.81C796.6 521.64 796.68 522.47 796.76 523.3C796.85 524.13 796.93 524.96 797.01 525.79C797.09 526.62 797.18 527.45 797.26 528.28C797.34 529.11 797.43 529.94 797.51 530.77C797.6 531.6 797.69 532.43 797.77 533.26C797.86 534.08 797.95 534.91 798.04 535.74C798.13 536.57 798.22 537.39 798.31 538.22C798.4 539.05 798.49 539.87 798.59 540.7C798.68 541.53 798.77 542.35 798.87 543.18C798.96 544 799.06 544.83 799.16 545.65C799.25 546.48 799.4 547.71 799.45 548.13" stroke="#000000"/>
<path d="M495.86 547.17C495.89 546.74 495.98 545.46 496.04 544.6C496.1 543.75 496.16 542.89 496.22 542.04C496.28 541.19 496.34 540.34 496.4 539.49C496.46 538.64 496.52 537.79 496.58 536.94C496.64 536.09 496.71 535.25 496.77 534.4C496.83 533.56 496.89 532.72 496.95 531.87C497.02 531.03 497.08 530.19 497.14 529.35C497.2 528.51 497.27 527.67 497.33 526.83C497.4 525.99 497.46 525.16 497.52 524.32C497.59 523.48 497.65 522.65 497.72 521.81C497.79 520.98 497.85 520.15 497.92 519.31C497.98 518.48 498.05 517.65 498.12 516.82C498.18 515.99 498.25 515.16 498.32 514.33C498.39 513.5 498.46 512.67 498.52 511.84C498.59 511.01 498.66 510.18 498.73 509.35C498.8 508.53 498.87 507.7 498.94 506.87C499.01 506.05 499.08 505.22 499.15 504.4C499.23 503.57 499.3 502.74 499.37 501.92C499.44 501.09 499.51 500.27 499.59 499.45C499.66 498.62 499.73 497.8 499.81 496.97C499.88 496.15 499.96 495.33 500.03 494.5C500.11 493.68 500.18 492.86 500.26 492.04C500.34 491.21 500.41 490.39 500.49 489.57C500.57 488.74 500.64 487.92 500.72 487.1C500.8 486.28 500.88 485.45 500.96 484.63C501.04 483.81 501.12 482.98 501.2 482.16C501.28 481.34 501.36 480.51 501.44 479.69C501.52 478.87 501.6 478.04 501.69 477.22C501.77 476.39 501.85 475.57 501.94 474.75C502.02 473.92 502.11 473.1 502.19 472.27C502.28 471.45 502.36 470.62 502.45 469.79C502.53 468.97 502.62 468.14 502.71 467.31C502.79 466.49 502.88 465.66 502.97 464.83C503.06 464 503.15 463.17 503.24 462.34C503.33 461.51 503.42 460.68 503.51 459.85C503.6 459.02 503.69 458.19 503.79 457.35C503.88 456.52 503.97 455.69 504.07 454.85C504.16 454.02 504.25 453.18 504.35 452.35C504.44 451.51 504.54 450.68 504.64 449.84C504.73 449 504.83 448.16 504.93 447.32C505.02 446.48 505.12 445.64 505.22 444.8C505.32 443.95 505.42 443.11 505.52 442.27C505.62 441.42 505.72 440.58 505.83 439.73C505.93 438.88 506.03 438.03 506.13 437.19C506.24 436.34 506.34 435.49 506.45 434.63C506.55 433.78 506.66 432.93 506.77 432.07C506.87 431.22 506.98 430.37 507.1 429.51C507.21 428.66 507.33 427.81 507.45 426.96C507.57 426.1 507.7 425.25 507.83 424.41C507.96 423.56 508.1 422.71 508.25 421.87C508.39 421.03 508.54 420.19 508.71 419.35C508.87 418.52 509.04 417.68 509.21 416.86C509.39 416.03 509.58 415.21 509.78 414.39C509.98 413.57 510.19 412.76 510.41 411.96C510.63 411.15 510.86 410.36 511.11 409.56C511.36 408.77 511.62 407.99 511.89 407.21C512.17 406.44 512.45 405.67 512.76 404.91C513.06 404.16 513.38 403.41 513.72 402.67C514.06 401.93 514.41 401.2 514.78 400.48C515.15 399.76 515.54 399.05 515.95 398.36C516.36 397.66 516.79 396.97 517.24 396.3C517.69 395.63 518.15 394.97 518.65 394.32C519.14 393.67 519.65 393.04 520.19 392.42C520.72 391.8 521.28 391.2 521.86 390.61C522.45 390.02 523.05 389.44 523.68 388.88C524.32 388.32 524.97 387.77 525.66 387.25C526.34 386.72 527.06 386.2 527.79 385.73C528.52 385.25 529.28 384.79 530.04 384.41C530.8 384.04 531.58 383.69 532.36 383.46C533.14 383.22 533.92 383.05 534.69 383.01C535.47 382.96 536.24 383.03 536.99 383.2C537.74 383.37 538.48 383.66 539.21 384.03C539.93 384.39 540.64 384.86 541.33 385.37C542.02 385.88 542.69 386.48 543.34 387.1C543.99 387.72 544.62 388.41 545.22 389.09C545.81 389.78 546.39 390.5 546.93 391.21C547.48 391.92 548 392.64 548.49 393.35C548.98 394.07 549.45 394.79 549.89 395.52C550.34 396.24 550.76 396.97 551.16 397.7C551.57 398.43 551.95 399.17 552.32 399.91C552.69 400.64 553.04 401.38 553.38 402.13C553.72 402.87 554.04 403.62 554.36 404.37C554.67 405.12 554.98 405.87 555.28 406.63C555.57 407.38 555.86 408.14 556.15 408.91C556.44 409.67 556.72 410.43 557 411.2C557.28 411.97 557.56 412.74 557.84 413.52C558.13 414.29 558.41 415.07 558.69 415.85C558.98 416.63 559.27 417.41 559.56 418.19C559.85 418.97 560.15 419.76 560.45 420.54C560.75 421.32 561.06 422.11 561.38 422.89C561.69 423.67 562.02 424.46 562.35 425.24C562.68 426.02 563.02 426.8 563.38 427.58C563.73 428.36 564.09 429.13 564.47 429.91C564.85 430.68 565.23 431.45 565.64 432.22C566.04 432.98 566.45 433.76 566.89 434.51C567.32 435.25 567.76 436.03 568.26 436.7C568.75 437.37 569.27 438.03 569.86 438.53C570.45 439.03 571.09 439.48 571.82 439.71C572.55 439.94 573.38 440 574.25 439.93C575.13 439.87 576.15 439.51 577.08 439.31C578.01 439.1 579.01 438.71 579.81 438.69C580.62 438.66 581.33 438.79 581.91 439.17C582.49 439.55 582.86 440.32 583.27 440.97C583.68 441.62 584.03 442.36 584.38 443.07C584.73 443.79 585.06 444.51 585.37 445.25C585.68 445.99 585.96 446.74 586.23 447.5C586.5 448.26 586.75 449.03 586.99 449.81C587.23 450.58 587.44 451.37 587.65 452.17C587.85 452.97 588.04 453.77 588.21 454.58C588.39 455.4 588.55 456.21 588.7 457.04C588.86 457.86 588.99 458.7 589.12 459.53C589.26 460.37 589.37 461.21 589.49 462.05C589.6 462.9 589.7 463.75 589.8 464.6C589.9 465.45 589.99 466.3 590.08 467.16C590.17 468.01 590.25 468.87 590.33 469.73C590.41 470.59 590.48 471.45 590.56 472.3C590.64 473.16 590.71 474.02 590.79 474.88C590.86 475.73 590.94 476.59 591.01 477.44C591.09 478.29 591.17 479.14 591.26 479.99C591.34 480.83 591.43 481.67 591.52 482.51C591.62 483.35 591.71 484.18 591.82 485C591.93 485.83 592.04 486.65 592.16 487.46C592.29 488.28 592.42 489.08 592.56 489.88C592.7 490.68 592.86 491.47 593.02 492.26C593.17 493.05 593.34 493.83 593.5 494.62C593.67 495.4 593.83 496.19 594 496.98C594.16 497.77 594.33 498.56 594.48 499.36C594.63 500.17 594.79 500.98 594.92 501.8C595.06 502.62 595.19 503.45 595.31 504.3C595.42 505.15 595.52 506.02 595.6 506.9C595.69 507.79 595.74 508.7 595.81 509.6C595.88 510.51 595.93 511.44 596.01 512.35C596.1 513.25 596.19 514.17 596.35 515.05C596.5 515.93 596.67 516.8 596.92 517.62C597.18 518.44 597.48 519.26 597.87 519.98C598.26 520.71 598.78 521.53 599.27 521.95C599.76 522.38 600.33 522.67 600.82 522.52C601.31 522.37 601.75 521.67 602.19 521.05C602.63 520.43 603.05 519.55 603.46 518.79C603.88 518.04 604.28 517.27 604.68 516.51C605.08 515.75 605.48 514.99 605.87 514.23C606.25 513.47 606.63 512.72 607.01 511.96C607.39 511.2 607.76 510.44 608.12 509.68C608.49 508.92 608.85 508.17 609.21 507.41C609.56 506.65 609.91 505.89 610.26 505.14C610.61 504.38 610.95 503.62 611.29 502.87C611.63 502.11 611.97 501.35 612.3 500.6C612.64 499.84 612.97 499.08 613.3 498.32C613.63 497.57 613.95 496.81 614.28 496.05C614.6 495.29 614.93 494.54 615.25 493.78C615.57 493.02 615.89 492.26 616.21 491.5C616.53 490.74 616.85 489.98 617.17 489.22C617.49 488.46 617.81 487.7 618.13 486.94C618.45 486.18 618.76 485.42 619.09 484.66C619.41 483.89 619.73 483.13 620.05 482.37C620.37 481.6 620.7 480.84 621.03 480.07C621.35 479.31 621.68 478.54 622.01 477.78C622.34 477.01 622.68 476.24 623.01 475.47C623.35 474.7 623.69 473.93 624.03 473.17C624.38 472.4 624.72 471.63 625.07 470.86C625.43 470.09 625.78 469.32 626.14 468.56C626.5 467.79 626.86 467.03 627.22 466.27C627.59 465.5 627.96 464.74 628.34 463.98C628.71 463.23 629.09 462.47 629.48 461.72C629.87 460.96 630.26 460.21 630.66 459.47C631.05 458.72 631.46 457.98 631.86 457.24C632.27 456.5 632.69 455.77 633.11 455.04C633.53 454.31 633.96 453.59 634.39 452.87C634.83 452.15 635.27 451.44 635.71 450.73C636.16 450.02 636.62 449.32 637.08 448.63C637.54 447.93 638.01 447.24 638.49 446.56C638.97 445.88 639.45 445.21 639.95 444.54C640.44 443.87 640.95 443.22 641.46 442.57C641.97 441.92 642.49 441.27 643.02 440.64C643.55 440.01 644.08 439.39 644.63 438.77C645.18 438.16 645.73 437.55 646.3 436.96C646.87 436.36 647.44 435.78 648.03 435.21C648.62 434.63 649.21 434.07 649.82 433.52C650.43 432.97 651.04 432.43 651.67 431.9C652.3 431.37 652.94 430.85 653.59 430.35C654.24 429.84 654.9 429.35 655.58 428.87C656.25 428.4 656.94 427.93 657.63 427.48C658.33 427.03 659.04 426.59 659.76 426.16C660.48 425.73 661.21 425.32 661.95 424.91C662.68 424.51 663.43 424.11 664.18 423.72C664.93 423.33 665.69 422.95 666.45 422.57C667.21 422.19 667.98 421.82 668.74 421.44C669.51 421.07 670.28 420.7 671.04 420.33C671.81 419.95 672.58 419.58 673.34 419.2C674.1 418.83 674.86 418.45 675.61 418.07C676.37 417.68 677.12 417.29 677.86 416.89C678.6 416.5 679.34 416.09 680.06 415.68C680.79 415.26 681.5 414.83 682.21 414.39C682.91 413.95 683.6 413.5 684.28 413.04C684.96 412.57 685.62 412.09 686.27 411.59C686.92 411.09 687.55 410.57 688.17 410.03C688.78 409.5 689.38 408.94 689.97 408.37C690.55 407.81 691.12 407.22 691.68 406.62C692.24 406.02 692.78 405.4 693.31 404.78C693.84 404.15 694.35 403.5 694.86 402.85C695.37 402.2 695.86 401.53 696.34 400.85C696.83 400.18 697.3 399.49 697.76 398.79C698.22 398.09 698.68 397.39 699.12 396.67C699.56 395.96 700 395.23 700.43 394.5C700.86 393.77 701.28 393.03 701.69 392.29C702.11 391.55 702.52 390.8 702.92 390.05C703.32 389.3 703.72 388.54 704.11 387.78C704.51 387.02 704.9 386.25 705.28 385.49C705.67 384.73 706.05 383.96 706.43 383.19C706.81 382.43 707.19 381.66 707.57 380.89C707.95 380.13 708.32 379.36 708.7 378.6C709.08 377.84 709.45 377.08 709.83 376.32C710.21 375.56 710.58 374.8 710.96 374.05C711.33 373.29 711.71 372.54 712.09 371.79C712.47 371.04 712.84 370.29 713.22 369.54C713.6 368.8 713.98 368.05 714.36 367.31C714.74 366.57 715.13 365.83 715.51 365.09C715.89 364.35 716.28 363.61 716.66 362.87C717.05 362.14 717.44 361.41 717.83 360.67C718.22 359.94 718.61 359.21 719 358.48C719.4 357.75 719.79 357.03 720.19 356.3C720.59 355.58 720.99 354.86 721.39 354.13C721.79 353.41 722.2 352.69 722.61 351.98C723.02 351.26 723.43 350.54 723.84 349.83C724.26 349.11 724.67 348.4 725.1 347.69C725.52 346.98 725.94 346.27 726.37 345.56C726.8 344.85 727.23 344.15 727.66 343.44C728.1 342.74 728.54 342.03 728.98 341.33C729.42 340.63 729.87 339.93 730.32 339.23C730.77 338.53 731.23 337.84 731.69 337.14C732.15 336.45 732.61 335.75 733.08 335.06C733.55 334.37 734.03 333.67 734.51 332.99C734.99 332.3 735.47 331.61 735.96 330.92C736.45 330.23 736.95 329.55 737.45 328.86C737.95 328.18 738.45 327.49 738.97 326.82C739.49 326.15 740.02 325.48 740.57 324.84C741.11 324.2 741.67 323.57 742.26 322.97C742.85 322.38 743.45 321.8 744.09 321.27C744.73 320.74 745.39 320.24 746.1 319.8C746.8 319.35 747.53 318.94 748.31 318.59C749.09 318.25 749.92 317.94 750.77 317.72C751.61 317.5 752.53 317.33 753.38 317.28C754.24 317.23 755.09 317.27 755.9 317.42C756.7 317.56 757.47 317.83 758.2 318.16C758.94 318.49 759.64 318.92 760.31 319.39C760.99 319.86 761.63 320.41 762.26 320.99C762.88 321.56 763.47 322.2 764.05 322.83C764.63 323.47 765.18 324.14 765.72 324.8C766.26 325.47 766.78 326.15 767.29 326.83C767.79 327.51 768.28 328.2 768.75 328.9C769.23 329.6 769.68 330.3 770.13 331.02C770.57 331.73 770.99 332.45 771.41 333.17C771.82 333.9 772.22 334.63 772.6 335.36C772.99 336.1 773.36 336.84 773.72 337.59C774.08 338.34 774.42 339.09 774.76 339.85C775.09 340.61 775.41 341.38 775.73 342.14C776.04 342.91 776.34 343.69 776.63 344.46C776.92 345.24 777.2 346.02 777.47 346.81C777.74 347.6 778 348.39 778.25 349.18C778.51 349.97 778.75 350.77 778.99 351.57C779.23 352.37 779.45 353.17 779.68 353.98C779.9 354.78 780.11 355.59 780.32 356.4C780.53 357.21 780.73 358.02 780.93 358.84C781.13 359.65 781.32 360.47 781.51 361.29C781.69 362.1 781.87 362.92 782.05 363.74C782.23 364.56 782.41 365.38 782.58 366.2C782.75 367.03 782.92 367.85 783.09 368.67C783.26 369.49 783.42 370.32 783.58 371.14C783.75 371.96 783.91 372.78 784.07 373.61C784.22 374.43 784.38 375.25 784.53 376.08C784.69 376.9 784.84 377.73 784.99 378.55C785.14 379.37 785.29 380.2 785.43 381.02C785.58 381.85 785.72 382.67 785.87 383.5C786.01 384.32 786.15 385.15 786.29 385.98C786.43 386.8 786.56 387.63 786.7 388.45C786.83 389.28 786.96 390.1 787.09 390.93C787.23 391.76 787.35 392.58 787.48 393.41C787.61 394.24 787.73 395.06 787.86 395.89C787.98 396.72 788.1 397.55 788.22 398.37C788.35 399.2 788.46 400.03 788.58 400.86C788.7 401.69 788.81 402.51 788.93 403.34C789.04 404.17 789.16 405 789.27 405.83C789.38 406.66 789.49 407.49 789.6 408.31C789.7 409.14 789.81 409.97 789.92 410.8C790.02 411.63 790.13 412.46 790.23 413.29C790.33 414.12 790.43 414.95 790.53 415.78C790.63 416.61 790.73 417.44 790.83 418.27C790.93 419.1 791.02 419.93 791.12 420.76C791.21 421.59 791.31 422.42 791.4 423.25C791.49 424.08 791.58 424.91 791.67 425.75C791.76 426.58 791.85 427.41 791.94 428.24C792.03 429.07 792.12 429.9 792.2 430.73C792.29 431.56 792.38 432.4 792.46 433.23C792.55 434.06 792.63 434.89 792.71 435.72C792.79 436.55 792.88 437.39 792.96 438.22C793.04 439.05 793.12 439.88 793.2 440.72C793.28 441.55 793.36 442.38 793.43 443.21C793.51 444.05 793.59 444.88 793.66 445.71C793.74 446.54 793.82 447.38 793.89 448.21C793.97 449.04 794.04 449.87 794.12 450.71C794.19 451.54 794.26 452.37 794.34 453.21C794.41 454.04 794.48 454.87 794.55 455.71C794.62 456.54 794.7 457.37 794.77 458.21C794.84 459.04 794.91 459.87 794.98 460.71C795.05 461.54 795.12 462.37 795.19 463.21C795.26 464.04 795.33 464.87 795.39 465.71C795.46 466.54 795.53 467.38 795.6 468.21C795.67 469.04 795.74 469.88 795.8 470.71C795.87 471.54 795.94 472.38 796.01 473.21C796.07 474.05 796.14 474.88 796.21 475.71C796.28 476.55 796.34 477.38 796.41 478.22C796.48 479.05 796.55 479.88 796.61 480.72C796.68 481.55 796.75 482.39 796.81 483.22C796.88 484.05 796.95 484.89 797.02 485.72C797.08 486.55 797.15 487.39 797.22 488.22C797.29 489.06 797.36 489.89 797.42 490.72C797.49 491.56 797.56 492.39 797.63 493.23C797.7 494.06 797.77 494.89 797.84 495.73C797.91 496.56 797.98 497.4 798.05 498.23C798.12 499.06 798.19 499.9 798.26 500.73C798.33 501.56 798.4 502.4 798.47 503.23C798.54 504.06 798.62 504.9 798.69 505.73C798.76 506.57 798.83 507.4 798.91 508.23C798.98 509.07 799.06 509.9 799.13 510.73C799.21 511.57 799.28 512.4 799.36 513.23C799.44 514.07 799.51 514.9 799.59 515.73C799.67 516.57 799.75 517.4 799.83 518.23C799.91 519.06 799.99 519.9 800.07 520.73C800.15 521.56 800.23 522.4 800.31 523.23C800.4 524.06 800.48 524.89 800.56 525.73C800.65 526.56 800.73 527.39 800.82 528.22C800.91 529.05 800.99 529.89 801.08 530.72C801.17 531.55 801.26 532.38 801.35 533.21C801.44 534.05 801.53 534.88 801.63 535.71C801.72 536.54 801.81 537.37 801.91 538.2C802 539.04 802.1 539.87 802.2 540.7C802.29 541.53 802.39 542.36 802.49 543.19C802.59 544.02 802.7 544.85 802.8 545.68C802.9 546.51 803.06 547.76 803.11 548.18" stroke="#9db0ff"/>
<path d="M493.8 546.98C493.85 546.57 493.98 545.34 494.06 544.52C494.15 543.69 494.24 542.87 494.32 542.05C494.4 541.22 494.49 540.4 494.57 539.57C494.65 538.74 494.73 537.92 494.81 537.09C494.9 536.26 494.97 535.44 495.05 534.61C495.13 533.78 495.21 532.95 495.29 532.12C495.37 531.29 495.44 530.46 495.52 529.63C495.59 528.8 495.67 527.97 495.74 527.13C495.82 526.3 495.89 525.47 495.97 524.64C496.04 523.8 496.11 522.97 496.19 522.14C496.26 521.3 496.33 520.47 496.4 519.63C496.48 518.8 496.55 517.96 496.62 517.13C496.69 516.29 496.76 515.46 496.83 514.62C496.9 513.78 496.97 512.95 497.04 512.11C497.11 511.27 497.18 510.44 497.25 509.6C497.32 508.76 497.39 507.92 497.46 507.09C497.53 506.25 497.59 505.41 497.66 504.57C497.73 503.73 497.8 502.9 497.87 502.06C497.94 501.22 498.01 500.38 498.08 499.54C498.15 498.7 498.22 497.87 498.29 497.03C498.35 496.19 498.42 495.35 498.49 494.51C498.56 493.67 498.63 492.83 498.7 491.99C498.77 491.16 498.84 490.32 498.92 489.48C498.99 488.64 499.06 487.8 499.13 486.96C499.2 486.12 499.27 485.29 499.35 484.45C499.42 483.61 499.49 482.77 499.56 481.93C499.64 481.1 499.71 480.26 499.79 479.42C499.86 478.58 499.94 477.75 500.01 476.91C500.09 476.07 500.17 475.24 500.24 474.4C500.32 473.56 500.4 472.73 500.48 471.89C500.56 471.06 500.63 470.22 500.72 469.38C500.8 468.55 500.88 467.72 500.96 466.88C501.04 466.05 501.12 465.21 501.21 464.38C501.29 463.55 501.38 462.71 501.46 461.88C501.55 461.05 501.64 460.22 501.73 459.38C501.81 458.55 501.9 457.72 501.99 456.89C502.08 456.06 502.18 455.23 502.27 454.4C502.36 453.57 502.46 452.74 502.55 451.92C502.65 451.09 502.74 450.26 502.84 449.43C502.94 448.61 503.04 447.78 503.14 446.96C503.24 446.13 503.34 445.31 503.45 444.48C503.55 443.66 503.66 442.84 503.76 442.01C503.87 441.19 503.98 440.37 504.09 439.55C504.2 438.73 504.31 437.91 504.42 437.09C504.53 436.27 504.65 435.45 504.77 434.64C504.88 433.82 505 433 505.12 432.19C505.24 431.37 505.37 430.56 505.49 429.74C505.62 428.93 505.75 428.12 505.89 427.3C506.02 426.49 506.16 425.68 506.31 424.86C506.45 424.05 506.6 423.24 506.75 422.42C506.91 421.61 507.07 420.8 507.24 419.99C507.4 419.17 507.58 418.36 507.76 417.55C507.94 416.73 508.13 415.92 508.32 415.11C508.52 414.29 508.72 413.48 508.94 412.66C509.15 411.85 509.37 411.03 509.6 410.21C509.84 409.4 510.08 408.58 510.33 407.76C510.58 406.94 510.84 406.12 511.11 405.3C511.39 404.48 511.67 403.65 511.97 402.83C512.27 402.01 512.57 401.18 512.9 400.36C513.22 399.54 513.55 398.72 513.91 397.91C514.27 397.11 514.64 396.31 515.04 395.54C515.43 394.76 515.85 394 516.29 393.27C516.73 392.53 517.2 391.82 517.69 391.14C518.19 390.47 518.71 389.82 519.26 389.21C519.82 388.61 520.4 388.03 521.02 387.51C521.64 386.99 522.3 386.51 522.99 386.08C523.68 385.66 524.42 385.28 525.18 384.96C525.93 384.65 526.73 384.39 527.52 384.19C528.31 384 529.13 383.86 529.94 383.8C530.74 383.73 531.56 383.73 532.35 383.81C533.14 383.89 533.92 384.03 534.67 384.26C535.41 384.49 536.13 384.8 536.81 385.19C537.49 385.57 538.13 386.04 538.74 386.55C539.36 387.07 539.94 387.66 540.5 388.29C541.05 388.92 541.58 389.61 542.09 390.32C542.6 391.03 543.08 391.79 543.54 392.56C544.01 393.33 544.45 394.13 544.89 394.94C545.32 395.74 545.73 396.56 546.14 397.37C546.54 398.17 546.93 398.98 547.32 399.78C547.7 400.58 548.08 401.37 548.45 402.15C548.81 402.93 549.17 403.71 549.52 404.48C549.87 405.25 550.21 406.02 550.54 406.79C550.87 407.55 551.19 408.31 551.51 409.07C551.83 409.83 552.14 410.58 552.44 411.34C552.74 412.09 553.04 412.84 553.33 413.6C553.62 414.35 553.9 415.1 554.18 415.86C554.45 416.61 554.72 417.37 554.99 418.13C555.25 418.89 555.51 419.65 555.77 420.42C556.02 421.18 556.27 421.95 556.52 422.73C556.77 423.5 557.01 424.28 557.24 425.07C557.48 425.86 557.71 426.65 557.95 427.45C558.18 428.25 558.41 429.05 558.64 429.86C558.87 430.67 559.1 431.49 559.33 432.3C559.57 433.12 559.8 433.94 560.05 434.75C560.29 435.57 560.54 436.39 560.8 437.21C561.05 438.03 561.32 438.85 561.6 439.66C561.87 440.48 562.16 441.29 562.46 442.1C562.77 442.91 563.08 443.71 563.41 444.51C563.75 445.31 564.09 446.1 564.46 446.89C564.83 447.67 565.21 448.46 565.62 449.22C566.03 449.97 566.44 450.81 566.93 451.43C567.41 452.05 567.92 452.68 568.53 452.94C569.15 453.2 569.91 453.21 570.61 453C571.31 452.8 572.13 452.26 572.76 451.7C573.38 451.14 573.88 450.39 574.38 449.65C574.88 448.92 575.26 448.07 575.76 447.3C576.26 446.53 576.8 445.71 577.4 445.03C578 444.34 578.68 443.67 579.33 443.18C579.98 442.7 580.69 442.28 581.3 442.1C581.92 441.93 582.52 441.92 583.04 442.12C583.55 442.32 584 442.77 584.4 443.31C584.81 443.85 585.15 444.59 585.46 445.37C585.78 446.16 586.04 447.08 586.29 447.99C586.54 448.9 586.75 449.9 586.96 450.84C587.16 451.78 587.35 452.72 587.53 453.63C587.71 454.54 587.88 455.43 588.04 456.3C588.2 457.18 588.35 458.04 588.49 458.88C588.64 459.73 588.77 460.56 588.9 461.38C589.03 462.2 589.16 463.01 589.28 463.82C589.4 464.63 589.51 465.42 589.63 466.22C589.75 467.01 589.86 467.8 589.97 468.59C590.09 469.39 590.2 470.17 590.32 470.97C590.43 471.76 590.55 472.55 590.67 473.35C590.79 474.15 590.91 474.95 591.04 475.75C591.16 476.55 591.29 477.36 591.41 478.16C591.54 478.97 591.67 479.78 591.8 480.6C591.93 481.41 592.06 482.23 592.19 483.04C592.32 483.86 592.45 484.68 592.59 485.51C592.72 486.33 592.85 487.16 592.99 487.99C593.12 488.82 593.26 489.65 593.39 490.49C593.53 491.32 593.66 492.16 593.8 493C593.94 493.84 594.07 494.68 594.21 495.53C594.34 496.37 594.48 497.22 594.61 498.07C594.75 498.92 594.88 499.78 595.02 500.63C595.15 501.49 595.28 502.35 595.42 503.21C595.55 504.07 595.68 504.94 595.81 505.8C595.95 506.67 596.07 507.54 596.22 508.4C596.38 509.25 596.54 510.1 596.75 510.92C596.97 511.74 597.21 512.54 597.53 513.29C597.85 514.04 598.23 514.87 598.66 515.42C599.09 515.97 599.62 516.56 600.11 516.59C600.59 516.61 601.09 516.12 601.55 515.59C602.02 515.05 602.47 514.13 602.89 513.37C603.32 512.61 603.71 511.81 604.09 511.03C604.48 510.25 604.83 509.47 605.19 508.69C605.54 507.91 605.88 507.13 606.21 506.36C606.55 505.58 606.88 504.81 607.22 504.03C607.55 503.26 607.89 502.49 608.23 501.72C608.57 500.95 608.91 500.18 609.26 499.42C609.6 498.65 609.95 497.89 610.3 497.12C610.65 496.36 611 495.6 611.35 494.84C611.71 494.08 612.06 493.32 612.42 492.56C612.77 491.8 613.13 491.05 613.49 490.29C613.84 489.53 614.2 488.77 614.56 488.02C614.91 487.26 615.27 486.51 615.62 485.75C615.98 484.99 616.33 484.24 616.69 483.48C617.04 482.72 617.39 481.97 617.74 481.21C618.09 480.45 618.44 479.69 618.79 478.93C619.14 478.17 619.48 477.41 619.82 476.65C620.16 475.89 620.5 475.13 620.84 474.36C621.17 473.6 621.5 472.83 621.84 472.07C622.17 471.3 622.5 470.53 622.83 469.77C623.16 469 623.49 468.24 623.82 467.47C624.16 466.71 624.49 465.94 624.82 465.18C625.16 464.42 625.5 463.66 625.84 462.9C626.18 462.14 626.53 461.38 626.88 460.63C627.23 459.88 627.59 459.13 627.95 458.38C628.31 457.63 628.68 456.89 629.06 456.15C629.44 455.41 629.82 454.67 630.21 453.94C630.61 453.21 631.01 452.49 631.42 451.77C631.83 451.05 632.25 450.33 632.69 449.62C633.12 448.91 633.57 448.21 634.02 447.52C634.48 446.82 634.95 446.13 635.44 445.45C635.92 444.77 636.42 444.09 636.93 443.43C637.45 442.76 637.98 442.1 638.52 441.45C639.07 440.81 639.63 440.16 640.21 439.53C640.79 438.9 641.38 438.28 642 437.68C642.61 437.08 643.24 436.49 643.89 435.92C644.53 435.36 645.2 434.81 645.88 434.29C646.55 433.77 647.25 433.27 647.96 432.81C648.67 432.35 649.39 431.92 650.13 431.52C650.87 431.13 651.63 430.77 652.4 430.45C653.17 430.13 653.95 429.86 654.75 429.62C655.55 429.39 656.36 429.21 657.18 429.04C658 428.88 658.83 428.75 659.66 428.63C660.5 428.51 661.34 428.41 662.17 428.3C663.01 428.19 663.85 428.09 664.68 427.97C665.51 427.84 666.34 427.71 667.16 427.54C667.98 427.38 668.79 427.18 669.59 426.95C670.38 426.72 671.17 426.44 671.94 426.14C672.71 425.83 673.47 425.49 674.22 425.12C674.96 424.76 675.69 424.36 676.41 423.93C677.13 423.51 677.83 423.06 678.52 422.59C679.21 422.12 679.88 421.63 680.54 421.12C681.2 420.61 681.85 420.08 682.47 419.53C683.1 418.99 683.71 418.43 684.31 417.86C684.91 417.29 685.49 416.7 686.06 416.11C686.63 415.51 687.19 414.9 687.73 414.27C688.27 413.65 688.8 413.02 689.32 412.37C689.84 411.73 690.35 411.07 690.84 410.4C691.34 409.74 691.82 409.06 692.29 408.38C692.77 407.69 693.23 407 693.68 406.3C694.14 405.6 694.58 404.89 695.02 404.17C695.45 403.46 695.88 402.73 696.3 402.01C696.72 401.28 697.13 400.54 697.54 399.8C697.94 399.06 698.34 398.32 698.73 397.57C699.12 396.82 699.51 396.07 699.89 395.32C700.28 394.56 700.65 393.8 701.02 393.04C701.4 392.28 701.77 391.52 702.13 390.76C702.5 390 702.86 389.23 703.22 388.47C703.58 387.7 703.93 386.94 704.29 386.17C704.64 385.41 704.99 384.64 705.35 383.88C705.7 383.11 706.04 382.35 706.39 381.58C706.74 380.81 707.08 380.05 707.43 379.28C707.77 378.51 708.11 377.75 708.46 376.98C708.8 376.22 709.14 375.45 709.48 374.69C709.82 373.92 710.16 373.16 710.5 372.39C710.85 371.63 711.19 370.87 711.53 370.1C711.87 369.34 712.21 368.58 712.55 367.82C712.9 367.06 713.24 366.3 713.59 365.54C713.93 364.78 714.28 364.02 714.62 363.26C714.97 362.51 715.32 361.75 715.67 361C716.03 360.24 716.38 359.49 716.73 358.74C717.09 357.99 717.45 357.24 717.81 356.49C718.17 355.74 718.54 354.99 718.9 354.25C719.27 353.5 719.64 352.76 720.02 352.02C720.39 351.28 720.77 350.54 721.15 349.8C721.53 349.07 721.92 348.33 722.31 347.6C722.7 346.87 723.09 346.14 723.49 345.41C723.89 344.69 724.3 343.96 724.71 343.24C725.12 342.52 725.53 341.8 725.95 341.08C726.37 340.37 726.8 339.65 727.23 338.94C727.66 338.23 728.1 337.52 728.55 336.82C728.99 336.11 729.44 335.41 729.9 334.71C730.36 334.02 730.82 333.32 731.3 332.63C731.77 331.94 732.25 331.25 732.73 330.57C733.22 329.88 733.71 329.2 734.22 328.53C734.73 327.86 735.24 327.19 735.77 326.54C736.31 325.89 736.85 325.24 737.42 324.62C737.98 323.99 738.56 323.38 739.17 322.79C739.78 322.2 740.41 321.63 741.06 321.09C741.72 320.55 742.4 320.02 743.11 319.53C743.82 319.04 744.57 318.57 745.34 318.15C746.11 317.73 746.93 317.31 747.75 316.99C748.57 316.67 749.42 316.39 750.23 316.25C751.05 316.11 751.87 316.08 752.66 316.16C753.44 316.24 754.21 316.45 754.96 316.73C755.7 317.01 756.43 317.39 757.14 317.82C757.84 318.24 758.53 318.75 759.19 319.28C759.86 319.81 760.51 320.4 761.13 320.98C761.76 321.57 762.36 322.17 762.95 322.79C763.54 323.4 764.1 324.03 764.65 324.67C765.2 325.3 765.73 325.95 766.24 326.61C766.75 327.27 767.25 327.94 767.73 328.62C768.21 329.29 768.67 329.98 769.11 330.68C769.56 331.38 769.99 332.09 770.41 332.8C770.82 333.52 771.22 334.24 771.61 334.97C772 335.7 772.37 336.44 772.73 337.19C773.09 337.94 773.43 338.69 773.77 339.45C774.1 340.21 774.42 340.98 774.73 341.75C775.04 342.53 775.34 343.3 775.63 344.09C775.92 344.87 776.2 345.66 776.47 346.45C776.74 347.25 777 348.05 777.25 348.85C777.5 349.65 777.74 350.46 777.97 351.27C778.21 352.07 778.43 352.89 778.65 353.7C778.87 354.52 779.08 355.34 779.29 356.15C779.5 356.97 779.7 357.8 779.89 358.62C780.09 359.44 780.28 360.27 780.46 361.09C780.65 361.91 780.83 362.74 781.01 363.57C781.19 364.39 781.36 365.22 781.53 366.04C781.7 366.87 781.87 367.69 782.03 368.52C782.2 369.35 782.36 370.17 782.52 371C782.67 371.82 782.83 372.65 782.98 373.48C783.13 374.3 783.28 375.13 783.42 375.96C783.57 376.78 783.71 377.61 783.85 378.44C783.99 379.27 784.13 380.09 784.26 380.92C784.39 381.75 784.52 382.58 784.65 383.4C784.78 384.23 784.9 385.06 785.03 385.89C785.15 386.72 785.27 387.54 785.39 388.37C785.51 389.2 785.62 390.03 785.74 390.86C785.85 391.69 785.96 392.52 786.07 393.34C786.18 394.17 786.29 395 786.39 395.83C786.49 396.66 786.6 397.49 786.7 398.32C786.8 399.15 786.9 399.98 786.99 400.81C787.09 401.64 787.19 402.47 787.28 403.3C787.37 404.13 787.47 404.95 787.56 405.78C787.65 406.61 787.74 407.44 787.82 408.28C787.91 409.11 788 409.94 788.08 410.77C788.16 411.6 788.25 412.43 788.33 413.26C788.41 414.09 788.49 414.92 788.57 415.75C788.65 416.58 788.73 417.41 788.81 418.24C788.88 419.07 788.96 419.9 789.04 420.74C789.11 421.57 789.19 422.4 789.26 423.23C789.34 424.06 789.41 424.89 789.48 425.72C789.56 426.55 789.63 427.39 789.7 428.22C789.77 429.05 789.84 429.88 789.91 430.71C789.98 431.54 790.05 432.38 790.12 433.21C790.19 434.04 790.26 434.87 790.33 435.7C790.4 436.54 790.47 437.37 790.54 438.2C790.61 439.03 790.68 439.86 790.75 440.7C790.82 441.53 790.89 442.36 790.96 443.19C791.03 444.03 791.1 444.86 791.17 445.69C791.24 446.52 791.31 447.36 791.39 448.19C791.46 449.02 791.53 449.85 791.6 450.69C791.67 451.52 791.75 452.35 791.82 453.18C791.9 454.02 791.97 454.85 792.04 455.68C792.12 456.52 792.2 457.35 792.27 458.18C792.35 459.02 792.43 459.85 792.51 460.68C792.59 461.51 792.67 462.35 792.75 463.18C792.83 464.01 792.91 464.85 793 465.68C793.08 466.51 793.16 467.35 793.25 468.18C793.33 469.01 793.42 469.85 793.51 470.68C793.6 471.51 793.68 472.35 793.77 473.18C793.86 474.01 793.95 474.85 794.04 475.68C794.13 476.51 794.22 477.35 794.32 478.18C794.41 479.01 794.5 479.85 794.59 480.68C794.68 481.51 794.78 482.35 794.87 483.18C794.96 484.01 795.06 484.85 795.15 485.68C795.25 486.51 795.34 487.35 795.43 488.18C795.53 489.01 795.62 489.85 795.72 490.68C795.81 491.51 795.91 492.35 796 493.18C796.09 494.01 796.19 494.85 796.28 495.68C796.38 496.52 796.47 497.35 796.56 498.18C796.66 499.02 796.75 499.85 796.84 500.68C796.93 501.52 797.03 502.35 797.12 503.18C797.21 504.02 797.3 504.85 797.39 505.68C797.48 506.52 797.57 507.35 797.66 508.19C797.75 509.02 797.84 509.85 797.92 510.69C798.01 511.52 798.1 512.35 798.18 513.19C798.27 514.02 798.35 514.85 798.44 515.69C798.52 516.52 798.6 517.35 798.69 518.19C798.77 519.02 798.85 519.86 798.93 520.69C799 521.52 799.08 522.36 799.16 523.19C799.23 524.02 799.31 524.86 799.38 525.69C799.46 526.52 799.53 527.36 799.6 528.19C799.67 529.02 799.74 529.86 799.8 530.69C799.87 531.52 799.94 532.36 800 533.19C800.06 534.03 800.12 534.86 800.18 535.69C800.24 536.53 800.3 537.36 800.36 538.19C800.41 539.03 800.46 539.86 800.52 540.69C800.57 541.53 800.62 542.36 800.66 543.19C800.71 544.03 800.76 544.86 800.8 545.69C800.84 546.52 800.9 547.77 800.92 548.19" stroke="#ff9c9c"/>
</g>
<path d="M506.04 536.5v-7.4M506.04 306.8v7.4M552.13 536.5v-7.4M552.13 306.8v7.4M598.21 536.5v-7.4M598.21 306.8v7.4M644.3 536.5v-7.4M644.3 306.8v7.4M690.39 536.5v-7.4M690.39 306.8v7.4M736.47 536.5v-7.4M736.47 306.8v7.4M782.56 536.5v-7.4M782.56 306.8v7.4M529.09 536.5v-3.8M529.09 306.8v3.8M575.17 536.5v-3.8M575.17 306.8v3.8M621.26 536.5v-3.8M621.26 306.8v3.8M667.34 536.5v-3.8M667.34 306.8v3.8M713.43 536.5v-3.8M713.43 306.8v3.8M759.51 536.5v-3.8M759.51 306.8v3.8M483 513.53h7.4M805.6 513.53h-7.4M483 398.68h7.4M805.6 398.68h-7.4M483 531.32h3.8M805.6 531.32h-3.8M483 524.66h3.8M805.6 524.66h-3.8M483 518.79h3.8M805.6 518.79h-3.8M483 478.96h3.8M805.6 478.96h-3.8M483 458.73h3.8M805.6 458.73h-3.8M483 444.38h3.8M805.6 444.38h-3.8M483 433.25h3.8M805.6 433.25h-3.8M483 424.16h3.8M805.6 424.16h-3.8M483 416.47h3.8M805.6 416.47h-3.8M483 409.81h3.8M805.6 409.81h-3.8M483 403.94h3.8M805.6 403.94h-3.8M483 364.11h3.8M805.6 364.11h-3.8M483 343.88h3.8M805.6 343.88h-3.8M483 329.53h3.8M805.6 329.53h-3.8M483 318.4h3.8M805.6 318.4h-3.8M483 309.31h3.8M805.6 309.31h-3.8" stroke="#000" stroke-width="0.95" fill="none"/>
<rect x="483" y="306.8" width="322.6" height="229.7" fill="none" stroke="#000" stroke-width="1.5"/>
<text x="506.04" y="557.2" text-anchor="middle">10<tspan dy="-8" font-size="12.8">12</tspan></text>
<text x="552.13" y="557.2" text-anchor="middle">10<tspan dy="-8" font-size="12.8">14</tspan></text>
<text x="598.21" y="557.2" text-anchor="middle">10<tspan dy="-8" font-size="12.8">16</tspan></text>
<text x="644.3" y="557.2" text-anchor="middle">10<tspan dy="-8" font-size="12.8">18</tspan></text>
<text x="690.39" y="557.2" text-anchor="middle">10<tspan dy="-8" font-size="12.8">20</tspan></text>
<text x="736.47" y="557.2" text-anchor="middle">10<tspan dy="-8" font-size="12.8">22</tspan></text>
<text x="782.56" y="557.2" text-anchor="middle">10<tspan dy="-8" font-size="12.8">24</tspan></text>
<text x="474.9" y="520.53" text-anchor="end">10<tspan dy="-8" font-size="12.8">-12</tspan></text>
<text x="474.9" y="405.68" text-anchor="end">10<tspan dy="-8" font-size="12.8">-11</tspan></text>
</g>
<text transform="translate(25.2 131.5) rotate(-90)" text-anchor="middle">ν F<tspan dy="4.8" font-size="12.8">ν</tspan><tspan dy="-4.8"> (erg cm</tspan><tspan dy="-8" font-size="12.8">-2</tspan><tspan dy="8"> s</tspan><tspan dy="-8" font-size="12.8">-1</tspan><tspan dy="8">)</tspan></text>
<text transform="translate(432 131.5) rotate(-90)" text-anchor="middle">ν F<tspan dy="4.8" font-size="12.8">ν</tspan><tspan dy="-4.8"> (erg cm</tspan><tspan dy="-8" font-size="12.8">-2</tspan><tspan dy="8"> s</tspan><tspan dy="-8" font-size="12.8">-1</tspan><tspan dy="8">)</tspan></text>
<text transform="translate(432 421.7) rotate(-90)" text-anchor="middle">ν F<tspan dy="4.8" font-size="12.8">ν</tspan><tspan dy="-4.8"> (erg cm</tspan><tspan dy="-8" font-size="12.8">-2</tspan><tspan dy="8"> s</tspan><tspan dy="-8" font-size="12.8">-1</tspan><tspan dy="8">)</tspan></text>
<text transform="translate(33 419.6) rotate(-90)" text-anchor="middle">N (γ)</text>
<text x="237.2" y="285.6" text-anchor="middle">ν (Hz)</text>
<text x="644.2" y="285.6" text-anchor="middle">ν (Hz)</text>
<text x="644.3" y="575.5" text-anchor="middle">ν (Hz)</text>
<text x="241.5" y="575.5" text-anchor="middle">γ</text>
<text x="378.7" y="42" text-anchor="middle" font-size="20">(a)</text>
<text x="785.9" y="41.6" text-anchor="middle" font-size="20">(b)</text>
<text x="385.9" y="332.6" text-anchor="middle" font-size="20">(c)</text>
<text x="785.9" y="332.2" text-anchor="middle" font-size="20">(d)</text>
<text x="144.8" y="34.4" text-anchor="end">a=-3.8</text>
<path d="M154.8 28.8H200.8" stroke="#000" stroke-width="2.65" fill="none"/>
<text x="144.8" y="52.25" text-anchor="end">a=-3.7</text>
<path d="M154.8 46.65H200.8" stroke="#ffa3a3" stroke-width="2.65" fill="none"/>
<text x="144.8" y="70.1" text-anchor="end">a=-3.0</text>
<path d="M154.8 64.5H200.8" stroke="#ff5252" stroke-width="2.65" fill="none"/>
<text x="268.2" y="34.4" text-anchor="end">a=0.0</text>
<path d="M278.3 28.8H324.2" stroke="#d80000" stroke-width="2.65" fill="none"/>
<text x="268.2" y="52.25" text-anchor="end">a=3.8</text>
<path d="M278.3 46.65H324.2" stroke="#9c0000" stroke-width="2.65" fill="none"/>
<text x="565" y="35.9" text-anchor="end">D<tspan dy="4.8" font-size="12.8">0</tspan><tspan dy="-4.8">=2.0e-6</tspan></text>
<path d="M575 32.5H621" stroke="#000" stroke-width="2.65" fill="none"/>
<text x="565" y="53.4" text-anchor="end">D<tspan dy="4.8" font-size="12.8">0</tspan><tspan dy="-4.8">=2.5e-6</tspan></text>
<path d="M575 50H621" stroke="#9db8ff" stroke-width="2.65" fill="none"/>
<text x="707" y="35.9" text-anchor="end">D<tspan dy="4.8" font-size="12.8">0</tspan><tspan dy="-4.8">=7.0e-6</tspan></text>
<path d="M717.2 32.5H763.1" stroke="#4a7af0" stroke-width="2.65" fill="none"/>
<text x="707" y="53.4" text-anchor="end">D<tspan dy="4.8" font-size="12.8">0</tspan><tspan dy="-4.8">=2.0e-5</tspan></text>
<path d="M717.2 50H763.1" stroke="#0033cc" stroke-width="2.65" fill="none"/>
<text x="176.1" y="424.4" text-anchor="end">Base</text>
<path d="M185.8 419.2H231.9" stroke="#000" stroke-width="2.65" fill="none" stroke-dasharray="27.6 9.6 4.6 9.6"/>
<text x="176.1" y="442.15" text-anchor="end">B incr</text>
<path d="M185.8 436.95H231.9" stroke="#0d6a2d" stroke-width="2.65" fill="none"/>
<text x="176.1" y="458.3" text-anchor="end">δ<tspan dy="4.8" font-size="12.8">D</tspan><tspan dy="-4.8"> decr</tspan></text>
<path d="M185.8 454.7H231.9" stroke="#c8780a" stroke-width="2.65" fill="none"/>
<text x="176.1" y="476.45" text-anchor="end">u<tspan dy="4.8" font-size="12.8">Lyα</tspan><tspan dy="-4.8"> incr</tspan></text>
<path d="M185.8 472.45H231.9" stroke="#7810d8" stroke-width="2.65" fill="none"/>
<text x="176.1" y="495.4" text-anchor="end">a incr</text>
<path d="M185.8 490.2H231.9" stroke="#a60a0a" stroke-width="2.65" fill="none"/>
<text x="176.1" y="511.95" text-anchor="end">D<tspan dy="4.8" font-size="12.8">0</tspan><tspan dy="-4.8"> incr</tspan></text>
<path d="M185.8 507.95H231.9" stroke="#0845d8" stroke-width="2.65" fill="none"/>
<text x="594.5" y="344.1" text-anchor="end">Base</text>
<path d="M604.6 338.7H650.5" stroke="#000" stroke-width="2.65" fill="none"/>
<text x="594.5" y="360.95" text-anchor="end">D<tspan dy="4.8" font-size="12.8">0</tspan></text>
<path d="M604.6 356.55H650.5" stroke="#9db0ff" stroke-width="2.65" fill="none"/>
<text x="594.5" y="379.6" text-anchor="end">a</text>
<path d="M604.6 374.4H650.5" stroke="#ff9c9c" stroke-width="2.65" fill="none"/>
</svg>
</body></html>
